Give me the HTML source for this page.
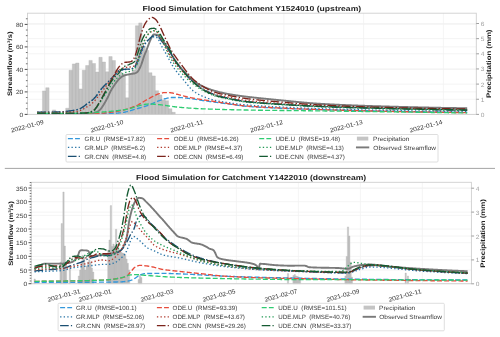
<!DOCTYPE html>
<html><head><meta charset="utf-8"><title>Flood Simulation</title>
<style>html,body{margin:0;padding:0;background:#fff;}svg{display:block;will-change:transform;}</style>
</head><body>
<svg text-rendering="geometricPrecision" width="500" height="337" viewBox="0 0 500 337" font-family='"Liberation Sans", sans-serif'><rect width="500" height="337" fill="#fff"/>
<path d="M27.5,114.4H476.3M27.5,91.9H476.3M27.5,69.4H476.3M27.5,46.9H476.3M27.5,24.4H476.3M27.5,114.4H476.3M27.5,99.25H476.3M27.5,84.1H476.3M27.5,68.95H476.3M27.5,53.8H476.3M27.5,38.65H476.3M27.5,23.5H476.3M44.6,13.2V114.4M124.35,13.2V114.4M204.1,13.2V114.4M283.85,13.2V114.4M363.6,13.2V114.4M443.35,13.2V114.4" stroke="#f0f0f0" stroke-width="0.75" fill="none"/>
<path d="M42.44,114.4H45.76V90.9H42.44ZM45.76,114.4H49.08V87.7H45.76ZM52.4,114.4H55.72V109.9H52.4ZM65.68,114.4H69V108.2H65.68ZM69,114.4H72.32V70.2H69ZM72.32,114.4H75.64V63.9H72.32ZM75.64,114.4H78.96V63H75.64ZM78.96,114.4H82.28V88.9H78.96ZM82.28,114.4H85.6V70.2H82.28ZM85.6,114.4H88.92V65.5H85.6ZM88.92,114.4H92.24V60.4H88.92ZM92.24,114.4H95.56V63.5H92.24ZM95.56,114.4H98.88V72H95.56ZM98.88,114.4H102.2V57.3H98.88ZM102.2,114.4H105.52V62H102.2ZM105.52,114.4H108.84V71.8H105.52ZM108.84,114.4H112.16V56.6H108.84ZM112.16,114.4H115.48V60.5H112.16ZM115.48,114.4H118.8V70H115.48ZM118.8,114.4H122.12V72H118.8ZM122.12,114.4H125.44V74H122.12ZM125.44,114.4H128.76V97.8H125.44ZM128.76,114.4H132.08V74H128.76ZM132.08,114.4H135.4V70H132.08ZM135.4,114.4H138.72V25.7H135.4ZM138.72,114.4H142.04V22.9H138.72ZM142.04,114.4H145.36V46H142.04ZM145.36,114.4H148.68V50.5H145.36ZM148.68,114.4H152V72.7H148.68ZM152,114.4H155.32V75.9H152ZM155.32,114.4H158.64V90.7H155.32ZM158.64,114.4H161.96V94.9H158.64ZM161.96,114.4H165.28V99.9H161.96ZM165.28,114.4H168.6V100.7H165.28ZM168.6,114.4H171.92V108.7H168.6ZM171.92,114.4H175.24V112.3H171.92Z" fill="#c4c4c4" stroke="#b4b4b4" stroke-width="0.35"/>
<clipPath id="c13"><rect x="27.5" y="13.2" width="448.8" height="101.2"/></clipPath>
<g clip-path="url(#c13)">
<path d="M37.2,113.9 L37.7,113.9 L38.2,113.9 L38.7,113.9 L39.2,113.9 L39.7,113.9 L40.2,113.9 L40.7,113.9 L41.2,113.9 L41.7,113.9 L42.2,113.9 L42.7,113.9 L43.2,113.9 L43.7,113.9 L44.2,113.9 L44.7,113.9 L45.2,113.9 L45.7,113.9 L46.2,113.9 L46.7,113.9 L47.2,113.9 L47.7,113.9 L48.2,113.9 L48.7,113.9 L49.2,113.9 L49.7,113.9 L49.9,113.9M51.8,113.9 L52.3,113.9 L52.8,113.9 L53.3,113.9 L53.8,113.9 L54.3,113.9 L54.8,113.9 L55.3,113.9 L55.8,113.9 L56.3,113.9 L56.8,113.9 L57.3,113.9 L57.8,113.9 L58.3,113.9 L58.8,113.9 L59.3,113.9 L59.8,113.9 L60.3,113.9 L60.8,113.9 L61.3,113.9 L61.8,113.9 L62.3,113.9 L62.8,113.9 L63.3,113.9 L63.8,113.9 L63.9,113.9M65.8,113.9 L66.3,113.9 L66.8,113.9 L67.3,113.9 L67.8,113.89 L68.3,113.89 L68.8,113.89 L69.3,113.89 L69.8,113.89 L70.3,113.89 L70.8,113.89 L71.3,113.89 L71.8,113.89 L72.3,113.89 L72.8,113.88 L73.3,113.88 L73.8,113.88 L74.3,113.88 L74.8,113.88 L75.3,113.88 L75.8,113.87 L76.3,113.87 L76.8,113.87 L77.3,113.87 L77.8,113.87 L78.3,113.86 L78.8,113.86 L79.3,113.86 L79.8,113.86 L80.3,113.85 L80.8,113.85 L81.3,113.85 L81.8,113.85 L82.3,113.84 L82.8,113.84 L83.3,113.84 L83.8,113.83 L84.3,113.83 L84.8,113.83 L85.3,113.82 L85.8,113.82 L86.3,113.81 L86.8,113.81 L87.3,113.81 L87.8,113.8 L88.3,113.8 L88.8,113.78 L89.3,113.75 L89.8,113.71 L90.3,113.67 L90.8,113.61 L91.3,113.55 L91.8,113.48 L92.3,113.41 L92.8,113.33 L93.3,113.24 L93.8,113.12 L94.3,112.95 L94.8,112.76 L95.3,112.55 L95.8,112.33 L96.3,112.09 L96.8,111.86 L97.3,111.6 L97.8,111.33 L98.3,111.03 L98.8,110.69 L99.3,110.32 L99.8,109.91 L100.3,109.41 L100.8,108.82 L101.3,108.16 L101.8,107.45 L102.3,106.7 L102.8,105.95 L103.3,105.2 L103.8,104.42 L104.3,103.6 L104.8,102.76 L105.3,101.89 L105.8,101 L106.3,100.09 L106.8,99.16 L107.3,98.19 L107.8,97.2 L108.3,96.18 L108.8,95.08 L109.3,93.95 L109.8,92.83 L110.3,91.78 L110.8,90.82 L111.3,89.92 L111.8,89.06 L112.3,88.24 L112.8,87.44 L113.3,86.66 L113.8,85.91 L114.3,85.18 L114.8,84.47 L115.3,83.77 L115.8,83.09 L116.3,82.4 L116.8,81.73 L117.3,81.07 L117.8,80.44 L118.3,79.84 L118.8,79.28 L119.3,78.78 L119.8,78.33 L120.3,77.9 L120.8,77.49 L121.3,77.1 L121.8,76.74 L122.3,76.41 L122.8,76.12 L123.3,75.88 L123.8,75.69 L124.3,75.51 L124.8,75.34 L125.3,75.19 L125.8,75.04 L126.3,74.91 L126.8,74.78 L127.3,74.67 L127.8,74.56 L128.3,74.45 L128.8,74.35 L129.3,74.25 L129.8,74.15 L130.3,74.06 L130.8,73.96 L131.3,73.88 L131.8,73.81 L132.3,73.75 L132.8,73.69 L133.3,73.63 L133.8,73.55 L134.3,73.46 L134.8,73.35 L135.3,73.21 L135.8,72.99 L136.3,72.71 L136.8,72.37 L137.3,71.97 L137.8,71.49 L138.3,70.78 L138.8,69.92 L139.3,68.98 L139.8,68.01 L140.3,66.93 L140.8,65.75 L141.3,64.48 L141.8,63.07 L142.3,61.59 L142.8,60.09 L143.3,58.51 L143.8,56.94 L144.3,55.5 L144.8,54.25 L145.3,53.11 L145.8,51.97 L146.3,50.74 L146.8,49.39 L147.3,48.01 L147.8,46.67 L148.3,45.33 L148.8,43.98 L149.3,42.66 L149.8,41.4 L150.3,40.23 L150.8,39.2 L151.3,38.19 L151.8,37.15 L152.3,36.15 L152.8,35.3 L153.3,34.69 L153.8,34.41 L154.3,34.41 L154.8,34.44 L155.3,34.5 L155.8,34.57 L156.3,34.66 L156.8,34.78 L157.3,35.02 L157.8,35.35 L158.3,35.75 L158.8,36.19 L159.3,36.63 L159.8,37.06 L160.3,37.54 L160.8,38.05 L161.3,38.61 L161.8,39.19 L162.3,39.8 L162.8,40.45 L163.3,41.15 L163.8,41.89 L164.3,42.67 L164.8,43.46 L165.3,44.28 L165.8,45.11 L166.3,45.93 L166.8,46.75 L167.3,47.56 L167.8,48.37 L168.3,49.21 L168.8,50.05 L169.3,50.9 L169.8,51.76 L170.3,52.63 L170.8,53.48 L171.3,54.34 L171.8,55.18 L172.3,56 L172.8,56.81 L173.3,57.59 L173.8,58.35 L174.3,59.09 L174.8,59.82 L175.3,60.54 L175.8,61.25 L176.3,61.96 L176.8,62.66 L177.3,63.34 L177.8,64.02 L178.3,64.69 L178.8,65.35 L179.3,66 L179.8,66.64 L180.3,67.26 L180.8,67.88 L181.3,68.48 L181.8,69.07 L182.3,69.64 L182.8,70.2 L183.3,70.73 L183.8,71.23 L184.3,71.72 L184.8,72.2 L185.3,72.7 L185.8,73.2 L186.3,73.71 L186.8,74.23 L187.3,74.75 L187.8,75.27 L188.3,75.79 L188.8,76.31 L189.3,76.83 L189.8,77.34 L190.3,77.84 L190.8,78.33 L191.3,78.81 L191.8,79.28 L192.3,79.73 L192.8,80.17 L193.3,80.58 L193.8,80.98 L194.3,81.35 L194.8,81.71 L195.3,82.06 L195.8,82.4 L196.3,82.74 L196.8,83.07 L197.3,83.39 L197.8,83.7 L198.3,84.01 L198.8,84.31 L199.3,84.6 L199.8,84.88 L200.3,85.15 L200.8,85.42 L201.3,85.68 L201.8,85.93 L202.3,86.18 L202.8,86.42 L203.3,86.65 L203.8,86.87 L204.3,87.09 L204.8,87.31 L205.3,87.52 L205.8,87.73 L206.3,87.94 L206.8,88.14 L207.3,88.33 L207.8,88.53 L208.3,88.72 L208.8,88.9 L209.3,89.09 L209.8,89.26 L210.3,89.44 L210.8,89.61 L211.3,89.78 L211.8,89.94 L212.3,90.1 L212.8,90.26 L213.3,90.42 L213.8,90.57 L214.3,90.71 L214.8,90.86 L215.3,91 L215.8,91.14 L216.3,91.28 L216.8,91.41 L217.3,91.54 L217.8,91.67 L218.3,91.8 L218.8,91.93 L219.3,92.05 L219.8,92.18 L220.3,92.3 L220.8,92.42 L221.3,92.53 L221.8,92.65 L222.3,92.76 L222.8,92.88 L223.3,92.99 L223.8,93.09 L224.3,93.2 L224.8,93.31 L225.3,93.41 L225.8,93.51 L226.3,93.61 L226.8,93.71 L227.3,93.81 L227.8,93.91 L228.3,94 L228.8,94.09 L229.3,94.19 L229.8,94.28 L230.3,94.36 L230.8,94.45 L231.3,94.54 L231.8,94.62 L232.3,94.71 L232.8,94.79 L233.3,94.87 L233.8,94.95 L234.3,95.03 L234.8,95.11 L235.3,95.18 L235.8,95.26 L236.3,95.33 L236.8,95.41 L237.3,95.48 L237.8,95.55 L238.3,95.62 L238.8,95.69 L239.3,95.76 L239.8,95.83 L240.3,95.89 L240.8,95.96 L241.3,96.03 L241.8,96.09 L242.3,96.16 L242.8,96.22 L243.3,96.29 L243.8,96.35 L244.3,96.41 L244.8,96.47 L245.3,96.54 L245.8,96.6 L246.3,96.66 L246.8,96.72 L247.3,96.78 L247.8,96.84 L248.3,96.9 L248.8,96.96 L249.3,97.02 L249.8,97.08 L250.3,97.14 L250.8,97.2 L251.3,97.26 L251.8,97.31 L252.3,97.37 L252.8,97.43 L253.3,97.48 L253.8,97.54 L254.3,97.59 L254.8,97.65 L255.3,97.71 L255.8,97.76 L256.3,97.81 L256.8,97.87 L257.3,97.92 L257.8,97.98 L258.3,98.03 L258.8,98.08 L259.3,98.14 L259.8,98.19 L260.3,98.24 L260.8,98.29 L261.3,98.35 L261.8,98.4 L262.3,98.45 L262.8,98.5 L263.3,98.55 L263.8,98.6 L264.3,98.65 L264.8,98.71 L265.3,98.76 L265.8,98.81 L266.3,98.86 L266.8,98.91 L267.3,98.96 L267.8,99.01 L268.3,99.06 L268.8,99.11 L269.3,99.16 L269.8,99.2 L270.3,99.25 L270.8,99.3 L271.3,99.35 L271.8,99.4 L272.3,99.45 L272.8,99.5 L273.3,99.55 L273.8,99.6 L274.3,99.65 L274.8,99.69 L275.3,99.74 L275.8,99.79 L276.3,99.84 L276.8,99.89 L277.3,99.94 L277.8,99.99 L278.3,100.03 L278.8,100.08 L279.3,100.13 L279.8,100.18 L280.3,100.23 L280.8,100.28 L281.3,100.33 L281.8,100.38 L282.3,100.43 L282.8,100.48 L283.3,100.53 L283.8,100.58 L284.3,100.63 L284.8,100.68 L285.3,100.73 L285.8,100.78 L286.3,100.83 L286.8,100.88 L287.3,100.93 L287.8,100.98 L288.3,101.03 L288.8,101.08 L289.3,101.13 L289.8,101.18 L290.3,101.23 L290.8,101.28 L291.3,101.33 L291.8,101.38 L292.3,101.43 L292.8,101.48 L293.3,101.53 L293.8,101.58 L294.3,101.63 L294.8,101.68 L295.3,101.73 L295.8,101.78 L296.3,101.83 L296.8,101.88 L297.3,101.93 L297.8,101.98 L298.3,102.03 L298.8,102.08 L299.3,102.13 L299.8,102.18 L300.3,102.22 L300.8,102.27 L301.3,102.32 L301.8,102.37 L302.3,102.41 L302.8,102.46 L303.3,102.51 L303.8,102.55 L304.3,102.6 L304.8,102.64 L305.3,102.69 L305.8,102.73 L306.3,102.78 L306.8,102.82 L307.3,102.86 L307.8,102.91 L308.3,102.95 L308.8,102.99 L309.3,103.03 L309.8,103.08 L310.3,103.12 L310.8,103.16 L311.3,103.2 L311.8,103.24 L312.3,103.27 L312.8,103.31 L313.3,103.35 L313.8,103.39 L314.3,103.42 L314.8,103.46 L315.3,103.5 L315.8,103.53 L316.3,103.57 L316.8,103.6 L317.3,103.63 L317.8,103.66 L318.3,103.7 L318.8,103.73 L319.3,103.76 L319.8,103.79 L320.3,103.82 L320.8,103.85 L321.3,103.88 L321.8,103.9 L322.3,103.93 L322.8,103.96 L323.3,103.99 L323.8,104.02 L324.3,104.04 L324.8,104.07 L325.3,104.1 L325.8,104.13 L326.3,104.15 L326.8,104.18 L327.3,104.21 L327.8,104.23 L328.3,104.26 L328.8,104.29 L329.3,104.31 L329.8,104.34 L330.3,104.37 L330.8,104.39 L331.3,104.42 L331.8,104.44 L332.3,104.47 L332.8,104.49 L333.3,104.52 L333.8,104.54 L334.3,104.57 L334.8,104.59 L335.3,104.62 L335.8,104.64 L336.3,104.66 L336.8,104.69 L337.3,104.71 L337.8,104.74 L338.3,104.76 L338.8,104.78 L339.3,104.81 L339.8,104.83 L340.3,104.85 L340.8,104.87 L341.3,104.9 L341.8,104.92 L342.3,104.94 L342.8,104.96 L343.3,104.99 L343.8,105.01 L344.3,105.03 L344.8,105.05 L345.3,105.07 L345.8,105.09 L346.3,105.12 L346.8,105.14 L347.3,105.16 L347.8,105.18 L348.3,105.2 L348.8,105.22 L349.3,105.24 L349.8,105.26 L350.3,105.28 L350.8,105.3 L351.3,105.32 L351.8,105.34 L352.3,105.36 L352.8,105.38 L353.3,105.4 L353.8,105.42 L354.3,105.44 L354.8,105.46 L355.3,105.48 L355.8,105.5 L356.3,105.52 L356.8,105.53 L357.3,105.55 L357.8,105.57 L358.3,105.59 L358.8,105.61 L359.3,105.63 L359.8,105.64 L360.3,105.66 L360.8,105.68 L361.3,105.7 L361.8,105.72 L362.3,105.73 L362.8,105.75 L363.3,105.77 L363.8,105.79 L364.3,105.8 L364.8,105.82 L365.3,105.84 L365.8,105.85 L366.3,105.87 L366.8,105.89 L367.3,105.9 L367.8,105.92 L368.3,105.94 L368.8,105.95 L369.3,105.97 L369.8,105.99 L370.3,106 L370.8,106.02 L371.3,106.03 L371.8,106.05 L372.3,106.07 L372.8,106.08 L373.3,106.1 L373.8,106.11 L374.3,106.13 L374.8,106.14 L375.3,106.16 L375.8,106.17 L376.3,106.19 L376.8,106.21 L377.3,106.22 L377.8,106.24 L378.3,106.25 L378.8,106.26 L379.3,106.28 L379.8,106.29 L380.3,106.31 L380.8,106.32 L381.3,106.34 L381.8,106.35 L382.3,106.37 L382.8,106.38 L383.3,106.4 L383.8,106.41 L384.3,106.42 L384.8,106.44 L385.3,106.45 L385.8,106.47 L386.3,106.48 L386.8,106.5 L387.3,106.51 L387.8,106.53 L388.3,106.54 L388.8,106.55 L389.3,106.57 L389.8,106.58 L390.3,106.6 L390.8,106.61 L391.3,106.62 L391.8,106.64 L392.3,106.65 L392.8,106.67 L393.3,106.68 L393.8,106.69 L394.3,106.71 L394.8,106.72 L395.3,106.74 L395.8,106.75 L396.3,106.76 L396.8,106.78 L397.3,106.79 L397.8,106.81 L398.3,106.82 L398.8,106.83 L399.3,106.85 L399.8,106.86 L400.3,106.87 L400.8,106.89 L401.3,106.9 L401.8,106.91 L402.3,106.93 L402.8,106.94 L403.3,106.95 L403.8,106.97 L404.3,106.98 L404.8,106.99 L405.3,107.01 L405.8,107.02 L406.3,107.03 L406.8,107.05 L407.3,107.06 L407.8,107.07 L408.3,107.09 L408.8,107.1 L409.3,107.11 L409.8,107.12 L410.3,107.14 L410.8,107.15 L411.3,107.16 L411.8,107.17 L412.3,107.19 L412.8,107.2 L413.3,107.21 L413.8,107.22 L414.3,107.24 L414.8,107.25 L415.3,107.26 L415.8,107.27 L416.3,107.29 L416.8,107.3 L417.3,107.31 L417.8,107.32 L418.3,107.33 L418.8,107.35 L419.3,107.36 L419.8,107.37 L420.3,107.38 L420.8,107.39 L421.3,107.41 L421.8,107.42 L422.3,107.43 L422.8,107.44 L423.3,107.45 L423.8,107.46 L424.3,107.47 L424.8,107.49 L425.3,107.5 L425.8,107.51 L426.3,107.52 L426.8,107.53 L427.3,107.54 L427.8,107.55 L428.3,107.56 L428.8,107.57 L429.3,107.59 L429.8,107.6 L430.3,107.61 L430.8,107.62 L431.3,107.63 L431.8,107.64 L432.3,107.65 L432.8,107.66 L433.3,107.67 L433.8,107.68 L434.3,107.69 L434.8,107.7 L435.3,107.71 L435.8,107.72 L436.3,107.73 L436.8,107.74 L437.3,107.75 L437.8,107.76 L438.3,107.77 L438.8,107.78 L439.3,107.79 L439.8,107.8 L440.3,107.81 L440.8,107.82 L441.3,107.83 L441.8,107.84 L442.3,107.84 L442.8,107.85 L443.3,107.86 L443.8,107.87 L444.3,107.88 L444.8,107.89 L445.3,107.9 L445.8,107.91 L446.3,107.92 L446.8,107.92 L447.3,107.93 L447.8,107.94 L448.3,107.95 L448.8,107.96 L449.3,107.96 L449.8,107.97 L450.3,107.98 L450.8,107.99 L451.3,108 L451.8,108 L452.3,108.01 L452.8,108.02 L453.3,108.03 L453.8,108.03 L454.3,108.04 L454.8,108.05 L455.3,108.06 L455.8,108.06 L456.3,108.07 L456.8,108.08 L457.3,108.08 L457.8,108.09 L458.3,108.1 L458.8,108.1 L459.3,108.11 L459.8,108.12 L460.3,108.12 L460.8,108.13 L461.3,108.13 L461.8,108.14 L462.3,108.15 L462.8,108.15 L463.3,108.16 L463.8,108.16 L464.3,108.17 L464.8,108.17 L465.3,108.18 L465.8,108.19 L466.3,108.19 L466.8,108.2 L467.2,108.2" fill="none" stroke="#7a7a7a" stroke-width="1.9" stroke-linejoin="round"/>
<path d="M37.2,114 L38,114 L38.8,114 L39.6,114 L40.4,114 L41.2,114 L42,114 L42.8,114 L43.6,114 L44.4,114 L45.2,114 L46,114 L46.8,114 L47.6,114 L48.4,114 L49.2,114 L49.9,114M51.8,114 L52.6,114 L53.4,114 L54.2,114 L55,114 L55.8,114 L56.6,114 L57.4,114 L58.2,114 L59,114 L59.8,114 L60.6,114 L61.4,114 L62.2,114 L63,114 L63.8,114 L63.9,114M65.8,114 L66.6,114 L67.4,114 L68.2,114 L69,114 L69.8,114 L70.6,114 L71.4,114 L72.2,114 L73,114 L73.8,114 L74.6,114 L75.4,114 L76.2,114 L77,114 L77.8,114 L78.6,114 L79.4,114 L80.2,114 L81,114 L81.8,114 L82.6,114 L83.4,113.99 L84.2,113.99 L85,113.99 L85.8,113.98 L86.6,113.98 L87.4,113.97 L88.2,113.97 L89,113.96 L89.8,113.96 L90.6,113.95 L91.4,113.94 L92.2,113.93 L93,113.92 L93.8,113.91 L94.6,113.9 L95.4,113.89 L96.2,113.88 L97,113.87 L97.8,113.85 L98.6,113.84 L99.4,113.83 L100.2,113.81 L101,113.8 L101.8,113.78 L102.6,113.77 L103.4,113.75 L104.2,113.74 L105,113.72 L105.8,113.7 L106.6,113.68 L107.4,113.66 L108.2,113.64 L109,113.63 L109.8,113.61 L110.6,113.58 L111.4,113.55 L112.2,113.51 L113,113.47 L113.8,113.42 L114.6,113.36 L115.4,113.3 L116.2,113.23 L117,113.16 L117.8,113.08 L118.6,112.99 L119.4,112.91 L120.2,112.82 L121,112.72 L121.8,112.62 L122.6,112.52 L123.4,112.39 L124.2,112.25 L125,112.09 L125.8,111.91 L126.6,111.72 L127.4,111.51 L128.2,111.3 L129,111.08 L129.8,110.85 L130.6,110.61 L131.4,110.37 L132.2,110.13 L133,109.89 L133.8,109.64 L134.6,109.41 L135.4,109.17 L136.2,108.94 L137,108.72 L137.8,108.49 L138.6,108.26 L139.4,108.02 L140.2,107.79 L141,107.55 L141.8,107.31 L142.6,107.06 L143.4,106.81 L144.2,106.56 L145,106.3 L145.8,106.04 L146.6,105.77 L147.4,105.49 L148.2,105.21 L149,104.93 L149.8,104.63 L150.6,104.31 L151.4,103.97 L152.2,103.63 L153,103.28 L153.8,102.93 L154.6,102.58 L155.4,102.23 L156.2,101.88 L157,101.55 L157.8,101.23 L158.6,100.92 L159.4,100.62 L160.2,100.31 L161,100.01 L161.8,99.72 L162.6,99.44 L163.4,99.18 L164.2,98.95 L165,98.75 L165.8,98.56 L166.6,98.36 L167.4,98.16 L168.2,97.98 L169,97.82 L169.8,97.68 L170.6,97.58 L171.4,97.51 L172.2,97.5 L173,97.5 L173.8,97.5 L174.6,97.5 L175.4,97.5 L176.2,97.5 L177,97.5 L177.8,97.5 L178.6,97.51 L179.4,97.54 L180.2,97.57 L181,97.62 L181.8,97.67 L182.6,97.74 L183.4,97.81 L184.2,97.89 L185,97.98 L185.8,98.07 L186.6,98.16 L187.4,98.25 L188.2,98.35 L189,98.44 L189.8,98.53 L190.6,98.62 L191.4,98.72 L192.2,98.82 L193,98.94 L193.8,99.06 L194.6,99.18 L195.4,99.31 L196.2,99.44 L197,99.58 L197.8,99.72 L198.6,99.86 L199.4,99.99 L200.2,100.13 L201,100.26 L201.8,100.39 L202.6,100.51 L203.4,100.63 L204.2,100.74 L205,100.86 L205.8,100.97 L206.6,101.08 L207.4,101.19 L208.2,101.3 L209,101.41 L209.8,101.51 L210.6,101.62 L211.4,101.73 L212.2,101.83 L213,101.94 L213.8,102.04 L214.6,102.14 L215.4,102.25 L216.2,102.35 L217,102.45 L217.8,102.55 L218.6,102.66 L219.4,102.76 L220.2,102.86 L221,102.96 L221.8,103.06 L222.6,103.17 L223.4,103.27 L224.2,103.37 L225,103.47 L225.8,103.58 L226.6,103.68 L227.4,103.79 L228.2,103.89 L229,104 L229.8,104.11 L230.6,104.21 L231.4,104.32 L232.2,104.44 L233,104.56 L233.8,104.68 L234.6,104.8 L235.4,104.93 L236.2,105.05 L237,105.17 L237.8,105.3 L238.6,105.42 L239.4,105.53 L240.2,105.65 L241,105.76 L241.8,105.86 L242.6,105.96 L243.4,106.05 L244.2,106.13 L245,106.2 L245.8,106.27 L246.6,106.33 L247.4,106.4 L248.2,106.46 L249,106.52 L249.8,106.58 L250.6,106.64 L251.4,106.7 L252.2,106.76 L253,106.81 L253.8,106.87 L254.6,106.92 L255.4,106.97 L256.2,107.02 L257,107.07 L257.8,107.12 L258.6,107.17 L259.4,107.21 L260.2,107.26 L261,107.3 L261.8,107.35 L262.6,107.39 L263.4,107.43 L264.2,107.47 L265,107.51 L265.8,107.55 L266.6,107.59 L267.4,107.63 L268.2,107.67 L269,107.71 L269.8,107.75 L270.6,107.78 L271.4,107.82 L272.2,107.86 L273,107.89 L273.8,107.93 L274.6,107.96 L275.4,108 L276.2,108.03 L277,108.07 L277.8,108.1 L278.6,108.14 L279.4,108.17 L280.2,108.21 L281,108.24 L281.8,108.28 L282.6,108.31 L283.4,108.35 L284.2,108.38 L285,108.41 L285.8,108.44 L286.6,108.48 L287.4,108.51 L288.2,108.54 L289,108.57 L289.8,108.6 L290.6,108.63 L291.4,108.66 L292.2,108.7 L293,108.73 L293.8,108.75 L294.6,108.78 L295.4,108.81 L296.2,108.84 L297,108.87 L297.8,108.9 L298.6,108.93 L299.4,108.96 L300.2,108.98 L301,109.01 L301.8,109.04 L302.6,109.06 L303.4,109.09 L304.2,109.12 L305,109.14 L305.8,109.17 L306.6,109.2 L307.4,109.22 L308.2,109.25 L309,109.27 L309.8,109.3 L310.6,109.32 L311.4,109.35 L312.2,109.37 L313,109.4 L313.8,109.42 L314.6,109.44 L315.4,109.47 L316.2,109.49 L317,109.51 L317.8,109.54 L318.6,109.56 L319.4,109.58 L320.2,109.61 L321,109.63 L321.8,109.65 L322.6,109.67 L323.4,109.7 L324.2,109.72 L325,109.74 L325.8,109.76 L326.6,109.78 L327.4,109.8 L328.2,109.83 L329,109.85 L329.8,109.87 L330.6,109.89 L331.4,109.91 L332.2,109.93 L333,109.95 L333.8,109.97 L334.6,109.99 L335.4,110.01 L336.2,110.03 L337,110.05 L337.8,110.07 L338.6,110.09 L339.4,110.11 L340.2,110.13 L341,110.15 L341.8,110.17 L342.6,110.19 L343.4,110.21 L344.2,110.23 L345,110.25 L345.8,110.27 L346.6,110.29 L347.4,110.31 L348.2,110.33 L349,110.35 L349.8,110.36 L350.6,110.38 L351.4,110.4 L352.2,110.42 L353,110.44 L353.8,110.46 L354.6,110.47 L355.4,110.49 L356.2,110.51 L357,110.53 L357.8,110.54 L358.6,110.56 L359.4,110.58 L360.2,110.6 L361,110.61 L361.8,110.63 L362.6,110.65 L363.4,110.66 L364.2,110.68 L365,110.7 L365.8,110.72 L366.6,110.73 L367.4,110.75 L368.2,110.77 L369,110.78 L369.8,110.8 L370.6,110.81 L371.4,110.83 L372.2,110.85 L373,110.86 L373.8,110.88 L374.6,110.89 L375.4,110.91 L376.2,110.93 L377,110.94 L377.8,110.96 L378.6,110.97 L379.4,110.99 L380.2,111 L381,111.02 L381.8,111.03 L382.6,111.05 L383.4,111.07 L384.2,111.08 L385,111.1 L385.8,111.11 L386.6,111.13 L387.4,111.14 L388.2,111.16 L389,111.17 L389.8,111.19 L390.6,111.2 L391.4,111.22 L392.2,111.23 L393,111.25 L393.8,111.26 L394.6,111.28 L395.4,111.29 L396.2,111.3 L397,111.32 L397.8,111.33 L398.6,111.35 L399.4,111.36 L400.2,111.38 L401,111.39 L401.8,111.41 L402.6,111.42 L403.4,111.44 L404.2,111.45 L405,111.46 L405.8,111.48 L406.6,111.49 L407.4,111.51 L408.2,111.52 L409,111.53 L409.8,111.55 L410.6,111.56 L411.4,111.58 L412.2,111.59 L413,111.6 L413.8,111.62 L414.6,111.63 L415.4,111.64 L416.2,111.66 L417,111.67 L417.8,111.69 L418.6,111.7 L419.4,111.71 L420.2,111.73 L421,111.74 L421.8,111.75 L422.6,111.77 L423.4,111.78 L424.2,111.79 L425,111.8 L425.8,111.82 L426.6,111.83 L427.4,111.84 L428.2,111.86 L429,111.87 L429.8,111.88 L430.6,111.89 L431.4,111.91 L432.2,111.92 L433,111.93 L433.8,111.94 L434.6,111.96 L435.4,111.97 L436.2,111.98 L437,111.99 L437.8,112 L438.6,112.02 L439.4,112.03 L440.2,112.04 L441,112.05 L441.8,112.06 L442.6,112.08 L443.4,112.09 L444.2,112.1 L445,112.11 L445.8,112.12 L446.6,112.13 L447.4,112.14 L448.2,112.16 L449,112.17 L449.8,112.18 L450.6,112.19 L451.4,112.2 L452.2,112.21 L453,112.22 L453.8,112.23 L454.6,112.24 L455.4,112.25 L456.2,112.26 L457,112.27 L457.8,112.28 L458.6,112.29 L459.4,112.3 L460.2,112.31 L461,112.32 L461.8,112.33 L462.6,112.34 L463.4,112.35 L464.2,112.36 L465,112.37 L465.8,112.38 L466.6,112.39 L467.2,112.4" fill="none" stroke="#3498db" stroke-width="1.35" stroke-dasharray="5,2.16"/>
<path d="M37.2,112.2 L38,112.2 L38.8,112.2 L39.6,112.2 L40.4,112.2 L41.2,112.19 L42,112.19 L42.8,112.19 L43.6,112.18 L44.4,112.18 L45.2,112.18 L46,112.17 L46.8,112.16 L47.6,112.16 L48.4,112.15 L49.2,112.14 L49.9,112.14M51.8,112.12 L52.6,112.11 L53.4,112.1 L54.2,112.09 L55,112.08 L55.8,112.07 L56.6,112.06 L57.4,112.04 L58.2,112.03 L59,112.02 L59.8,112 L60.6,111.99 L61.4,111.96 L62.2,111.91 L63,111.86 L63.8,111.8 L63.9,111.79M65.8,111.61 L66.6,111.52 L67.4,111.42 L68.2,111.33 L69,111.23 L69.8,111.13 L70.6,111.02 L71.4,110.91 L72.2,110.78 L73,110.65 L73.8,110.5 L74.6,110.34 L75.4,110.17 L76.2,109.98 L77,109.78 L77.8,109.56 L78.6,109.32 L79.4,109.07 L80.2,108.77 L81,108.37 L81.8,107.9 L82.6,107.39 L83.4,106.86 L84.2,106.26 L85,105.6 L85.8,104.95 L86.6,104.36 L87.4,103.8 L88.2,103.24 L89,102.67 L89.8,102.1 L90.6,101.52 L91.4,100.94 L92.2,100.31 L93,99.62 L93.8,98.86 L94.6,98.03 L95.4,97.15 L96.2,96.2 L97,95.13 L97.8,93.95 L98.6,92.73 L99.4,91.59 L100.2,90.59 L101,89.65 L101.8,88.76 L102.6,87.9 L103.4,87.06 L104.2,86.22 L105,85.37 L105.8,84.54 L106.6,83.72 L107.4,82.91 L108.2,82.11 L109,81.31 L109.8,80.5 L110.6,79.7 L111.4,78.9 L112.2,78.1 L113,77.3 L113.8,76.5 L114.6,75.67 L115.4,74.76 L116.2,73.83 L117,72.96 L117.8,72.21 L118.6,71.65 L119.4,71.25 L120.2,70.89 L121,70.56 L121.8,70.27 L122.6,70.02 L123.4,69.82 L124.2,69.67 L125,69.57 L125.8,69.5 L126.6,69.46 L127.4,69.42 L128.2,69.38 L129,69.34 L129.8,69.28 L130.6,69.2 L131.4,69.04 L132.2,68.75 L133,68.36 L133.8,67.88 L134.6,67.31 L135.4,66.61 L136.2,65.48 L137,64.03 L137.8,62.41 L138.6,60.64 L139.4,58.51 L140.2,56.18 L141,53.86 L141.8,51.74 L142.6,49.82 L143.4,47.91 L144.2,46.1 L145,44.48 L145.8,43.14 L146.6,42.05 L147.4,41.03 L148.2,40.11 L149,39.3 L149.8,38.63 L150.6,38.1 L151.4,37.7 L152.2,37.33 L153,37 L153.8,36.76 L154.6,36.62 L155.4,36.65 L156.2,37 L157,37.58 L157.8,38.31 L158.6,39.63 L159.4,41.4 L160.2,43.29 L161,45 L161.8,46.48 L162.6,47.91 L163.4,49.31 L164.2,50.69 L165,52.06 L165.8,53.45 L166.6,54.85 L167.4,56.3 L168.2,57.78 L169,59.28 L169.8,60.77 L170.6,62.25 L171.4,63.69 L172.2,65.08 L173,66.41 L173.8,67.65 L174.6,68.82 L175.4,69.93 L176.2,71.01 L177,72.04 L177.8,73.05 L178.6,74.03 L179.4,74.99 L180.2,75.94 L181,76.88 L181.8,77.82 L182.6,78.76 L183.4,79.72 L184.2,80.7 L185,81.69 L185.8,82.69 L186.6,83.69 L187.4,84.68 L188.2,85.66 L189,86.61 L189.8,87.53 L190.6,88.41 L191.4,89.25 L192.2,90.02 L193,90.74 L193.8,91.38 L194.6,91.95 L195.4,92.49 L196.2,93 L197,93.48 L197.8,93.94 L198.6,94.38 L199.4,94.79 L200.2,95.18 L201,95.55 L201.8,95.91 L202.6,96.25 L203.4,96.58 L204.2,96.9 L205,97.21 L205.8,97.52 L206.6,97.81 L207.4,98.1 L208.2,98.38 L209,98.64 L209.8,98.9 L210.6,99.15 L211.4,99.39 L212.2,99.62 L213,99.83 L213.8,100.04 L214.6,100.24 L215.4,100.42 L216.2,100.6 L217,100.77 L217.8,100.93 L218.6,101.09 L219.4,101.24 L220.2,101.39 L221,101.53 L221.8,101.67 L222.6,101.81 L223.4,101.94 L224.2,102.07 L225,102.19 L225.8,102.31 L226.6,102.43 L227.4,102.55 L228.2,102.67 L229,102.78 L229.8,102.9 L230.6,103.01 L231.4,103.13 L232.2,103.24 L233,103.36 L233.8,103.47 L234.6,103.58 L235.4,103.69 L236.2,103.8 L237,103.9 L237.8,104.01 L238.6,104.11 L239.4,104.21 L240.2,104.3 L241,104.4 L241.8,104.48 L242.6,104.57 L243.4,104.65 L244.2,104.73 L245,104.8 L245.8,104.87 L246.6,104.94 L247.4,105 L248.2,105.07 L249,105.13 L249.8,105.2 L250.6,105.26 L251.4,105.32 L252.2,105.38 L253,105.44 L253.8,105.49 L254.6,105.55 L255.4,105.61 L256.2,105.66 L257,105.71 L257.8,105.77 L258.6,105.82 L259.4,105.87 L260.2,105.92 L261,105.97 L261.8,106.02 L262.6,106.07 L263.4,106.11 L264.2,106.16 L265,106.21 L265.8,106.25 L266.6,106.3 L267.4,106.34 L268.2,106.38 L269,106.43 L269.8,106.47 L270.6,106.51 L271.4,106.56 L272.2,106.6 L273,106.64 L273.8,106.68 L274.6,106.72 L275.4,106.77 L276.2,106.81 L277,106.85 L277.8,106.89 L278.6,106.93 L279.4,106.97 L280.2,107.01 L281,107.05 L281.8,107.09 L282.6,107.13 L283.4,107.17 L284.2,107.21 L285,107.25 L285.8,107.29 L286.6,107.33 L287.4,107.37 L288.2,107.41 L289,107.44 L289.8,107.48 L290.6,107.52 L291.4,107.56 L292.2,107.6 L293,107.63 L293.8,107.67 L294.6,107.71 L295.4,107.74 L296.2,107.78 L297,107.81 L297.8,107.85 L298.6,107.88 L299.4,107.92 L300.2,107.95 L301,107.99 L301.8,108.02 L302.6,108.05 L303.4,108.09 L304.2,108.12 L305,108.15 L305.8,108.19 L306.6,108.22 L307.4,108.25 L308.2,108.28 L309,108.31 L309.8,108.34 L310.6,108.37 L311.4,108.4 L312.2,108.43 L313,108.46 L313.8,108.49 L314.6,108.52 L315.4,108.55 L316.2,108.57 L317,108.6 L317.8,108.63 L318.6,108.65 L319.4,108.68 L320.2,108.71 L321,108.73 L321.8,108.76 L322.6,108.78 L323.4,108.81 L324.2,108.83 L325,108.86 L325.8,108.88 L326.6,108.91 L327.4,108.93 L328.2,108.95 L329,108.98 L329.8,109 L330.6,109.02 L331.4,109.05 L332.2,109.07 L333,109.09 L333.8,109.12 L334.6,109.14 L335.4,109.16 L336.2,109.18 L337,109.2 L337.8,109.23 L338.6,109.25 L339.4,109.27 L340.2,109.29 L341,109.31 L341.8,109.33 L342.6,109.35 L343.4,109.38 L344.2,109.4 L345,109.42 L345.8,109.44 L346.6,109.46 L347.4,109.48 L348.2,109.5 L349,109.52 L349.8,109.54 L350.6,109.56 L351.4,109.58 L352.2,109.6 L353,109.61 L353.8,109.63 L354.6,109.65 L355.4,109.67 L356.2,109.69 L357,109.71 L357.8,109.73 L358.6,109.75 L359.4,109.76 L360.2,109.78 L361,109.8 L361.8,109.82 L362.6,109.84 L363.4,109.85 L364.2,109.87 L365,109.89 L365.8,109.91 L366.6,109.92 L367.4,109.94 L368.2,109.96 L369,109.97 L369.8,109.99 L370.6,110.01 L371.4,110.03 L372.2,110.04 L373,110.06 L373.8,110.07 L374.6,110.09 L375.4,110.11 L376.2,110.12 L377,110.14 L377.8,110.16 L378.6,110.17 L379.4,110.19 L380.2,110.2 L381,110.22 L381.8,110.24 L382.6,110.25 L383.4,110.27 L384.2,110.28 L385,110.3 L385.8,110.31 L386.6,110.33 L387.4,110.35 L388.2,110.36 L389,110.38 L389.8,110.39 L390.6,110.41 L391.4,110.42 L392.2,110.44 L393,110.45 L393.8,110.47 L394.6,110.48 L395.4,110.5 L396.2,110.51 L397,110.53 L397.8,110.54 L398.6,110.56 L399.4,110.57 L400.2,110.59 L401,110.6 L401.8,110.62 L402.6,110.63 L403.4,110.65 L404.2,110.66 L405,110.68 L405.8,110.69 L406.6,110.71 L407.4,110.72 L408.2,110.73 L409,110.75 L409.8,110.76 L410.6,110.78 L411.4,110.79 L412.2,110.8 L413,110.82 L413.8,110.83 L414.6,110.85 L415.4,110.86 L416.2,110.87 L417,110.89 L417.8,110.9 L418.6,110.92 L419.4,110.93 L420.2,110.94 L421,110.96 L421.8,110.97 L422.6,110.98 L423.4,111 L424.2,111.01 L425,111.02 L425.8,111.03 L426.6,111.05 L427.4,111.06 L428.2,111.07 L429,111.09 L429.8,111.1 L430.6,111.11 L431.4,111.12 L432.2,111.14 L433,111.15 L433.8,111.16 L434.6,111.17 L435.4,111.19 L436.2,111.2 L437,111.21 L437.8,111.22 L438.6,111.23 L439.4,111.24 L440.2,111.26 L441,111.27 L441.8,111.28 L442.6,111.29 L443.4,111.3 L444.2,111.31 L445,111.32 L445.8,111.34 L446.6,111.35 L447.4,111.36 L448.2,111.37 L449,111.38 L449.8,111.39 L450.6,111.4 L451.4,111.41 L452.2,111.42 L453,111.43 L453.8,111.44 L454.6,111.45 L455.4,111.46 L456.2,111.47 L457,111.48 L457.8,111.49 L458.6,111.5 L459.4,111.51 L460.2,111.52 L461,111.53 L461.8,111.54 L462.6,111.55 L463.4,111.56 L464.2,111.57 L465,111.58 L465.8,111.58 L466.6,111.59 L467.2,111.6" fill="none" stroke="#2874a6" stroke-width="1.35" stroke-dasharray="1.35,2.23"/>
<path d="M37.2,112.2 L38,112.2 L38.8,112.2 L39.6,112.2 L40.4,112.19 L41.2,112.19 L42,112.19 L42.8,112.18 L43.6,112.17 L44.4,112.17 L45.2,112.16 L46,112.15 L46.8,112.14 L47.6,112.14 L48.4,112.13 L49.2,112.11 L49.9,112.1M51.8,112.07 L52.6,112.06 L53.4,112.05 L54.2,112.03 L55,112.01 L55.8,112 L56.6,111.98 L57.4,111.96 L58.2,111.94 L59,111.93 L59.8,111.91 L60.6,111.88 L61.4,111.84 L62.2,111.79 L63,111.73 L63.8,111.66 L63.9,111.65M65.8,111.45 L66.6,111.35 L67.4,111.25 L68.2,111.15 L69,111.04 L69.8,110.93 L70.6,110.82 L71.4,110.7 L72.2,110.57 L73,110.43 L73.8,110.29 L74.6,110.13 L75.4,109.96 L76.2,109.77 L77,109.57 L77.8,109.36 L78.6,109.12 L79.4,108.87 L80.2,108.57 L81,108.17 L81.8,107.7 L82.6,107.19 L83.4,106.66 L84.2,106.06 L85,105.4 L85.8,104.75 L86.6,104.16 L87.4,103.6 L88.2,103.04 L89,102.47 L89.8,101.9 L90.6,101.32 L91.4,100.74 L92.2,100.11 L93,99.42 L93.8,98.66 L94.6,97.84 L95.4,96.95 L96.2,96 L97,94.9 L97.8,93.66 L98.6,92.39 L99.4,91.2 L100.2,90.18 L101,89.23 L101.8,88.34 L102.6,87.49 L103.4,86.65 L104.2,85.82 L105,84.97 L105.8,84.15 L106.6,83.33 L107.4,82.52 L108.2,81.72 L109,80.92 L109.8,80.11 L110.6,79.3 L111.4,78.48 L112.2,77.66 L113,76.84 L113.8,76.01 L114.6,75.13 L115.4,74.13 L116.2,73.12 L117,72.17 L117.8,71.38 L118.6,70.84 L119.4,70.52 L120.2,70.25 L121,70 L121.8,69.79 L122.6,69.62 L123.4,69.47 L124.2,69.36 L125,69.27 L125.8,69.21 L126.6,69.16 L127.4,69.13 L128.2,69.09 L129,69.05 L129.8,68.99 L130.6,68.9 L131.4,68.72 L132.2,68.4 L133,67.94 L133.8,67.37 L134.6,66.68 L135.4,65.78 L136.2,64.14 L137,62.07 L137.8,60 L138.6,57.96 L139.4,55.76 L140.2,53.53 L141,51.41 L141.8,49.51 L142.6,47.83 L143.4,46.22 L144.2,44.71 L145,43.37 L145.8,42.24 L146.6,41.35 L147.4,40.63 L148.2,39.98 L149,39.3 L149.8,38.52 L150.6,37.69 L151.4,36.93 L152.2,36.35 L153,35.93 L153.8,35.56 L154.6,35.33 L155.4,35.34 L156.2,35.63 L157,36.13 L157.8,36.74 L158.6,37.38 L159.4,38.17 L160.2,39.17 L161,40.27 L161.8,41.39 L162.6,42.42 L163.4,43.39 L164.2,44.33 L165,45.28 L165.8,46.25 L166.6,47.25 L167.4,48.26 L168.2,49.28 L169,50.35 L169.8,51.5 L170.6,52.79 L171.4,54.26 L172.2,55.82 L173,57.35 L173.8,58.74 L174.6,59.98 L175.4,61.18 L176.2,62.33 L177,63.45 L177.8,64.53 L178.6,65.58 L179.4,66.61 L180.2,67.62 L181,68.61 L181.8,69.59 L182.6,70.56 L183.4,71.52 L184.2,72.48 L185,73.43 L185.8,74.37 L186.6,75.3 L187.4,76.2 L188.2,77.08 L189,77.94 L189.8,78.77 L190.6,79.56 L191.4,80.32 L192.2,81.05 L193,81.76 L193.8,82.45 L194.6,83.13 L195.4,83.78 L196.2,84.42 L197,85.03 L197.8,85.62 L198.6,86.19 L199.4,86.73 L200.2,87.25 L201,87.75 L201.8,88.23 L202.6,88.71 L203.4,89.18 L204.2,89.64 L205,90.09 L205.8,90.54 L206.6,90.97 L207.4,91.39 L208.2,91.8 L209,92.19 L209.8,92.58 L210.6,92.94 L211.4,93.3 L212.2,93.64 L213,93.96 L213.8,94.27 L214.6,94.56 L215.4,94.83 L216.2,95.09 L217,95.34 L217.8,95.58 L218.6,95.81 L219.4,96.04 L220.2,96.25 L221,96.46 L221.8,96.66 L222.6,96.86 L223.4,97.05 L224.2,97.23 L225,97.41 L225.8,97.59 L226.6,97.77 L227.4,97.94 L228.2,98.11 L229,98.28 L229.8,98.45 L230.6,98.62 L231.4,98.79 L232.2,98.96 L233,99.13 L233.8,99.31 L234.6,99.47 L235.4,99.64 L236.2,99.81 L237,99.97 L237.8,100.13 L238.6,100.28 L239.4,100.43 L240.2,100.57 L241,100.71 L241.8,100.85 L242.6,100.97 L243.4,101.09 L244.2,101.2 L245,101.3 L245.8,101.4 L246.6,101.49 L247.4,101.58 L248.2,101.67 L249,101.76 L249.8,101.84 L250.6,101.93 L251.4,102.01 L252.2,102.09 L253,102.17 L253.8,102.24 L254.6,102.32 L255.4,102.39 L256.2,102.46 L257,102.53 L257.8,102.6 L258.6,102.67 L259.4,102.74 L260.2,102.8 L261,102.86 L261.8,102.93 L262.6,102.99 L263.4,103.05 L264.2,103.11 L265,103.17 L265.8,103.23 L266.6,103.29 L267.4,103.34 L268.2,103.4 L269,103.46 L269.8,103.51 L270.6,103.57 L271.4,103.62 L272.2,103.67 L273,103.73 L273.8,103.78 L274.6,103.84 L275.4,103.89 L276.2,103.94 L277,104 L277.8,104.05 L278.6,104.11 L279.4,104.16 L280.2,104.21 L281,104.27 L281.8,104.32 L282.6,104.38 L283.4,104.43 L284.2,104.48 L285,104.54 L285.8,104.59 L286.6,104.64 L287.4,104.7 L288.2,104.75 L289,104.8 L289.8,104.85 L290.6,104.9 L291.4,104.95 L292.2,105.01 L293,105.06 L293.8,105.11 L294.6,105.16 L295.4,105.21 L296.2,105.25 L297,105.3 L297.8,105.35 L298.6,105.4 L299.4,105.45 L300.2,105.49 L301,105.54 L301.8,105.59 L302.6,105.63 L303.4,105.68 L304.2,105.72 L305,105.77 L305.8,105.81 L306.6,105.86 L307.4,105.9 L308.2,105.94 L309,105.98 L309.8,106.02 L310.6,106.06 L311.4,106.1 L312.2,106.14 L313,106.18 L313.8,106.22 L314.6,106.26 L315.4,106.3 L316.2,106.33 L317,106.37 L317.8,106.41 L318.6,106.44 L319.4,106.47 L320.2,106.51 L321,106.54 L321.8,106.57 L322.6,106.61 L323.4,106.64 L324.2,106.67 L325,106.7 L325.8,106.73 L326.6,106.76 L327.4,106.8 L328.2,106.83 L329,106.86 L329.8,106.89 L330.6,106.92 L331.4,106.95 L332.2,106.97 L333,107 L333.8,107.03 L334.6,107.06 L335.4,107.09 L336.2,107.12 L337,107.14 L337.8,107.17 L338.6,107.2 L339.4,107.23 L340.2,107.25 L341,107.28 L341.8,107.31 L342.6,107.33 L343.4,107.36 L344.2,107.38 L345,107.41 L345.8,107.44 L346.6,107.46 L347.4,107.49 L348.2,107.51 L349,107.54 L349.8,107.56 L350.6,107.58 L351.4,107.61 L352.2,107.63 L353,107.66 L353.8,107.68 L354.6,107.7 L355.4,107.73 L356.2,107.75 L357,107.77 L357.8,107.8 L358.6,107.82 L359.4,107.84 L360.2,107.87 L361,107.89 L361.8,107.91 L362.6,107.93 L363.4,107.96 L364.2,107.98 L365,108 L365.8,108.02 L366.6,108.04 L367.4,108.07 L368.2,108.09 L369,108.11 L369.8,108.13 L370.6,108.15 L371.4,108.17 L372.2,108.19 L373,108.22 L373.8,108.24 L374.6,108.26 L375.4,108.28 L376.2,108.3 L377,108.32 L377.8,108.34 L378.6,108.36 L379.4,108.38 L380.2,108.41 L381,108.43 L381.8,108.45 L382.6,108.47 L383.4,108.49 L384.2,108.51 L385,108.53 L385.8,108.55 L386.6,108.57 L387.4,108.59 L388.2,108.61 L389,108.63 L389.8,108.65 L390.6,108.67 L391.4,108.69 L392.2,108.71 L393,108.73 L393.8,108.75 L394.6,108.77 L395.4,108.79 L396.2,108.81 L397,108.83 L397.8,108.85 L398.6,108.87 L399.4,108.89 L400.2,108.91 L401,108.93 L401.8,108.95 L402.6,108.97 L403.4,108.99 L404.2,109.01 L405,109.03 L405.8,109.05 L406.6,109.07 L407.4,109.09 L408.2,109.11 L409,109.13 L409.8,109.14 L410.6,109.16 L411.4,109.18 L412.2,109.2 L413,109.22 L413.8,109.24 L414.6,109.26 L415.4,109.28 L416.2,109.29 L417,109.31 L417.8,109.33 L418.6,109.35 L419.4,109.37 L420.2,109.38 L421,109.4 L421.8,109.42 L422.6,109.44 L423.4,109.46 L424.2,109.47 L425,109.49 L425.8,109.51 L426.6,109.53 L427.4,109.54 L428.2,109.56 L429,109.58 L429.8,109.6 L430.6,109.61 L431.4,109.63 L432.2,109.65 L433,109.66 L433.8,109.68 L434.6,109.7 L435.4,109.71 L436.2,109.73 L437,109.75 L437.8,109.76 L438.6,109.78 L439.4,109.8 L440.2,109.81 L441,109.83 L441.8,109.84 L442.6,109.86 L443.4,109.88 L444.2,109.89 L445,109.91 L445.8,109.92 L446.6,109.94 L447.4,109.95 L448.2,109.97 L449,109.98 L449.8,110 L450.6,110.01 L451.4,110.03 L452.2,110.04 L453,110.06 L453.8,110.07 L454.6,110.09 L455.4,110.1 L456.2,110.11 L457,110.13 L457.8,110.14 L458.6,110.16 L459.4,110.17 L460.2,110.18 L461,110.2 L461.8,110.21 L462.6,110.22 L463.4,110.24 L464.2,110.25 L465,110.26 L465.8,110.28 L466.6,110.29 L467.2,110.3" fill="none" stroke="#1b4f72" stroke-width="1.35" stroke-dasharray="8.64,2.16,1.35,2.16"/>
<path d="M37.2,114 L38,114 L38.8,114 L39.6,114 L40.4,114 L41.2,114 L42,114 L42.8,114 L43.6,114 L44.4,114 L45.2,114 L46,114 L46.8,114 L47.6,113.99 L48.4,113.99 L49.2,113.99 L49.9,113.99M51.8,113.99 L52.6,113.99 L53.4,113.99 L54.2,113.98 L55,113.98 L55.8,113.98 L56.6,113.98 L57.4,113.98 L58.2,113.98 L59,113.97 L59.8,113.97 L60.6,113.97 L61.4,113.97 L62.2,113.97 L63,113.96 L63.8,113.96 L63.9,113.96M65.8,113.96 L66.6,113.95 L67.4,113.95 L68.2,113.95 L69,113.95 L69.8,113.94 L70.6,113.94 L71.4,113.94 L72.2,113.93 L73,113.93 L73.8,113.93 L74.6,113.92 L75.4,113.92 L76.2,113.92 L77,113.91 L77.8,113.91 L78.6,113.91 L79.4,113.9 L80.2,113.9 L81,113.89 L81.8,113.89 L82.6,113.88 L83.4,113.87 L84.2,113.85 L85,113.84 L85.8,113.82 L86.6,113.8 L87.4,113.78 L88.2,113.76 L89,113.74 L89.8,113.72 L90.6,113.69 L91.4,113.66 L92.2,113.63 L93,113.6 L93.8,113.57 L94.6,113.54 L95.4,113.51 L96.2,113.47 L97,113.44 L97.8,113.4 L98.6,113.37 L99.4,113.33 L100.2,113.29 L101,113.25 L101.8,113.2 L102.6,113.14 L103.4,113.08 L104.2,113.02 L105,112.94 L105.8,112.87 L106.6,112.78 L107.4,112.7 L108.2,112.61 L109,112.51 L109.8,112.41 L110.6,112.3 L111.4,112.19 L112.2,112.08 L113,111.96 L113.8,111.84 L114.6,111.72 L115.4,111.59 L116.2,111.46 L117,111.33 L117.8,111.19 L118.6,111.05 L119.4,110.91 L120.2,110.76 L121,110.61 L121.8,110.44 L122.6,110.26 L123.4,110.07 L124.2,109.86 L125,109.65 L125.8,109.42 L126.6,109.19 L127.4,108.94 L128.2,108.68 L129,108.42 L129.8,108.15 L130.6,107.87 L131.4,107.58 L132.2,107.28 L133,106.98 L133.8,106.67 L134.6,106.36 L135.4,106.04 L136.2,105.72 L137,105.37 L137.8,104.99 L138.6,104.58 L139.4,104.14 L140.2,103.69 L141,103.22 L141.8,102.74 L142.6,102.25 L143.4,101.76 L144.2,101.26 L145,100.77 L145.8,100.29 L146.6,99.82 L147.4,99.36 L148.2,98.92 L149,98.5 L149.8,98.07 L150.6,97.64 L151.4,97.21 L152.2,96.77 L153,96.35 L153.8,95.93 L154.6,95.53 L155.4,95.15 L156.2,94.8 L157,94.47 L157.8,94.19 L158.6,93.94 L159.4,93.7 L160.2,93.46 L161,93.23 L161.8,93.02 L162.6,92.84 L163.4,92.7 L164.2,92.62 L165,92.6 L165.8,92.6 L166.6,92.61 L167.4,92.63 L168.2,92.65 L169,92.67 L169.8,92.69 L170.6,92.74 L171.4,92.83 L172.2,92.98 L173,93.15 L173.8,93.36 L174.6,93.58 L175.4,93.81 L176.2,94.04 L177,94.25 L177.8,94.45 L178.6,94.64 L179.4,94.84 L180.2,95.04 L181,95.25 L181.8,95.46 L182.6,95.68 L183.4,95.89 L184.2,96.1 L185,96.31 L185.8,96.52 L186.6,96.73 L187.4,96.92 L188.2,97.12 L189,97.3 L189.8,97.47 L190.6,97.64 L191.4,97.8 L192.2,97.95 L193,98.1 L193.8,98.25 L194.6,98.39 L195.4,98.53 L196.2,98.67 L197,98.8 L197.8,98.94 L198.6,99.07 L199.4,99.2 L200.2,99.32 L201,99.45 L201.8,99.58 L202.6,99.7 L203.4,99.83 L204.2,99.96 L205,100.08 L205.8,100.2 L206.6,100.32 L207.4,100.44 L208.2,100.56 L209,100.67 L209.8,100.79 L210.6,100.91 L211.4,101.02 L212.2,101.14 L213,101.26 L213.8,101.37 L214.6,101.49 L215.4,101.62 L216.2,101.74 L217,101.86 L217.8,101.99 L218.6,102.12 L219.4,102.25 L220.2,102.38 L221,102.51 L221.8,102.64 L222.6,102.77 L223.4,102.9 L224.2,103.03 L225,103.16 L225.8,103.29 L226.6,103.41 L227.4,103.54 L228.2,103.66 L229,103.78 L229.8,103.9 L230.6,104.01 L231.4,104.13 L232.2,104.25 L233,104.36 L233.8,104.48 L234.6,104.6 L235.4,104.72 L236.2,104.83 L237,104.95 L237.8,105.06 L238.6,105.17 L239.4,105.28 L240.2,105.38 L241,105.48 L241.8,105.57 L242.6,105.66 L243.4,105.75 L244.2,105.83 L245,105.9 L245.8,105.97 L246.6,106.04 L247.4,106.1 L248.2,106.17 L249,106.23 L249.8,106.29 L250.6,106.35 L251.4,106.41 L252.2,106.47 L253,106.52 L253.8,106.58 L254.6,106.63 L255.4,106.69 L256.2,106.74 L257,106.79 L257.8,106.84 L258.6,106.89 L259.4,106.94 L260.2,106.99 L261,107.03 L261.8,107.08 L262.6,107.12 L263.4,107.17 L264.2,107.21 L265,107.26 L265.8,107.3 L266.6,107.34 L267.4,107.38 L268.2,107.42 L269,107.46 L269.8,107.5 L270.6,107.54 L271.4,107.58 L272.2,107.62 L273,107.66 L273.8,107.7 L274.6,107.74 L275.4,107.78 L276.2,107.82 L277,107.86 L277.8,107.89 L278.6,107.93 L279.4,107.97 L280.2,108.01 L281,108.05 L281.8,108.09 L282.6,108.12 L283.4,108.16 L284.2,108.2 L285,108.24 L285.8,108.27 L286.6,108.31 L287.4,108.34 L288.2,108.38 L289,108.42 L289.8,108.45 L290.6,108.49 L291.4,108.52 L292.2,108.56 L293,108.59 L293.8,108.62 L294.6,108.66 L295.4,108.69 L296.2,108.72 L297,108.76 L297.8,108.79 L298.6,108.82 L299.4,108.85 L300.2,108.89 L301,108.92 L301.8,108.95 L302.6,108.98 L303.4,109.01 L304.2,109.04 L305,109.07 L305.8,109.1 L306.6,109.13 L307.4,109.16 L308.2,109.19 L309,109.22 L309.8,109.25 L310.6,109.28 L311.4,109.31 L312.2,109.34 L313,109.36 L313.8,109.39 L314.6,109.42 L315.4,109.45 L316.2,109.47 L317,109.5 L317.8,109.53 L318.6,109.55 L319.4,109.58 L320.2,109.61 L321,109.63 L321.8,109.66 L322.6,109.68 L323.4,109.71 L324.2,109.73 L325,109.76 L325.8,109.79 L326.6,109.81 L327.4,109.84 L328.2,109.86 L329,109.88 L329.8,109.91 L330.6,109.93 L331.4,109.96 L332.2,109.98 L333,110.01 L333.8,110.03 L334.6,110.05 L335.4,110.08 L336.2,110.1 L337,110.13 L337.8,110.15 L338.6,110.17 L339.4,110.2 L340.2,110.22 L341,110.24 L341.8,110.26 L342.6,110.29 L343.4,110.31 L344.2,110.33 L345,110.35 L345.8,110.38 L346.6,110.4 L347.4,110.42 L348.2,110.44 L349,110.46 L349.8,110.49 L350.6,110.51 L351.4,110.53 L352.2,110.55 L353,110.57 L353.8,110.59 L354.6,110.61 L355.4,110.63 L356.2,110.65 L357,110.67 L357.8,110.69 L358.6,110.71 L359.4,110.73 L360.2,110.75 L361,110.77 L361.8,110.79 L362.6,110.81 L363.4,110.83 L364.2,110.85 L365,110.87 L365.8,110.89 L366.6,110.91 L367.4,110.93 L368.2,110.94 L369,110.96 L369.8,110.98 L370.6,111 L371.4,111.02 L372.2,111.03 L373,111.05 L373.8,111.07 L374.6,111.09 L375.4,111.1 L376.2,111.12 L377,111.14 L377.8,111.15 L378.6,111.17 L379.4,111.19 L380.2,111.2 L381,111.22 L381.8,111.24 L382.6,111.25 L383.4,111.27 L384.2,111.29 L385,111.3 L385.8,111.32 L386.6,111.33 L387.4,111.35 L388.2,111.36 L389,111.38 L389.8,111.4 L390.6,111.41 L391.4,111.43 L392.2,111.44 L393,111.46 L393.8,111.48 L394.6,111.49 L395.4,111.51 L396.2,111.52 L397,111.54 L397.8,111.55 L398.6,111.57 L399.4,111.58 L400.2,111.6 L401,111.61 L401.8,111.63 L402.6,111.64 L403.4,111.66 L404.2,111.67 L405,111.69 L405.8,111.7 L406.6,111.72 L407.4,111.73 L408.2,111.75 L409,111.76 L409.8,111.78 L410.6,111.79 L411.4,111.8 L412.2,111.82 L413,111.83 L413.8,111.85 L414.6,111.86 L415.4,111.88 L416.2,111.89 L417,111.9 L417.8,111.92 L418.6,111.93 L419.4,111.94 L420.2,111.96 L421,111.97 L421.8,111.99 L422.6,112 L423.4,112.01 L424.2,112.03 L425,112.04 L425.8,112.05 L426.6,112.06 L427.4,112.08 L428.2,112.09 L429,112.1 L429.8,112.12 L430.6,112.13 L431.4,112.14 L432.2,112.15 L433,112.17 L433.8,112.18 L434.6,112.19 L435.4,112.2 L436.2,112.21 L437,112.23 L437.8,112.24 L438.6,112.25 L439.4,112.26 L440.2,112.27 L441,112.28 L441.8,112.29 L442.6,112.31 L443.4,112.32 L444.2,112.33 L445,112.34 L445.8,112.35 L446.6,112.36 L447.4,112.37 L448.2,112.38 L449,112.39 L449.8,112.4 L450.6,112.41 L451.4,112.42 L452.2,112.43 L453,112.44 L453.8,112.45 L454.6,112.46 L455.4,112.47 L456.2,112.48 L457,112.49 L457.8,112.5 L458.6,112.51 L459.4,112.52 L460.2,112.53 L461,112.54 L461.8,112.54 L462.6,112.55 L463.4,112.56 L464.2,112.57 L465,112.58 L465.8,112.59 L466.6,112.59 L467.2,112.6" fill="none" stroke="#e74c3c" stroke-width="1.35" stroke-dasharray="5,2.16"/>
<path d="M37.2,112.3 L38,112.3 L38.8,112.3 L39.6,112.3 L40.4,112.3 L41.2,112.3 L42,112.3 L42.8,112.3 L43.6,112.3 L44.4,112.3 L45.2,112.3 L46,112.3 L46.8,112.3 L47.6,112.3 L48.4,112.3 L49.2,112.3 L49.9,112.3M51.8,112.3 L52.6,112.3 L53.4,112.3 L54.2,112.3 L55,112.3 L55.8,112.3 L56.6,112.3 L57.4,112.3 L58.2,112.3 L59,112.3 L59.8,112.3 L60.6,112.3 L61.4,112.29 L62.2,112.28 L63,112.26 L63.8,112.25 L63.9,112.24M65.8,112.18 L66.6,112.15 L67.4,112.12 L68.2,112.08 L69,112.05 L69.8,112.01 L70.6,111.97 L71.4,111.92 L72.2,111.87 L73,111.81 L73.8,111.74 L74.6,111.66 L75.4,111.57 L76.2,111.47 L77,111.36 L77.8,111.23 L78.6,111.08 L79.4,110.85 L80.2,110.56 L81,110.24 L81.8,109.89 L82.6,109.51 L83.4,109.05 L84.2,108.54 L85,108.02 L85.8,107.52 L86.6,107.07 L87.4,106.66 L88.2,106.25 L89,105.81 L89.8,105.3 L90.6,104.68 L91.4,103.95 L92.2,103.19 L93,102.43 L93.8,101.65 L94.6,100.83 L95.4,99.91 L96.2,98.9 L97,97.87 L97.8,96.91 L98.6,96 L99.4,95.07 L100.2,94.07 L101,93.02 L101.8,91.94 L102.6,90.84 L103.4,89.72 L104.2,88.59 L105,87.48 L105.8,86.38 L106.6,85.3 L107.4,84.24 L108.2,83.19 L109,82.14 L109.8,81.09 L110.6,80.03 L111.4,78.94 L112.2,77.83 L113,76.75 L113.8,75.74 L114.6,74.79 L115.4,73.84 L116.2,72.93 L117,72.07 L117.8,71.31 L118.6,70.67 L119.4,70.13 L120.2,69.61 L121,69.12 L121.8,68.68 L122.6,68.29 L123.4,67.96 L124.2,67.71 L125,67.55 L125.8,67.43 L126.6,67.34 L127.4,67.26 L128.2,67.19 L129,67.12 L129.8,67.02 L130.6,66.9 L131.4,66.75 L132.2,66.58 L133,66.36 L133.8,66.08 L134.6,65.72 L135.4,65.15 L136.2,63.85 L137,62.02 L137.8,60 L138.6,57.85 L139.4,55.25 L140.2,52.52 L141,50 L141.8,47.67 L142.6,45.35 L143.4,43.15 L144.2,41.17 L145,39.5 L145.8,38.05 L146.6,36.66 L147.4,35.39 L148.2,34.27 L149,33.34 L149.8,32.64 L150.6,32.12 L151.4,31.64 L152.2,31.24 L153,30.95 L153.8,30.81 L154.6,30.87 L155.4,31.15 L156.2,31.6 L157,32.18 L157.8,32.83 L158.6,33.67 L159.4,34.96 L160.2,36.55 L161,38.27 L161.8,39.93 L162.6,41.43 L163.4,42.95 L164.2,44.5 L165,46.07 L165.8,47.64 L166.6,49.21 L167.4,50.75 L168.2,52.26 L169,53.72 L169.8,55.13 L170.6,56.46 L171.4,57.7 L172.2,58.88 L173,60.03 L173.8,61.14 L174.6,62.23 L175.4,63.29 L176.2,64.32 L177,65.33 L177.8,66.31 L178.6,67.27 L179.4,68.22 L180.2,69.14 L181,70.05 L181.8,70.95 L182.6,71.83 L183.4,72.7 L184.2,73.55 L185,74.41 L185.8,75.25 L186.6,76.07 L187.4,76.89 L188.2,77.68 L189,78.46 L189.8,79.23 L190.6,79.97 L191.4,80.7 L192.2,81.41 L193,82.09 L193.8,82.76 L194.6,83.4 L195.4,84.04 L196.2,84.67 L197,85.29 L197.8,85.89 L198.6,86.48 L199.4,87.05 L200.2,87.6 L201,88.12 L201.8,88.61 L202.6,89.07 L203.4,89.51 L204.2,89.92 L205,90.32 L205.8,90.71 L206.6,91.09 L207.4,91.46 L208.2,91.82 L209,92.16 L209.8,92.5 L210.6,92.81 L211.4,93.12 L212.2,93.41 L213,93.69 L213.8,93.95 L214.6,94.2 L215.4,94.43 L216.2,94.65 L217,94.86 L217.8,95.06 L218.6,95.25 L219.4,95.43 L220.2,95.61 L221,95.78 L221.8,95.94 L222.6,96.1 L223.4,96.26 L224.2,96.41 L225,96.56 L225.8,96.71 L226.6,96.86 L227.4,97.01 L228.2,97.16 L229,97.31 L229.8,97.46 L230.6,97.62 L231.4,97.78 L232.2,97.94 L233,98.11 L233.8,98.27 L234.6,98.44 L235.4,98.6 L236.2,98.76 L237,98.93 L237.8,99.08 L238.6,99.24 L239.4,99.39 L240.2,99.54 L241,99.68 L241.8,99.82 L242.6,99.95 L243.4,100.08 L244.2,100.19 L245,100.3 L245.8,100.4 L246.6,100.5 L247.4,100.6 L248.2,100.7 L249,100.79 L249.8,100.88 L250.6,100.97 L251.4,101.06 L252.2,101.15 L253,101.24 L253.8,101.32 L254.6,101.4 L255.4,101.48 L256.2,101.56 L257,101.64 L257.8,101.72 L258.6,101.79 L259.4,101.87 L260.2,101.94 L261,102.01 L261.8,102.08 L262.6,102.15 L263.4,102.22 L264.2,102.29 L265,102.36 L265.8,102.42 L266.6,102.49 L267.4,102.55 L268.2,102.62 L269,102.68 L269.8,102.74 L270.6,102.8 L271.4,102.86 L272.2,102.93 L273,102.99 L273.8,103.05 L274.6,103.1 L275.4,103.16 L276.2,103.22 L277,103.28 L277.8,103.34 L278.6,103.4 L279.4,103.46 L280.2,103.51 L281,103.57 L281.8,103.63 L282.6,103.69 L283.4,103.74 L284.2,103.8 L285,103.86 L285.8,103.91 L286.6,103.97 L287.4,104.03 L288.2,104.08 L289,104.13 L289.8,104.19 L290.6,104.24 L291.4,104.3 L292.2,104.35 L293,104.4 L293.8,104.45 L294.6,104.51 L295.4,104.56 L296.2,104.61 L297,104.66 L297.8,104.71 L298.6,104.76 L299.4,104.81 L300.2,104.86 L301,104.91 L301.8,104.95 L302.6,105 L303.4,105.05 L304.2,105.09 L305,105.14 L305.8,105.19 L306.6,105.23 L307.4,105.28 L308.2,105.32 L309,105.36 L309.8,105.41 L310.6,105.45 L311.4,105.49 L312.2,105.53 L313,105.57 L313.8,105.61 L314.6,105.65 L315.4,105.69 L316.2,105.73 L317,105.76 L317.8,105.8 L318.6,105.84 L319.4,105.87 L320.2,105.91 L321,105.94 L321.8,105.98 L322.6,106.01 L323.4,106.05 L324.2,106.08 L325,106.11 L325.8,106.15 L326.6,106.18 L327.4,106.21 L328.2,106.24 L329,106.27 L329.8,106.31 L330.6,106.34 L331.4,106.37 L332.2,106.4 L333,106.43 L333.8,106.46 L334.6,106.49 L335.4,106.52 L336.2,106.55 L337,106.58 L337.8,106.61 L338.6,106.64 L339.4,106.67 L340.2,106.7 L341,106.72 L341.8,106.75 L342.6,106.78 L343.4,106.81 L344.2,106.83 L345,106.86 L345.8,106.89 L346.6,106.92 L347.4,106.94 L348.2,106.97 L349,106.99 L349.8,107.02 L350.6,107.05 L351.4,107.07 L352.2,107.1 L353,107.12 L353.8,107.15 L354.6,107.17 L355.4,107.2 L356.2,107.22 L357,107.25 L357.8,107.27 L358.6,107.3 L359.4,107.32 L360.2,107.34 L361,107.37 L361.8,107.39 L362.6,107.42 L363.4,107.44 L364.2,107.46 L365,107.49 L365.8,107.51 L366.6,107.53 L367.4,107.55 L368.2,107.58 L369,107.6 L369.8,107.62 L370.6,107.64 L371.4,107.67 L372.2,107.69 L373,107.71 L373.8,107.73 L374.6,107.75 L375.4,107.78 L376.2,107.8 L377,107.82 L377.8,107.84 L378.6,107.86 L379.4,107.88 L380.2,107.91 L381,107.93 L381.8,107.95 L382.6,107.97 L383.4,107.99 L384.2,108.01 L385,108.03 L385.8,108.05 L386.6,108.07 L387.4,108.1 L388.2,108.12 L389,108.14 L389.8,108.16 L390.6,108.18 L391.4,108.2 L392.2,108.22 L393,108.24 L393.8,108.26 L394.6,108.28 L395.4,108.3 L396.2,108.32 L397,108.34 L397.8,108.36 L398.6,108.38 L399.4,108.4 L400.2,108.42 L401,108.44 L401.8,108.46 L402.6,108.48 L403.4,108.5 L404.2,108.52 L405,108.54 L405.8,108.56 L406.6,108.58 L407.4,108.6 L408.2,108.62 L409,108.64 L409.8,108.66 L410.6,108.68 L411.4,108.7 L412.2,108.72 L413,108.73 L413.8,108.75 L414.6,108.77 L415.4,108.79 L416.2,108.81 L417,108.83 L417.8,108.85 L418.6,108.87 L419.4,108.88 L420.2,108.9 L421,108.92 L421.8,108.94 L422.6,108.96 L423.4,108.97 L424.2,108.99 L425,109.01 L425.8,109.03 L426.6,109.04 L427.4,109.06 L428.2,109.08 L429,109.1 L429.8,109.11 L430.6,109.13 L431.4,109.15 L432.2,109.16 L433,109.18 L433.8,109.2 L434.6,109.21 L435.4,109.23 L436.2,109.25 L437,109.26 L437.8,109.28 L438.6,109.3 L439.4,109.31 L440.2,109.33 L441,109.34 L441.8,109.36 L442.6,109.38 L443.4,109.39 L444.2,109.41 L445,109.42 L445.8,109.44 L446.6,109.45 L447.4,109.47 L448.2,109.48 L449,109.5 L449.8,109.51 L450.6,109.53 L451.4,109.54 L452.2,109.55 L453,109.57 L453.8,109.58 L454.6,109.6 L455.4,109.61 L456.2,109.62 L457,109.64 L457.8,109.65 L458.6,109.66 L459.4,109.68 L460.2,109.69 L461,109.7 L461.8,109.72 L462.6,109.73 L463.4,109.74 L464.2,109.75 L465,109.77 L465.8,109.78 L466.6,109.79 L467.2,109.8" fill="none" stroke="#b03a2e" stroke-width="1.35" stroke-dasharray="1.35,2.23"/>
<path d="M37.2,113.3 L38,113.3 L38.8,113.3 L39.6,113.3 L40.4,113.3 L41.2,113.3 L42,113.3 L42.8,113.3 L43.6,113.3 L44.4,113.3 L45.2,113.3 L46,113.3 L46.8,113.3 L47.6,113.3 L48.4,113.3 L49.2,113.3 L49.9,113.3M51.8,113.3 L52.6,113.3 L53.4,113.3 L54.2,113.3 L55,113.3 L55.8,113.3 L56.6,113.3 L57.4,113.3 L58.2,113.3 L59,113.3 L59.8,113.3 L60.6,113.3 L61.4,113.3 L62.2,113.3 L63,113.3 L63.8,113.3 L63.9,113.3M65.8,113.29 L66.6,113.29 L67.4,113.29 L68.2,113.28 L69,113.28 L69.8,113.27 L70.6,113.27 L71.4,113.26 L72.2,113.25 L73,113.25 L73.8,113.24 L74.6,113.23 L75.4,113.22 L76.2,113.21 L77,113.2 L77.8,113.18 L78.6,113.17 L79.4,113.16 L80.2,113.14 L81,113.12 L81.8,113.11 L82.6,113.09 L83.4,113.07 L84.2,113.05 L85,113.03 L85.8,113.01 L86.6,112.94 L87.4,112.75 L88.2,112.55 L89,112.34 L89.8,112.11 L90.6,111.84 L91.4,111.55 L92.2,111.21 L93,110.81 L93.8,110.3 L94.6,109.63 L95.4,108.68 L96.2,107.54 L97,106.35 L97.8,105.04 L98.6,103.65 L99.4,102.41 L100.2,101.29 L101,99.95 L101.8,98.26 L102.6,96.61 L103.4,95.13 L104.2,93.67 L105,92.16 L105.8,90.61 L106.6,89.07 L107.4,87.57 L108.2,86.09 L109,84.63 L109.8,83.18 L110.6,81.74 L111.4,80.31 L112.2,78.89 L113,77.43 L113.8,75.88 L114.6,74.28 L115.4,72.69 L116.2,71.19 L117,69.84 L117.8,68.57 L118.6,67.38 L119.4,66.34 L120.2,65.5 L121,64.71 L121.8,63.96 L122.6,63.3 L123.4,62.79 L124.2,62.46 L125,62.34 L125.8,62.27 L126.6,62.22 L127.4,62.16 L128.2,62.08 L129,61.97 L129.8,61.85 L130.6,61.67 L131.4,61.44 L132.2,60.93 L133,60 L133.8,58.81 L134.6,57.09 L135.4,54.95 L136.2,52.55 L137,49.63 L137.8,46.42 L138.6,43.25 L139.4,40.25 L140.2,37.19 L141,34.27 L141.8,31.69 L142.6,29.46 L143.4,27.37 L144.2,25.49 L145,23.86 L145.8,22.53 L146.6,21.36 L147.4,20.35 L148.2,19.53 L149,18.9 L149.8,18.31 L150.6,17.81 L151.4,17.48 L152.2,17.41 L153,17.61 L153.8,18.03 L154.6,18.6 L155.4,19.25 L156.2,20 L157,21.1 L157.8,22.44 L158.6,23.9 L159.4,25.37 L160.2,26.94 L161,28.64 L161.8,30.4 L162.6,32.17 L163.4,33.91 L164.2,35.69 L165,37.48 L165.8,39.25 L166.6,40.98 L167.4,42.66 L168.2,44.35 L169,46 L169.8,47.6 L170.6,49.11 L171.4,50.51 L172.2,51.82 L173,53.07 L173.8,54.26 L174.6,55.42 L175.4,56.55 L176.2,57.67 L177,58.8 L177.8,59.92 L178.6,61.01 L179.4,62.09 L180.2,63.16 L181,64.21 L181.8,65.27 L182.6,66.33 L183.4,67.41 L184.2,68.5 L185,69.6 L185.8,70.69 L186.6,71.75 L187.4,72.77 L188.2,73.74 L189,74.68 L189.8,75.6 L190.6,76.49 L191.4,77.36 L192.2,78.2 L193,78.99 L193.8,79.73 L194.6,80.43 L195.4,81.11 L196.2,81.76 L197,82.39 L197.8,83 L198.6,83.6 L199.4,84.17 L200.2,84.71 L201,85.24 L201.8,85.75 L202.6,86.24 L203.4,86.72 L204.2,87.18 L205,87.64 L205.8,88.09 L206.6,88.53 L207.4,88.96 L208.2,89.38 L209,89.79 L209.8,90.18 L210.6,90.56 L211.4,90.92 L212.2,91.27 L213,91.59 L213.8,91.89 L214.6,92.17 L215.4,92.43 L216.2,92.67 L217,92.9 L217.8,93.12 L218.6,93.33 L219.4,93.52 L220.2,93.72 L221,93.9 L221.8,94.08 L222.6,94.25 L223.4,94.41 L224.2,94.58 L225,94.73 L225.8,94.89 L226.6,95.04 L227.4,95.2 L228.2,95.35 L229,95.51 L229.8,95.66 L230.6,95.82 L231.4,95.98 L232.2,96.14 L233,96.3 L233.8,96.46 L234.6,96.61 L235.4,96.77 L236.2,96.92 L237,97.07 L237.8,97.22 L238.6,97.37 L239.4,97.51 L240.2,97.65 L241,97.79 L241.8,97.92 L242.6,98.05 L243.4,98.17 L244.2,98.29 L245,98.4 L245.8,98.51 L246.6,98.61 L247.4,98.72 L248.2,98.82 L249,98.92 L249.8,99.02 L250.6,99.12 L251.4,99.21 L252.2,99.31 L253,99.4 L253.8,99.49 L254.6,99.58 L255.4,99.67 L256.2,99.76 L257,99.85 L257.8,99.93 L258.6,100.02 L259.4,100.1 L260.2,100.18 L261,100.26 L261.8,100.34 L262.6,100.42 L263.4,100.5 L264.2,100.58 L265,100.66 L265.8,100.73 L266.6,100.81 L267.4,100.88 L268.2,100.96 L269,101.03 L269.8,101.1 L270.6,101.17 L271.4,101.25 L272.2,101.32 L273,101.39 L273.8,101.46 L274.6,101.53 L275.4,101.6 L276.2,101.67 L277,101.74 L277.8,101.81 L278.6,101.88 L279.4,101.95 L280.2,102.02 L281,102.09 L281.8,102.16 L282.6,102.23 L283.4,102.3 L284.2,102.36 L285,102.43 L285.8,102.5 L286.6,102.57 L287.4,102.64 L288.2,102.71 L289,102.78 L289.8,102.84 L290.6,102.91 L291.4,102.98 L292.2,103.05 L293,103.11 L293.8,103.18 L294.6,103.24 L295.4,103.31 L296.2,103.37 L297,103.44 L297.8,103.5 L298.6,103.57 L299.4,103.63 L300.2,103.69 L301,103.75 L301.8,103.81 L302.6,103.88 L303.4,103.94 L304.2,103.99 L305,104.05 L305.8,104.11 L306.6,104.17 L307.4,104.22 L308.2,104.28 L309,104.34 L309.8,104.39 L310.6,104.44 L311.4,104.5 L312.2,104.55 L313,104.6 L313.8,104.65 L314.6,104.7 L315.4,104.74 L316.2,104.79 L317,104.84 L317.8,104.88 L318.6,104.93 L319.4,104.97 L320.2,105.01 L321,105.05 L321.8,105.09 L322.6,105.13 L323.4,105.17 L324.2,105.21 L325,105.25 L325.8,105.29 L326.6,105.33 L327.4,105.37 L328.2,105.41 L329,105.45 L329.8,105.48 L330.6,105.52 L331.4,105.56 L332.2,105.6 L333,105.63 L333.8,105.67 L334.6,105.7 L335.4,105.74 L336.2,105.78 L337,105.81 L337.8,105.85 L338.6,105.88 L339.4,105.91 L340.2,105.95 L341,105.98 L341.8,106.02 L342.6,106.05 L343.4,106.08 L344.2,106.11 L345,106.15 L345.8,106.18 L346.6,106.21 L347.4,106.24 L348.2,106.27 L349,106.3 L349.8,106.33 L350.6,106.36 L351.4,106.39 L352.2,106.42 L353,106.45 L353.8,106.48 L354.6,106.51 L355.4,106.54 L356.2,106.57 L357,106.6 L357.8,106.62 L358.6,106.65 L359.4,106.68 L360.2,106.71 L361,106.73 L361.8,106.76 L362.6,106.79 L363.4,106.81 L364.2,106.84 L365,106.86 L365.8,106.89 L366.6,106.91 L367.4,106.94 L368.2,106.96 L369,106.99 L369.8,107.01 L370.6,107.04 L371.4,107.06 L372.2,107.08 L373,107.11 L373.8,107.13 L374.6,107.15 L375.4,107.17 L376.2,107.2 L377,107.22 L377.8,107.24 L378.6,107.26 L379.4,107.28 L380.2,107.31 L381,107.33 L381.8,107.35 L382.6,107.37 L383.4,107.39 L384.2,107.41 L385,107.43 L385.8,107.45 L386.6,107.47 L387.4,107.49 L388.2,107.51 L389,107.53 L389.8,107.56 L390.6,107.58 L391.4,107.6 L392.2,107.62 L393,107.64 L393.8,107.66 L394.6,107.68 L395.4,107.7 L396.2,107.72 L397,107.74 L397.8,107.76 L398.6,107.78 L399.4,107.8 L400.2,107.82 L401,107.84 L401.8,107.85 L402.6,107.87 L403.4,107.89 L404.2,107.91 L405,107.93 L405.8,107.95 L406.6,107.97 L407.4,107.99 L408.2,108.01 L409,108.03 L409.8,108.04 L410.6,108.06 L411.4,108.08 L412.2,108.1 L413,108.12 L413.8,108.14 L414.6,108.15 L415.4,108.17 L416.2,108.19 L417,108.21 L417.8,108.22 L418.6,108.24 L419.4,108.26 L420.2,108.28 L421,108.29 L421.8,108.31 L422.6,108.33 L423.4,108.34 L424.2,108.36 L425,108.38 L425.8,108.39 L426.6,108.41 L427.4,108.42 L428.2,108.44 L429,108.45 L429.8,108.47 L430.6,108.49 L431.4,108.5 L432.2,108.52 L433,108.53 L433.8,108.55 L434.6,108.56 L435.4,108.57 L436.2,108.59 L437,108.6 L437.8,108.62 L438.6,108.63 L439.4,108.64 L440.2,108.66 L441,108.67 L441.8,108.68 L442.6,108.7 L443.4,108.71 L444.2,108.72 L445,108.73 L445.8,108.75 L446.6,108.76 L447.4,108.77 L448.2,108.78 L449,108.79 L449.8,108.8 L450.6,108.82 L451.4,108.83 L452.2,108.84 L453,108.85 L453.8,108.86 L454.6,108.87 L455.4,108.88 L456.2,108.89 L457,108.9 L457.8,108.91 L458.6,108.92 L459.4,108.92 L460.2,108.93 L461,108.94 L461.8,108.95 L462.6,108.96 L463.4,108.97 L464.2,108.97 L465,108.98 L465.8,108.99 L466.6,108.99 L467.2,109" fill="none" stroke="#7b241c" stroke-width="1.35" stroke-dasharray="8.64,2.16,1.35,2.16"/>
<path d="M37.2,113.4 L38,113.4 L38.8,113.4 L39.6,113.4 L40.4,113.4 L41.2,113.4 L42,113.4 L42.8,113.4 L43.6,113.4 L44.4,113.4 L45.2,113.4 L46,113.4 L46.8,113.4 L47.6,113.39 L48.4,113.39 L49.2,113.39 L49.9,113.39M51.8,113.39 L52.6,113.39 L53.4,113.39 L54.2,113.39 L55,113.38 L55.8,113.38 L56.6,113.38 L57.4,113.38 L58.2,113.38 L59,113.38 L59.8,113.37 L60.6,113.37 L61.4,113.37 L62.2,113.37 L63,113.37 L63.8,113.36 L63.9,113.36M65.8,113.36 L66.6,113.35 L67.4,113.35 L68.2,113.35 L69,113.35 L69.8,113.34 L70.6,113.34 L71.4,113.34 L72.2,113.33 L73,113.33 L73.8,113.33 L74.6,113.33 L75.4,113.32 L76.2,113.32 L77,113.31 L77.8,113.31 L78.6,113.31 L79.4,113.3 L80.2,113.3 L81,113.29 L81.8,113.28 L82.6,113.26 L83.4,113.24 L84.2,113.21 L85,113.18 L85.8,113.14 L86.6,113.11 L87.4,113.07 L88.2,113.02 L89,112.97 L89.8,112.92 L90.6,112.87 L91.4,112.82 L92.2,112.76 L93,112.71 L93.8,112.65 L94.6,112.59 L95.4,112.53 L96.2,112.47 L97,112.42 L97.8,112.36 L98.6,112.3 L99.4,112.24 L100.2,112.19 L101,112.13 L101.8,112.07 L102.6,112.01 L103.4,111.95 L104.2,111.89 L105,111.83 L105.8,111.76 L106.6,111.69 L107.4,111.62 L108.2,111.55 L109,111.48 L109.8,111.41 L110.6,111.33 L111.4,111.26 L112.2,111.18 L113,111.1 L113.8,111.01 L114.6,110.93 L115.4,110.84 L116.2,110.75 L117,110.66 L117.8,110.57 L118.6,110.47 L119.4,110.37 L120.2,110.27 L121,110.17 L121.8,110.06 L122.6,109.95 L123.4,109.83 L124.2,109.71 L125,109.58 L125.8,109.45 L126.6,109.3 L127.4,109.15 L128.2,108.99 L129,108.82 L129.8,108.65 L130.6,108.45 L131.4,108.2 L132.2,107.92 L133,107.62 L133.8,107.32 L134.6,107.03 L135.4,106.77 L136.2,106.55 L137,106.33 L137.8,106.11 L138.6,105.89 L139.4,105.67 L140.2,105.45 L141,105.24 L141.8,105.03 L142.6,104.84 L143.4,104.66 L144.2,104.49 L145,104.35 L145.8,104.22 L146.6,104.12 L147.4,104.05 L148.2,104.01 L149,104 L149.8,104.01 L150.6,104.03 L151.4,104.07 L152.2,104.11 L153,104.16 L153.8,104.22 L154.6,104.28 L155.4,104.35 L156.2,104.41 L157,104.48 L157.8,104.55 L158.6,104.62 L159.4,104.69 L160.2,104.77 L161,104.85 L161.8,104.95 L162.6,105.05 L163.4,105.15 L164.2,105.26 L165,105.38 L165.8,105.49 L166.6,105.61 L167.4,105.73 L168.2,105.85 L169,105.97 L169.8,106.09 L170.6,106.21 L171.4,106.33 L172.2,106.45 L173,106.56 L173.8,106.67 L174.6,106.77 L175.4,106.87 L176.2,106.96 L177,107.04 L177.8,107.12 L178.6,107.19 L179.4,107.27 L180.2,107.34 L181,107.41 L181.8,107.48 L182.6,107.55 L183.4,107.61 L184.2,107.68 L185,107.75 L185.8,107.81 L186.6,107.87 L187.4,107.93 L188.2,108 L189,108.05 L189.8,108.11 L190.6,108.17 L191.4,108.22 L192.2,108.27 L193,108.33 L193.8,108.38 L194.6,108.42 L195.4,108.47 L196.2,108.51 L197,108.56 L197.8,108.6 L198.6,108.64 L199.4,108.67 L200.2,108.71 L201,108.74 L201.8,108.78 L202.6,108.81 L203.4,108.84 L204.2,108.87 L205,108.91 L205.8,108.94 L206.6,108.97 L207.4,109 L208.2,109.03 L209,109.06 L209.8,109.09 L210.6,109.12 L211.4,109.14 L212.2,109.17 L213,109.2 L213.8,109.23 L214.6,109.25 L215.4,109.28 L216.2,109.31 L217,109.33 L217.8,109.36 L218.6,109.38 L219.4,109.4 L220.2,109.43 L221,109.45 L221.8,109.47 L222.6,109.5 L223.4,109.52 L224.2,109.54 L225,109.56 L225.8,109.58 L226.6,109.6 L227.4,109.63 L228.2,109.65 L229,109.67 L229.8,109.69 L230.6,109.7 L231.4,109.72 L232.2,109.74 L233,109.76 L233.8,109.78 L234.6,109.8 L235.4,109.81 L236.2,109.83 L237,109.85 L237.8,109.86 L238.6,109.88 L239.4,109.9 L240.2,109.91 L241,109.93 L241.8,109.94 L242.6,109.96 L243.4,109.97 L244.2,109.99 L245,110 L245.8,110.01 L246.6,110.03 L247.4,110.04 L248.2,110.05 L249,110.07 L249.8,110.08 L250.6,110.09 L251.4,110.11 L252.2,110.12 L253,110.13 L253.8,110.14 L254.6,110.15 L255.4,110.17 L256.2,110.18 L257,110.19 L257.8,110.2 L258.6,110.21 L259.4,110.22 L260.2,110.23 L261,110.24 L261.8,110.26 L262.6,110.27 L263.4,110.28 L264.2,110.29 L265,110.3 L265.8,110.31 L266.6,110.32 L267.4,110.33 L268.2,110.34 L269,110.35 L269.8,110.35 L270.6,110.36 L271.4,110.37 L272.2,110.38 L273,110.39 L273.8,110.4 L274.6,110.41 L275.4,110.42 L276.2,110.43 L277,110.44 L277.8,110.44 L278.6,110.45 L279.4,110.46 L280.2,110.47 L281,110.48 L281.8,110.49 L282.6,110.5 L283.4,110.5 L284.2,110.51 L285,110.52 L285.8,110.53 L286.6,110.54 L287.4,110.54 L288.2,110.55 L289,110.56 L289.8,110.57 L290.6,110.58 L291.4,110.59 L292.2,110.59 L293,110.6 L293.8,110.61 L294.6,110.62 L295.4,110.63 L296.2,110.63 L297,110.64 L297.8,110.65 L298.6,110.66 L299.4,110.67 L300.2,110.68 L301,110.68 L301.8,110.69 L302.6,110.7 L303.4,110.71 L304.2,110.72 L305,110.73 L305.8,110.73 L306.6,110.74 L307.4,110.75 L308.2,110.76 L309,110.77 L309.8,110.78 L310.6,110.79 L311.4,110.8 L312.2,110.81 L313,110.81 L313.8,110.82 L314.6,110.83 L315.4,110.84 L316.2,110.85 L317,110.86 L317.8,110.87 L318.6,110.88 L319.4,110.89 L320.2,110.9 L321,110.91 L321.8,110.92 L322.6,110.93 L323.4,110.94 L324.2,110.95 L325,110.96 L325.8,110.97 L326.6,110.99 L327.4,111 L328.2,111.01 L329,111.02 L329.8,111.03 L330.6,111.04 L331.4,111.05 L332.2,111.06 L333,111.07 L333.8,111.08 L334.6,111.09 L335.4,111.1 L336.2,111.11 L337,111.12 L337.8,111.13 L338.6,111.14 L339.4,111.15 L340.2,111.16 L341,111.18 L341.8,111.19 L342.6,111.2 L343.4,111.21 L344.2,111.22 L345,111.23 L345.8,111.24 L346.6,111.25 L347.4,111.26 L348.2,111.27 L349,111.28 L349.8,111.29 L350.6,111.31 L351.4,111.32 L352.2,111.33 L353,111.34 L353.8,111.35 L354.6,111.36 L355.4,111.37 L356.2,111.38 L357,111.39 L357.8,111.4 L358.6,111.42 L359.4,111.43 L360.2,111.44 L361,111.45 L361.8,111.46 L362.6,111.47 L363.4,111.48 L364.2,111.49 L365,111.5 L365.8,111.52 L366.6,111.53 L367.4,111.54 L368.2,111.55 L369,111.56 L369.8,111.57 L370.6,111.58 L371.4,111.59 L372.2,111.61 L373,111.62 L373.8,111.63 L374.6,111.64 L375.4,111.65 L376.2,111.66 L377,111.67 L377.8,111.68 L378.6,111.7 L379.4,111.71 L380.2,111.72 L381,111.73 L381.8,111.74 L382.6,111.75 L383.4,111.76 L384.2,111.77 L385,111.79 L385.8,111.8 L386.6,111.81 L387.4,111.82 L388.2,111.83 L389,111.84 L389.8,111.85 L390.6,111.87 L391.4,111.88 L392.2,111.89 L393,111.9 L393.8,111.91 L394.6,111.92 L395.4,111.93 L396.2,111.95 L397,111.96 L397.8,111.97 L398.6,111.98 L399.4,111.99 L400.2,112 L401,112.01 L401.8,112.03 L402.6,112.04 L403.4,112.05 L404.2,112.06 L405,112.07 L405.8,112.08 L406.6,112.09 L407.4,112.11 L408.2,112.12 L409,112.13 L409.8,112.14 L410.6,112.15 L411.4,112.16 L412.2,112.18 L413,112.19 L413.8,112.2 L414.6,112.21 L415.4,112.22 L416.2,112.23 L417,112.25 L417.8,112.26 L418.6,112.27 L419.4,112.28 L420.2,112.29 L421,112.3 L421.8,112.32 L422.6,112.33 L423.4,112.34 L424.2,112.35 L425,112.36 L425.8,112.38 L426.6,112.39 L427.4,112.4 L428.2,112.41 L429,112.42 L429.8,112.43 L430.6,112.45 L431.4,112.46 L432.2,112.47 L433,112.48 L433.8,112.49 L434.6,112.51 L435.4,112.52 L436.2,112.53 L437,112.54 L437.8,112.55 L438.6,112.57 L439.4,112.58 L440.2,112.59 L441,112.6 L441.8,112.61 L442.6,112.63 L443.4,112.64 L444.2,112.65 L445,112.66 L445.8,112.67 L446.6,112.69 L447.4,112.7 L448.2,112.71 L449,112.72 L449.8,112.73 L450.6,112.75 L451.4,112.76 L452.2,112.77 L453,112.78 L453.8,112.79 L454.6,112.81 L455.4,112.82 L456.2,112.83 L457,112.84 L457.8,112.86 L458.6,112.87 L459.4,112.88 L460.2,112.89 L461,112.9 L461.8,112.92 L462.6,112.93 L463.4,112.94 L464.2,112.95 L465,112.97 L465.8,112.98 L466.6,112.99 L467.2,113" fill="none" stroke="#2ecc71" stroke-width="1.35" stroke-dasharray="5,2.16"/>
<path d="M37.2,113.4 L38,113.4 L38.8,113.4 L39.6,113.4 L40.4,113.4 L41.2,113.4 L42,113.4 L42.8,113.4 L43.6,113.4 L44.4,113.4 L45.2,113.4 L46,113.4 L46.8,113.4 L47.6,113.4 L48.4,113.4 L49.2,113.4 L49.9,113.4M51.8,113.4 L52.6,113.4 L53.4,113.4 L54.2,113.4 L55,113.4 L55.8,113.4 L56.6,113.4 L57.4,113.4 L58.2,113.4 L59,113.4 L59.8,113.4 L60.6,113.4 L61.4,113.4 L62.2,113.4 L63,113.4 L63.8,113.4 L63.9,113.4M65.8,113.39 L66.6,113.39 L67.4,113.39 L68.2,113.39 L69,113.38 L69.8,113.38 L70.6,113.38 L71.4,113.37 L72.2,113.37 L73,113.36 L73.8,113.36 L74.6,113.35 L75.4,113.34 L76.2,113.34 L77,113.33 L77.8,113.32 L78.6,113.31 L79.4,113.3 L80.2,113.29 L81,113.28 L81.8,113.27 L82.6,113.26 L83.4,113.25 L84.2,113.23 L85,113.22 L85.8,113.2 L86.6,113.17 L87.4,113.09 L88.2,112.97 L89,112.81 L89.8,112.64 L90.6,112.46 L91.4,112.22 L92.2,111.92 L93,111.56 L93.8,111.12 L94.6,110.52 L95.4,109.58 L96.2,108.41 L97,107.1 L97.8,105.76 L98.6,104.5 L99.4,103.29 L100.2,102.04 L101,100.76 L101.8,99.48 L102.6,98.2 L103.4,96.93 L104.2,95.69 L105,94.47 L105.8,93.25 L106.6,92.05 L107.4,90.85 L108.2,89.67 L109,88.49 L109.8,87.32 L110.6,86.12 L111.4,84.93 L112.2,83.77 L113,82.67 L113.8,81.64 L114.6,80.7 L115.4,79.79 L116.2,78.92 L117,78.11 L117.8,77.36 L118.6,76.68 L119.4,76.06 L120.2,75.46 L121,74.89 L121.8,74.35 L122.6,73.86 L123.4,73.41 L124.2,73.02 L125,72.68 L125.8,72.41 L126.6,72.18 L127.4,71.98 L128.2,71.78 L129,71.56 L129.8,71.31 L130.6,71 L131.4,70.63 L132.2,70.21 L133,69.71 L133.8,69.11 L134.6,68.4 L135.4,67.52 L136.2,66.23 L137,64.55 L137.8,62.55 L138.6,59.82 L139.4,55.86 L140.2,51.72 L141,48.5 L141.8,46.26 L142.6,44.28 L143.4,42.53 L144.2,40.95 L145,39.51 L145.8,38.16 L146.6,36.83 L147.4,35.48 L148.2,34.19 L149,33.06 L149.8,32.16 L150.6,31.59 L151.4,31.29 L152.2,31.04 L153,30.84 L153.8,30.69 L154.6,30.61 L155.4,30.66 L156.2,31.11 L157,31.86 L157.8,32.75 L158.6,33.68 L159.4,34.88 L160.2,36.3 L161,37.87 L161.8,39.5 L162.6,41.11 L163.4,42.84 L164.2,44.68 L165,46.58 L165.8,48.45 L166.6,50.25 L167.4,51.9 L168.2,53.49 L169,55.05 L169.8,56.57 L170.6,58.05 L171.4,59.47 L172.2,60.84 L173,62.13 L173.8,63.35 L174.6,64.5 L175.4,65.61 L176.2,66.67 L177,67.69 L177.8,68.67 L178.6,69.63 L179.4,70.56 L180.2,71.47 L181,72.35 L181.8,73.23 L182.6,74.09 L183.4,74.94 L184.2,75.78 L185,76.61 L185.8,77.42 L186.6,78.22 L187.4,78.99 L188.2,79.75 L189,80.49 L189.8,81.21 L190.6,81.89 L191.4,82.56 L192.2,83.2 L193,83.82 L193.8,84.44 L194.6,85.04 L195.4,85.63 L196.2,86.2 L197,86.76 L197.8,87.31 L198.6,87.84 L199.4,88.36 L200.2,88.86 L201,89.35 L201.8,89.82 L202.6,90.27 L203.4,90.71 L204.2,91.14 L205,91.56 L205.8,91.97 L206.6,92.38 L207.4,92.77 L208.2,93.16 L209,93.54 L209.8,93.9 L210.6,94.25 L211.4,94.59 L212.2,94.91 L213,95.22 L213.8,95.51 L214.6,95.78 L215.4,96.03 L216.2,96.27 L217,96.5 L217.8,96.72 L218.6,96.93 L219.4,97.14 L220.2,97.34 L221,97.53 L221.8,97.71 L222.6,97.89 L223.4,98.07 L224.2,98.24 L225,98.41 L225.8,98.57 L226.6,98.73 L227.4,98.89 L228.2,99.05 L229,99.21 L229.8,99.36 L230.6,99.52 L231.4,99.68 L232.2,99.84 L233,100 L233.8,100.15 L234.6,100.31 L235.4,100.47 L236.2,100.62 L237,100.77 L237.8,100.92 L238.6,101.06 L239.4,101.2 L240.2,101.33 L241,101.46 L241.8,101.58 L242.6,101.7 L243.4,101.81 L244.2,101.91 L245,102 L245.8,102.09 L246.6,102.17 L247.4,102.25 L248.2,102.33 L249,102.41 L249.8,102.49 L250.6,102.56 L251.4,102.64 L252.2,102.71 L253,102.78 L253.8,102.85 L254.6,102.91 L255.4,102.98 L256.2,103.04 L257,103.11 L257.8,103.17 L258.6,103.23 L259.4,103.29 L260.2,103.34 L261,103.4 L261.8,103.46 L262.6,103.51 L263.4,103.56 L264.2,103.62 L265,103.67 L265.8,103.72 L266.6,103.77 L267.4,103.82 L268.2,103.87 L269,103.92 L269.8,103.97 L270.6,104.02 L271.4,104.07 L272.2,104.12 L273,104.17 L273.8,104.22 L274.6,104.27 L275.4,104.31 L276.2,104.36 L277,104.41 L277.8,104.46 L278.6,104.51 L279.4,104.56 L280.2,104.61 L281,104.66 L281.8,104.71 L282.6,104.76 L283.4,104.82 L284.2,104.87 L285,104.92 L285.8,104.97 L286.6,105.02 L287.4,105.07 L288.2,105.12 L289,105.16 L289.8,105.21 L290.6,105.26 L291.4,105.31 L292.2,105.36 L293,105.41 L293.8,105.46 L294.6,105.5 L295.4,105.55 L296.2,105.6 L297,105.65 L297.8,105.69 L298.6,105.74 L299.4,105.78 L300.2,105.83 L301,105.88 L301.8,105.92 L302.6,105.96 L303.4,106.01 L304.2,106.05 L305,106.09 L305.8,106.14 L306.6,106.18 L307.4,106.22 L308.2,106.26 L309,106.3 L309.8,106.34 L310.6,106.38 L311.4,106.42 L312.2,106.46 L313,106.5 L313.8,106.53 L314.6,106.57 L315.4,106.61 L316.2,106.64 L317,106.68 L317.8,106.71 L318.6,106.74 L319.4,106.78 L320.2,106.81 L321,106.84 L321.8,106.87 L322.6,106.9 L323.4,106.93 L324.2,106.96 L325,106.99 L325.8,107.02 L326.6,107.05 L327.4,107.08 L328.2,107.11 L329,107.14 L329.8,107.17 L330.6,107.2 L331.4,107.22 L332.2,107.25 L333,107.28 L333.8,107.31 L334.6,107.33 L335.4,107.36 L336.2,107.39 L337,107.41 L337.8,107.44 L338.6,107.46 L339.4,107.49 L340.2,107.52 L341,107.54 L341.8,107.57 L342.6,107.59 L343.4,107.61 L344.2,107.64 L345,107.66 L345.8,107.69 L346.6,107.71 L347.4,107.74 L348.2,107.76 L349,107.78 L349.8,107.81 L350.6,107.83 L351.4,107.85 L352.2,107.87 L353,107.9 L353.8,107.92 L354.6,107.94 L355.4,107.96 L356.2,107.99 L357,108.01 L357.8,108.03 L358.6,108.05 L359.4,108.07 L360.2,108.09 L361,108.12 L361.8,108.14 L362.6,108.16 L363.4,108.18 L364.2,108.2 L365,108.22 L365.8,108.24 L366.6,108.26 L367.4,108.28 L368.2,108.3 L369,108.32 L369.8,108.34 L370.6,108.37 L371.4,108.39 L372.2,108.41 L373,108.43 L373.8,108.45 L374.6,108.47 L375.4,108.49 L376.2,108.51 L377,108.53 L377.8,108.55 L378.6,108.57 L379.4,108.59 L380.2,108.6 L381,108.62 L381.8,108.64 L382.6,108.66 L383.4,108.68 L384.2,108.7 L385,108.72 L385.8,108.74 L386.6,108.76 L387.4,108.78 L388.2,108.8 L389,108.82 L389.8,108.84 L390.6,108.86 L391.4,108.88 L392.2,108.9 L393,108.92 L393.8,108.94 L394.6,108.95 L395.4,108.97 L396.2,108.99 L397,109.01 L397.8,109.03 L398.6,109.05 L399.4,109.07 L400.2,109.09 L401,109.1 L401.8,109.12 L402.6,109.14 L403.4,109.16 L404.2,109.18 L405,109.2 L405.8,109.21 L406.6,109.23 L407.4,109.25 L408.2,109.27 L409,109.29 L409.8,109.31 L410.6,109.32 L411.4,109.34 L412.2,109.36 L413,109.38 L413.8,109.39 L414.6,109.41 L415.4,109.43 L416.2,109.45 L417,109.46 L417.8,109.48 L418.6,109.5 L419.4,109.52 L420.2,109.53 L421,109.55 L421.8,109.57 L422.6,109.58 L423.4,109.6 L424.2,109.62 L425,109.63 L425.8,109.65 L426.6,109.67 L427.4,109.68 L428.2,109.7 L429,109.72 L429.8,109.73 L430.6,109.75 L431.4,109.77 L432.2,109.78 L433,109.8 L433.8,109.81 L434.6,109.83 L435.4,109.84 L436.2,109.86 L437,109.88 L437.8,109.89 L438.6,109.91 L439.4,109.92 L440.2,109.94 L441,109.95 L441.8,109.97 L442.6,109.98 L443.4,110 L444.2,110.01 L445,110.03 L445.8,110.04 L446.6,110.06 L447.4,110.07 L448.2,110.09 L449,110.1 L449.8,110.11 L450.6,110.13 L451.4,110.14 L452.2,110.16 L453,110.17 L453.8,110.18 L454.6,110.2 L455.4,110.21 L456.2,110.22 L457,110.24 L457.8,110.25 L458.6,110.26 L459.4,110.28 L460.2,110.29 L461,110.3 L461.8,110.32 L462.6,110.33 L463.4,110.34 L464.2,110.35 L465,110.37 L465.8,110.38 L466.6,110.39 L467.2,110.4" fill="none" stroke="#229954" stroke-width="1.35" stroke-dasharray="1.35,2.23"/>
<path d="M37.2,113.4 L38,113.4 L38.8,113.4 L39.6,113.4 L40.4,113.4 L41.2,113.4 L42,113.4 L42.8,113.4 L43.6,113.4 L44.4,113.4 L45.2,113.4 L46,113.4 L46.8,113.4 L47.6,113.4 L48.4,113.4 L49.2,113.4 L49.9,113.4M51.8,113.4 L52.6,113.4 L53.4,113.4 L54.2,113.4 L55,113.4 L55.8,113.4 L56.6,113.4 L57.4,113.4 L58.2,113.4 L59,113.4 L59.8,113.4 L60.6,113.4 L61.4,113.4 L62.2,113.4 L63,113.4 L63.8,113.4 L63.9,113.4M65.8,113.39 L66.6,113.39 L67.4,113.39 L68.2,113.38 L69,113.38 L69.8,113.37 L70.6,113.37 L71.4,113.36 L72.2,113.35 L73,113.35 L73.8,113.34 L74.6,113.33 L75.4,113.32 L76.2,113.31 L77,113.3 L77.8,113.28 L78.6,113.27 L79.4,113.26 L80.2,113.24 L81,113.22 L81.8,113.21 L82.6,113.19 L83.4,113.17 L84.2,113.15 L85,113.13 L85.8,113.11 L86.6,113.03 L87.4,112.85 L88.2,112.65 L89,112.46 L89.8,112.25 L90.6,112.01 L91.4,111.74 L92.2,111.41 L93,110.98 L93.8,110.42 L94.6,109.73 L95.4,108.79 L96.2,107.7 L97,106.56 L97.8,105.27 L98.6,103.93 L99.4,102.73 L100.2,101.66 L101,100.36 L101.8,98.71 L102.6,97.13 L103.4,95.74 L104.2,94.36 L105,92.88 L105.8,91.31 L106.6,89.7 L107.4,88.11 L108.2,86.57 L109,85.14 L109.8,83.82 L110.6,82.54 L111.4,81.31 L112.2,80.14 L113,79.05 L113.8,78.04 L114.6,77.13 L115.4,76.34 L116.2,75.6 L117,74.88 L117.8,74.13 L118.6,73.31 L119.4,72.33 L120.2,71.19 L121,69.98 L121.8,68.82 L122.6,67.82 L123.4,67.07 L124.2,66.57 L125,66.16 L125.8,65.81 L126.6,65.5 L127.4,65.21 L128.2,64.91 L129,64.58 L129.8,64.22 L130.6,63.89 L131.4,63.57 L132.2,63.22 L133,62.79 L133.8,62.25 L134.6,61.41 L135.4,59.88 L136.2,57.86 L137,55.58 L137.8,53.3 L138.6,50.78 L139.4,47.91 L140.2,45.08 L141,42.7 L141.8,40.71 L142.6,38.84 L143.4,37.1 L144.2,35.53 L145,34.16 L145.8,33.02 L146.6,32.05 L147.4,31.11 L148.2,30.25 L149,29.52 L149.8,28.97 L150.6,28.64 L151.4,28.51 L152.2,28.41 L153,28.34 L153.8,28.3 L154.6,28.39 L155.4,28.77 L156.2,29.37 L157,30.1 L157.8,30.9 L158.6,31.74 L159.4,32.83 L160.2,34.14 L161,35.55 L161.8,36.96 L162.6,38.29 L163.4,39.61 L164.2,40.96 L165,42.3 L165.8,43.63 L166.6,44.92 L167.4,46.13 L168.2,47.31 L169,48.52 L169.8,49.84 L170.6,51.39 L171.4,53.19 L172.2,55.09 L173,56.93 L173.8,58.53 L174.6,59.86 L175.4,61.12 L176.2,62.3 L177,63.42 L177.8,64.49 L178.6,65.52 L179.4,66.51 L180.2,67.48 L181,68.44 L181.8,69.4 L182.6,70.36 L183.4,71.33 L184.2,72.29 L185,73.24 L185.8,74.19 L186.6,75.11 L187.4,76.02 L188.2,76.91 L189,77.78 L189.8,78.62 L190.6,79.43 L191.4,80.21 L192.2,80.97 L193,81.72 L193.8,82.45 L194.6,83.18 L195.4,83.89 L196.2,84.59 L197,85.27 L197.8,85.94 L198.6,86.58 L199.4,87.2 L200.2,87.8 L201,88.37 L201.8,88.92 L202.6,89.43 L203.4,89.92 L204.2,90.39 L205,90.85 L205.8,91.3 L206.6,91.73 L207.4,92.15 L208.2,92.56 L209,92.96 L209.8,93.34 L210.6,93.7 L211.4,94.05 L212.2,94.38 L213,94.7 L213.8,95 L214.6,95.27 L215.4,95.53 L216.2,95.77 L217,96.01 L217.8,96.23 L218.6,96.44 L219.4,96.65 L220.2,96.85 L221,97.04 L221.8,97.22 L222.6,97.4 L223.4,97.57 L224.2,97.74 L225,97.9 L225.8,98.07 L226.6,98.23 L227.4,98.38 L228.2,98.54 L229,98.7 L229.8,98.86 L230.6,99.02 L231.4,99.18 L232.2,99.35 L233,99.51 L233.8,99.67 L234.6,99.84 L235.4,100 L236.2,100.16 L237,100.31 L237.8,100.47 L238.6,100.62 L239.4,100.76 L240.2,100.9 L241,101.04 L241.8,101.17 L242.6,101.29 L243.4,101.4 L244.2,101.5 L245,101.6 L245.8,101.69 L246.6,101.78 L247.4,101.86 L248.2,101.95 L249,102.03 L249.8,102.11 L250.6,102.19 L251.4,102.27 L252.2,102.34 L253,102.41 L253.8,102.49 L254.6,102.56 L255.4,102.62 L256.2,102.69 L257,102.76 L257.8,102.82 L258.6,102.88 L259.4,102.95 L260.2,103.01 L261,103.07 L261.8,103.12 L262.6,103.18 L263.4,103.24 L264.2,103.29 L265,103.35 L265.8,103.4 L266.6,103.46 L267.4,103.51 L268.2,103.56 L269,103.61 L269.8,103.66 L270.6,103.72 L271.4,103.77 L272.2,103.82 L273,103.87 L273.8,103.92 L274.6,103.97 L275.4,104.01 L276.2,104.06 L277,104.11 L277.8,104.16 L278.6,104.21 L279.4,104.26 L280.2,104.31 L281,104.36 L281.8,104.41 L282.6,104.46 L283.4,104.51 L284.2,104.56 L285,104.61 L285.8,104.66 L286.6,104.7 L287.4,104.75 L288.2,104.8 L289,104.85 L289.8,104.89 L290.6,104.94 L291.4,104.99 L292.2,105.03 L293,105.08 L293.8,105.12 L294.6,105.17 L295.4,105.21 L296.2,105.26 L297,105.3 L297.8,105.34 L298.6,105.39 L299.4,105.43 L300.2,105.47 L301,105.52 L301.8,105.56 L302.6,105.6 L303.4,105.64 L304.2,105.68 L305,105.72 L305.8,105.76 L306.6,105.8 L307.4,105.84 L308.2,105.88 L309,105.92 L309.8,105.95 L310.6,105.99 L311.4,106.03 L312.2,106.07 L313,106.1 L313.8,106.14 L314.6,106.17 L315.4,106.21 L316.2,106.24 L317,106.28 L317.8,106.31 L318.6,106.34 L319.4,106.38 L320.2,106.41 L321,106.44 L321.8,106.47 L322.6,106.5 L323.4,106.53 L324.2,106.57 L325,106.6 L325.8,106.63 L326.6,106.66 L327.4,106.69 L328.2,106.72 L329,106.75 L329.8,106.78 L330.6,106.81 L331.4,106.84 L332.2,106.87 L333,106.9 L333.8,106.92 L334.6,106.95 L335.4,106.98 L336.2,107.01 L337,107.04 L337.8,107.07 L338.6,107.09 L339.4,107.12 L340.2,107.15 L341,107.17 L341.8,107.2 L342.6,107.23 L343.4,107.25 L344.2,107.28 L345,107.31 L345.8,107.33 L346.6,107.36 L347.4,107.39 L348.2,107.41 L349,107.44 L349.8,107.46 L350.6,107.49 L351.4,107.51 L352.2,107.54 L353,107.56 L353.8,107.58 L354.6,107.61 L355.4,107.63 L356.2,107.66 L357,107.68 L357.8,107.7 L358.6,107.73 L359.4,107.75 L360.2,107.77 L361,107.8 L361.8,107.82 L362.6,107.84 L363.4,107.86 L364.2,107.89 L365,107.91 L365.8,107.93 L366.6,107.95 L367.4,107.98 L368.2,108 L369,108.02 L369.8,108.04 L370.6,108.06 L371.4,108.08 L372.2,108.1 L373,108.12 L373.8,108.14 L374.6,108.16 L375.4,108.19 L376.2,108.21 L377,108.23 L377.8,108.25 L378.6,108.27 L379.4,108.29 L380.2,108.3 L381,108.32 L381.8,108.34 L382.6,108.36 L383.4,108.38 L384.2,108.4 L385,108.42 L385.8,108.44 L386.6,108.46 L387.4,108.48 L388.2,108.5 L389,108.52 L389.8,108.54 L390.6,108.56 L391.4,108.57 L392.2,108.59 L393,108.61 L393.8,108.63 L394.6,108.65 L395.4,108.67 L396.2,108.69 L397,108.71 L397.8,108.72 L398.6,108.74 L399.4,108.76 L400.2,108.78 L401,108.8 L401.8,108.82 L402.6,108.83 L403.4,108.85 L404.2,108.87 L405,108.89 L405.8,108.91 L406.6,108.92 L407.4,108.94 L408.2,108.96 L409,108.98 L409.8,108.99 L410.6,109.01 L411.4,109.03 L412.2,109.05 L413,109.06 L413.8,109.08 L414.6,109.1 L415.4,109.11 L416.2,109.13 L417,109.15 L417.8,109.16 L418.6,109.18 L419.4,109.2 L420.2,109.21 L421,109.23 L421.8,109.25 L422.6,109.26 L423.4,109.28 L424.2,109.3 L425,109.31 L425.8,109.33 L426.6,109.34 L427.4,109.36 L428.2,109.37 L429,109.39 L429.8,109.4 L430.6,109.42 L431.4,109.44 L432.2,109.45 L433,109.47 L433.8,109.48 L434.6,109.49 L435.4,109.51 L436.2,109.52 L437,109.54 L437.8,109.55 L438.6,109.57 L439.4,109.58 L440.2,109.6 L441,109.61 L441.8,109.62 L442.6,109.64 L443.4,109.65 L444.2,109.66 L445,109.68 L445.8,109.69 L446.6,109.7 L447.4,109.72 L448.2,109.73 L449,109.74 L449.8,109.76 L450.6,109.77 L451.4,109.78 L452.2,109.79 L453,109.8 L453.8,109.82 L454.6,109.83 L455.4,109.84 L456.2,109.85 L457,109.86 L457.8,109.88 L458.6,109.89 L459.4,109.9 L460.2,109.91 L461,109.92 L461.8,109.93 L462.6,109.94 L463.4,109.95 L464.2,109.96 L465,109.97 L465.8,109.98 L466.6,109.99 L467.2,110" fill="none" stroke="#145a32" stroke-width="1.35" stroke-dasharray="8.64,2.16,1.35,2.16"/>
</g>
<rect x="27.5" y="13.2" width="448.8" height="101.2" fill="none" stroke="#cfcfcf" stroke-width="0.9"/>
<path d="M24.7,114.4H27.5M24.7,91.9H27.5M24.7,69.4H27.5M24.7,46.9H27.5M24.7,24.4H27.5" stroke="#3a3a3a" stroke-width="0.9"/>
<path d="M25.9,108.78H27.5M25.9,103.15H27.5M25.9,97.53H27.5M25.9,86.28H27.5M25.9,80.65H27.5M25.9,75.03H27.5M25.9,63.78H27.5M25.9,58.15H27.5M25.9,52.53H27.5M25.9,41.28H27.5M25.9,35.65H27.5M25.9,30.03H27.5M25.9,18.78H27.5" stroke="#3a3a3a" stroke-width="0.7"/>
<path d="M476.3,114.4H479M476.3,99.25H479M476.3,84.1H479M476.3,68.95H479M476.3,53.8H479M476.3,38.65H479M476.3,23.5H479" stroke="#888" stroke-width="0.8"/>
<text x="23.3" y="116.9" font-size="6.15" fill="#333" text-anchor="end" textLength="3.69" lengthAdjust="spacingAndGlyphs" xml:space="preserve">0</text>
<text x="23.3" y="94.4" font-size="6.15" fill="#333" text-anchor="end" textLength="7.38" lengthAdjust="spacingAndGlyphs" xml:space="preserve">20</text>
<text x="23.3" y="71.9" font-size="6.15" fill="#333" text-anchor="end" textLength="7.38" lengthAdjust="spacingAndGlyphs" xml:space="preserve">40</text>
<text x="23.3" y="49.4" font-size="6.15" fill="#333" text-anchor="end" textLength="7.38" lengthAdjust="spacingAndGlyphs" xml:space="preserve">60</text>
<text x="23.3" y="26.9" font-size="6.15" fill="#333" text-anchor="end" textLength="7.38" lengthAdjust="spacingAndGlyphs" xml:space="preserve">80</text>
<text x="480.7" y="116.9" font-size="6.15" fill="#a0a0a0" text-anchor="start" textLength="3.69" lengthAdjust="spacingAndGlyphs" xml:space="preserve">0</text>
<text x="480.7" y="101.75" font-size="6.15" fill="#a0a0a0" text-anchor="start" textLength="3.69" lengthAdjust="spacingAndGlyphs" xml:space="preserve">1</text>
<text x="480.7" y="86.6" font-size="6.15" fill="#a0a0a0" text-anchor="start" textLength="3.69" lengthAdjust="spacingAndGlyphs" xml:space="preserve">2</text>
<text x="480.7" y="71.45" font-size="6.15" fill="#a0a0a0" text-anchor="start" textLength="3.69" lengthAdjust="spacingAndGlyphs" xml:space="preserve">3</text>
<text x="480.7" y="56.3" font-size="6.15" fill="#a0a0a0" text-anchor="start" textLength="3.69" lengthAdjust="spacingAndGlyphs" xml:space="preserve">4</text>
<text x="480.7" y="41.15" font-size="6.15" fill="#a0a0a0" text-anchor="start" textLength="3.69" lengthAdjust="spacingAndGlyphs" xml:space="preserve">5</text>
<text x="480.7" y="26" font-size="6.15" fill="#a0a0a0" text-anchor="start" textLength="3.69" lengthAdjust="spacingAndGlyphs" xml:space="preserve">6</text>
<text x="0" y="0" font-size="6.15" fill="#333" text-anchor="start" textLength="33.71" lengthAdjust="spacingAndGlyphs" transform="translate(11.44,132.5) rotate(-15)" xml:space="preserve">2022-01-09</text>
<text x="0" y="0" font-size="6.15" fill="#333" text-anchor="start" textLength="33.71" lengthAdjust="spacingAndGlyphs" transform="translate(91.19,132.5) rotate(-15)" xml:space="preserve">2022-01-10</text>
<text x="0" y="0" font-size="6.15" fill="#333" text-anchor="start" textLength="33.71" lengthAdjust="spacingAndGlyphs" transform="translate(170.94,132.5) rotate(-15)" xml:space="preserve">2022-01-11</text>
<text x="0" y="0" font-size="6.15" fill="#333" text-anchor="start" textLength="33.71" lengthAdjust="spacingAndGlyphs" transform="translate(250.69,132.5) rotate(-15)" xml:space="preserve">2022-01-12</text>
<text x="0" y="0" font-size="6.15" fill="#333" text-anchor="start" textLength="33.71" lengthAdjust="spacingAndGlyphs" transform="translate(330.44,132.5) rotate(-15)" xml:space="preserve">2022-01-13</text>
<text x="0" y="0" font-size="6.15" fill="#333" text-anchor="start" textLength="33.71" lengthAdjust="spacingAndGlyphs" transform="translate(410.19,132.5) rotate(-15)" xml:space="preserve">2022-01-14</text>
<text x="0" y="0" font-size="6.5" fill="#222" font-weight="bold" text-anchor="middle" textLength="64.63" lengthAdjust="spacingAndGlyphs" transform="translate(11.9,63.8) rotate(-90)" xml:space="preserve">Streamflow (m³/s)</text>
<text x="0" y="0" font-size="6.6" fill="#222" font-weight="bold" text-anchor="middle" textLength="68.48" lengthAdjust="spacingAndGlyphs" transform="translate(491,63.8) rotate(-90)" xml:space="preserve">Precipitation (mm)</text>
<text x="251.88" y="10.7" font-size="7.3" fill="#222" font-weight="bold" text-anchor="middle" textLength="218.56" lengthAdjust="spacingAndGlyphs" xml:space="preserve">Flood Simulation for Catchment Y1524010 (upstream)</text>
<rect x="66" y="134.5" width="372" height="27.5" fill="#fff" fill-opacity="0.85" stroke="#d6d6d6" stroke-width="0.8" rx="1"/>
<path d="M67.9,138.6H79.9" stroke="#3498db" stroke-width="1.35" stroke-dasharray="5,2.16" fill="none"/>
<text x="84.57" y="140.7" font-size="6.15" fill="#3a3a3a" text-anchor="start" textLength="60.46" lengthAdjust="spacingAndGlyphs" xml:space="preserve">GR.U  (RMSE=17.82)</text>
<path d="M67.9,147.4H79.9" stroke="#2874a6" stroke-width="1.35" stroke-dasharray="1.35,2.23" fill="none"/>
<text x="84.57" y="149.5" font-size="6.15" fill="#3a3a3a" text-anchor="start" textLength="60.57" lengthAdjust="spacingAndGlyphs" xml:space="preserve">GR.MLP  (RMSE=6.2)</text>
<path d="M67.9,156.4H79.9" stroke="#1b4f72" stroke-width="1.35" stroke-dasharray="8.64,2.16,1.35,2.16" fill="none"/>
<text x="84.57" y="158.5" font-size="6.15" fill="#3a3a3a" text-anchor="start" textLength="61.56" lengthAdjust="spacingAndGlyphs" xml:space="preserve">GR.CNN  (RMSE=4.8)</text>
<path d="M157.1,138.6H169.1" stroke="#e74c3c" stroke-width="1.35" stroke-dasharray="5,2.16" fill="none"/>
<text x="173.77" y="140.7" font-size="6.15" fill="#3a3a3a" text-anchor="start" textLength="64.84" lengthAdjust="spacingAndGlyphs" xml:space="preserve">ODE.U  (RMSE=16.26)</text>
<path d="M157.1,147.4H169.1" stroke="#b03a2e" stroke-width="1.35" stroke-dasharray="1.35,2.23" fill="none"/>
<text x="173.77" y="149.5" font-size="6.15" fill="#3a3a3a" text-anchor="start" textLength="68.64" lengthAdjust="spacingAndGlyphs" xml:space="preserve">ODE.MLP  (RMSE=4.37)</text>
<path d="M157.1,156.4H169.1" stroke="#7b241c" stroke-width="1.35" stroke-dasharray="8.64,2.16,1.35,2.16" fill="none"/>
<text x="173.77" y="158.5" font-size="6.15" fill="#3a3a3a" text-anchor="start" textLength="69.64" lengthAdjust="spacingAndGlyphs" xml:space="preserve">ODE.CNN  (RMSE=6.49)</text>
<path d="M259.2,138.6H271.2" stroke="#2ecc71" stroke-width="1.35" stroke-dasharray="5,2.16" fill="none"/>
<text x="275.5" y="140.7" font-size="6.15" fill="#3a3a3a" text-anchor="start" textLength="64.52" lengthAdjust="spacingAndGlyphs" xml:space="preserve">UDE.U  (RMSE=19.48)</text>
<path d="M259.2,147.4H271.2" stroke="#229954" stroke-width="1.35" stroke-dasharray="1.35,2.23" fill="none"/>
<text x="275.5" y="149.5" font-size="6.15" fill="#3a3a3a" text-anchor="start" textLength="68.32" lengthAdjust="spacingAndGlyphs" xml:space="preserve">UDE.MLP  (RMSE=4.13)</text>
<path d="M259.2,156.4H271.2" stroke="#145a32" stroke-width="1.35" stroke-dasharray="8.64,2.16,1.35,2.16" fill="none"/>
<text x="275.5" y="158.5" font-size="6.15" fill="#3a3a3a" text-anchor="start" textLength="69.32" lengthAdjust="spacingAndGlyphs" xml:space="preserve">UDE.CNN  (RMSE=4.37)</text>
<rect x="356.9" y="136.65" width="11.4" height="3.9" fill="#c4c4c4"/>
<text x="373.13" y="140.7" font-size="6.15" fill="#3a3a3a" text-anchor="start" textLength="36.25" lengthAdjust="spacingAndGlyphs" xml:space="preserve">Precipitation</text>
<path d="M356.9,147.4H368.3" stroke="#7a7a7a" stroke-width="1.9" stroke-linecap="square"/>
<text x="373.37" y="149.5" font-size="6.15" fill="#3a3a3a" text-anchor="start" textLength="62.68" lengthAdjust="spacingAndGlyphs" xml:space="preserve">Observed Streamflow</text>
<path d="M4.8,168.4H495" stroke="#9a9a9a" stroke-width="0.9"/>
<path d="M31.3,283.7H471.4M31.3,270.03H471.4M31.3,256.36H471.4M31.3,242.69H471.4M31.3,229.02H471.4M31.3,215.35H471.4M31.3,201.68H471.4M31.3,188.01H471.4M31.3,283.8H471.4M31.3,259.9H471.4M31.3,236H471.4M31.3,212.1H471.4M31.3,188.2H471.4M81.45,182.3V283.7M112.44,182.3V283.7M174.42,182.3V283.7M236.4,182.3V283.7M298.38,182.3V283.7M360.36,182.3V283.7M422.34,182.3V283.7" stroke="#f0f0f0" stroke-width="0.75" fill="none"/>
<path d="M34.05,283.7H35.35V279H34.05ZM59.95,283.7H61.25V262H59.95ZM61.15,283.7H62.45V223.6H61.15ZM62.85,283.7H64.14V192H62.85ZM64.16,283.7H65.44V246H64.16ZM65.45,283.7H66.74V262H65.45ZM69.26,283.7H70.55V265.5H69.26ZM78.26,283.7H79.55V276H78.26ZM79.56,283.7H80.84V270H79.56ZM80.86,283.7H82.14V262H80.86ZM82.16,283.7H83.44V255.3H82.16ZM83.45,283.7H84.74V258H83.45ZM84.76,283.7H86.05V270H84.76ZM86.06,283.7H87.34V266H86.06ZM87.36,283.7H88.64V262H87.36ZM88.66,283.7H89.94V259.7H88.66ZM89.95,283.7H91.24V262H89.95ZM91.26,283.7H92.55V268H91.26ZM92.56,283.7H93.84V272H92.56ZM107.66,283.7H108.94V250H107.66ZM108.95,283.7H110.24V240H108.95ZM110.26,283.7H111.55V205.6H110.26ZM111.56,283.7H112.84V246.6H111.56ZM112.86,283.7H114.14V244H112.86ZM114.16,283.7H115.44V246H114.16ZM115.45,283.7H116.74V229.3H115.45ZM116.76,283.7H118.05V247H116.76ZM118.06,283.7H119.34V249H118.06ZM119.36,283.7H120.64V252.3H119.36ZM120.66,283.7H121.94V252.3H120.66ZM121.95,283.7H123.24V253H121.95ZM123.26,283.7H124.55V253.5H123.26ZM124.56,283.7H125.84V254.5H124.56ZM125.86,283.7H127.14V259H125.86ZM127.16,283.7H128.44V263.3H127.16ZM128.45,283.7H129.75V270H128.45ZM138.05,283.7H139.34V279.5H138.05ZM139.35,283.7H140.65V275.5H139.35ZM140.66,283.7H141.95V277.5H140.66ZM287.36,283.7H288.64V273.6H287.36ZM292.86,283.7H294.14V275.5H292.86ZM294.16,283.7H295.44V274.5H294.16ZM295.46,283.7H296.75V276H295.46ZM296.75,283.7H298.04V276.5H296.75ZM298.06,283.7H299.34V277H298.06ZM299.36,283.7H300.64V278H299.36ZM344.86,283.7H346.14V276H344.86ZM346.16,283.7H347.44V256.5H346.16ZM347.36,283.7H348.64V226.9H347.36ZM348.66,283.7H349.94V236H348.66ZM349.96,283.7H351.25V262H349.96ZM351.25,283.7H352.54V277H351.25ZM405.06,283.7H406.34V273H405.06ZM407.25,283.7H408.54V276H407.25Z" fill="#c4c4c4" stroke="#b4b4b4" stroke-width="0.35"/>
<clipPath id="c182"><rect x="31.3" y="182.3" width="440.1" height="101.4"/></clipPath>
<g clip-path="url(#c182)">
<path d="M34.5,268.9 L35,268.53 L35.5,268.17 L36,267.82 L36.5,267.48 L37,267.16 L37.5,266.85 L38,266.55 L38.5,266.26 L39,265.99 L39.5,265.74 L40,265.5 L40.5,265.26 L41,265.02 L41.5,264.77 L42,264.53 L42.5,264.3 L43,264.09 L43.5,263.91 L44,263.76 L44.5,263.66 L45,263.6 L45.5,263.6 L46,263.6 L46.5,263.6 L47,263.6 L47.5,263.6 L48,263.6 L48.5,263.6 L49,263.6 L49.5,263.6 L50,263.6 L50.5,263.6 L51,263.6 L51.5,263.6 L52,263.6 L52.5,263.6 L53,263.6 L53.5,263.6 L54,263.6 L54.5,263.6 L55,263.6 L55.5,263.6 L56,263.6 L56.5,263.6 L57,263.6 L57.5,263.6 L58,263.6 L58.5,263.6 L59,263.6 L59.5,263.6 L60,263.6 L60.5,263.6 L61,263.6 L61.5,263.6 L62,263.6 L62.5,263.59 L63,263.58 L63.5,263.55 L64,263.52 L64.5,263.48 L65,263.43 L65.5,263.37 L66,263.31 L66.5,263.24 L67,263.17 L67.5,263.1 L68,263.03 L68.5,262.95 L69,262.86 L69.5,262.76 L70,262.64 L70.5,262.51 L71,262.36 L71.5,262.19 L72,262 L72.5,261.8 L73,261.55 L73.5,261.23 L74,260.85 L74.5,260.41 L75,259.92 L75.5,259.38 L76,258.8 L76.5,258.11 L77,257.26 L77.5,256.28 L78,255.23 L78.5,254.02 L79,252.48 L79.5,251.4 L80,250.86 L80.5,250.46 L81,250.3 L81.5,250.3 L82,250.3 L82.5,250.31 L83,250.32 L83.5,250.33 L84,250.34 L84.5,250.35 L85,250.37 L85.5,250.38 L86,250.4 L86.5,250.45 L87,250.54 L87.5,250.68 L88,250.86 L88.5,251.18 L89,252.14 L89.5,253.2 L90,254.38 L90.5,255.31 L91,255.67 L91.5,255.95 L92,256.17 L92.5,256.32 L93,256.39 L93.5,256.39 L94,256.35 L94.5,256.27 L95,256.17 L95.5,256.05 L96,255.93 L96.5,255.8 L97,255.68 L97.5,255.58 L98,255.5 L98.5,255.44 L99,255.39 L99.5,255.34 L100,255.3 L100.5,255.25 L101,255.21 L101.5,255.16 L102,255.1 L102.5,255.04 L103,254.97 L103.5,254.9 L104,254.83 L104.5,254.75 L105,254.67 L105.5,254.59 L106,254.51 L106.5,254.42 L107,254.34 L107.5,254.25 L108,254.16 L108.5,254.07 L109,253.98 L109.5,253.89 L110,253.8 L110.5,253.71 L111,253.63 L111.5,253.54 L112,253.46 L112.5,253.37 L113,253.28 L113.5,253.18 L114,253.08 L114.5,252.98 L115,252.86 L115.5,252.74 L116,252.6 L116.5,252.45 L117,252.29 L117.5,252.11 L118,251.92 L118.5,251.7 L119,251.46 L119.5,251.19 L120,250.88 L120.5,250.55 L121,250.15 L121.5,249.62 L122,248.95 L122.5,248.17 L123,247.29 L123.5,246.31 L124,245.27 L124.5,244.16 L125,242.97 L125.5,241.6 L126,239.99 L126.5,238.14 L127,236 L127.5,233.02 L128,229.18 L128.5,225.24 L129,222 L129.5,219.46 L130,217.1 L130.5,214.92 L131,212.92 L131.5,211.08 L132,209.42 L132.5,207.91 L133,206.47 L133.5,205.11 L134,203.85 L134.5,202.72 L135,201.74 L135.5,200.94 L136,200.26 L136.5,199.6 L137,198.99 L137.5,198.46 L138,198.07 L138.5,197.84 L139,197.8 L139.5,197.83 L140,197.88 L140.5,197.95 L141,198.05 L141.5,198.16 L142,198.28 L142.5,198.44 L143,198.73 L143.5,199.1 L144,199.56 L144.5,200.05 L145,200.58 L145.5,201.11 L146,201.61 L146.5,202.08 L147,202.57 L147.5,203.07 L148,203.58 L148.5,204.1 L149,204.62 L149.5,205.15 L150,205.68 L150.5,206.21 L151,206.75 L151.5,207.29 L152,207.83 L152.5,208.38 L153,208.93 L153.5,209.47 L154,210.01 L154.5,210.56 L155,211.11 L155.5,211.66 L156,212.21 L156.5,212.77 L157,213.34 L157.5,213.93 L158,214.52 L158.5,215.11 L159,215.69 L159.5,216.25 L160,216.79 L160.5,217.33 L161,217.87 L161.5,218.39 L162,218.93 L162.5,219.46 L163,220 L163.5,220.55 L164,221.11 L164.5,221.7 L165,222.29 L165.5,222.89 L166,223.5 L166.5,224.1 L167,224.68 L167.5,225.26 L168,225.84 L168.5,226.41 L169,226.98 L169.5,227.55 L170,228.11 L170.5,228.67 L171,229.23 L171.5,229.78 L172,230.33 L172.5,230.88 L173,231.42 L173.5,231.96 L174,232.49 L174.5,233.01 L175,233.58 L175.5,234.16 L176,234.73 L176.5,235.27 L177,235.74 L177.5,236.13 L178,236.4 L178.5,236.63 L179,236.83 L179.5,237.01 L180,237.17 L180.5,237.31 L181,237.44 L181.5,237.56 L182,237.68 L182.5,237.79 L183,237.9 L183.5,238.01 L184,238.13 L184.5,238.26 L185,238.4 L185.5,238.55 L186,238.72 L186.5,238.92 L187,239.14 L187.5,239.43 L188,239.77 L188.5,240.15 L189,240.55 L189.5,240.95 L190,241.35 L190.5,241.73 L191,242.06 L191.5,242.35 L192,242.57 L192.5,242.72 L193,242.86 L193.5,242.99 L194,243.1 L194.5,243.2 L195,243.3 L195.5,243.38 L196,243.46 L196.5,243.54 L197,243.61 L197.5,243.69 L198,243.77 L198.5,243.85 L199,243.94 L199.5,244.04 L200,244.15 L200.5,244.27 L201,244.4 L201.5,244.55 L202,244.72 L202.5,244.91 L203,245.11 L203.5,245.33 L204,245.55 L204.5,245.79 L205,246.04 L205.5,246.29 L206,246.54 L206.5,246.81 L207,247.11 L207.5,247.44 L208,247.78 L208.5,248.11 L209,248.4 L209.5,248.64 L210,248.83 L210.5,248.99 L211,249.14 L211.5,249.29 L212,249.45 L212.5,249.65 L213,249.89 L213.5,250.2 L214,250.76 L214.5,251.6 L215,252.5 L215.5,253.53 L216,254.74 L216.5,255.92 L217,256.87 L217.5,257.36 L218,257.65 L218.5,257.91 L219,258.14 L219.5,258.35 L220,258.54 L220.5,258.7 L221,258.85 L221.5,258.99 L222,259.11 L222.5,259.22 L223,259.32 L223.5,259.42 L224,259.51 L224.5,259.6 L225,259.7 L225.5,259.79 L226,259.88 L226.5,259.97 L227,260.05 L227.5,260.13 L228,260.2 L228.5,260.27 L229,260.34 L229.5,260.4 L230,260.46 L230.5,260.52 L231,260.58 L231.5,260.64 L232,260.7 L232.5,260.76 L233,260.82 L233.5,260.88 L234,260.94 L234.5,261 L235,261.06 L235.5,261.13 L236,261.2 L236.5,261.27 L237,261.34 L237.5,261.4 L238,261.47 L238.5,261.53 L239,261.59 L239.5,261.65 L240,261.71 L240.5,261.77 L241,261.83 L241.5,261.88 L242,261.94 L242.5,262 L243,262.06 L243.5,262.12 L244,262.19 L244.5,262.25 L245,262.32 L245.5,262.39 L246,262.46 L246.5,262.53 L247,262.61 L247.5,262.69 L248,262.77 L248.5,262.86 L249,262.95 L249.5,263.05 L250,263.15 L250.5,263.25 L251,263.36 L251.5,263.48 L252,263.6 L252.5,263.73 L253,263.86 L253.5,264.01 L254,264.18 L254.5,264.37 L255,264.6 L255.5,264.87 L256,265.19 L256.5,265.55 L257,266.09 L257.5,267.5 L258,268.99 L258.5,269.44 L259,267.7 L259.5,265.12 L260,263.8 L260.5,263.8 L261,263.81 L261.5,263.83 L262,263.85 L262.5,263.88 L263,263.91 L263.5,263.94 L264,263.98 L264.5,264.02 L265,264.07 L265.5,264.12 L266,264.17 L266.5,264.23 L267,264.28 L267.5,264.34 L268,264.4 L268.5,264.46 L269,264.52 L269.5,264.58 L270,264.64 L270.5,264.7 L271,264.76 L271.5,264.81 L272,264.87 L272.5,264.92 L273,264.97 L273.5,265.02 L274,265.06 L274.5,265.1 L275,265.14 L275.5,265.17 L276,265.2 L276.5,265.23 L277,265.25 L277.5,265.28 L278,265.3 L278.5,265.33 L279,265.35 L279.5,265.38 L280,265.4 L280.5,265.43 L281,265.45 L281.5,265.47 L282,265.5 L282.5,265.52 L283,265.54 L283.5,265.56 L284,265.58 L284.5,265.6 L285,265.61 L285.5,265.63 L286,265.64 L286.5,265.65 L287,265.67 L287.5,265.68 L288,265.68 L288.5,265.69 L289,265.7 L289.5,265.7 L290,265.7 L290.5,265.7 L291,265.7 L291.5,265.7 L292,265.69 L292.5,265.69 L293,265.69 L293.5,265.69 L294,265.68 L294.5,265.68 L295,265.67 L295.5,265.67 L296,265.66 L296.5,265.66 L297,265.65 L297.5,265.65 L298,265.64 L298.5,265.64 L299,265.63 L299.5,265.63 L300,265.62 L300.5,265.62 L301,265.61 L301.5,265.61 L302,265.61 L302.5,265.6 L303,265.6 L303.5,265.6 L304,265.6 L304.5,265.6 L305,265.66 L305.5,265.8 L306,265.99 L306.5,266.21 L307,266.45 L307.5,266.68 L308,266.9 L308.5,267.07 L309,267.18 L309.5,267.22 L310,267.26 L310.5,267.29 L311,267.33 L311.5,267.36 L312,267.38 L312.5,267.41 L313,267.43 L313.5,267.46 L314,267.48 L314.5,267.5 L315,267.52 L315.5,267.53 L316,267.55 L316.5,267.56 L317,267.58 L317.5,267.59 L318,267.6 L318.5,267.62 L319,267.63 L319.5,267.64 L320,267.65 L320.5,267.66 L321,267.68 L321.5,267.69 L322,267.7 L322.5,267.71 L323,267.72 L323.5,267.73 L324,267.75 L324.5,267.75 L325,267.76 L325.5,267.77 L326,267.78 L326.5,267.79 L327,267.8 L327.5,267.8 L328,267.81 L328.5,267.82 L329,267.82 L329.5,267.83 L330,267.84 L330.5,267.84 L331,267.85 L331.5,267.86 L332,267.87 L332.5,267.87 L333,267.88 L333.5,267.89 L334,267.9 L334.5,267.91 L335,267.92 L335.5,267.93 L336,267.94 L336.5,267.96 L337,267.97 L337.5,267.98 L338,268 L338.5,268.02 L339,268.05 L339.5,268.09 L340,268.13 L340.5,268.18 L341,268.23 L341.5,268.29 L342,268.34 L342.5,268.4 L343,268.46 L343.5,268.52 L344,268.57 L344.5,268.63 L345,268.67 L345.5,268.71 L346,268.75 L346.5,268.77 L347,268.79 L347.5,268.8 L348,268.78 L348.5,268.7 L349,268.56 L349.5,268.38 L350,268.17 L350.5,267.94 L351,267.69 L351.5,267.43 L352,267.18 L352.5,266.94 L353,266.73 L353.5,266.54 L354,266.4 L354.5,266.28 L355,266.17 L355.5,266.06 L356,265.95 L356.5,265.84 L357,265.74 L357.5,265.64 L358,265.54 L358.5,265.45 L359,265.37 L359.5,265.28 L360,265.21 L360.5,265.13 L361,265.06 L361.5,265 L362,264.94 L362.5,264.89 L363,264.85 L363.5,264.81 L364,264.77 L364.5,264.74 L365,264.7 L365.5,264.67 L366,264.64 L366.5,264.61 L367,264.58 L367.5,264.56 L368,264.54 L368.5,264.52 L369,264.51 L369.5,264.5 L370,264.5 L370.5,264.5 L371,264.51 L371.5,264.53 L372,264.55 L372.5,264.58 L373,264.61 L373.5,264.65 L374,264.69 L374.5,264.73 L375,264.78 L375.5,264.84 L376,264.89 L376.5,264.95 L377,265.01 L377.5,265.08 L378,265.14 L378.5,265.21 L379,265.28 L379.5,265.35 L380,265.42 L380.5,265.49 L381,265.56 L381.5,265.63 L382,265.7 L382.5,265.77 L383,265.84 L383.5,265.9 L384,265.97 L384.5,266.03 L385,266.09 L385.5,266.15 L386,266.2 L386.5,266.25 L387,266.3 L387.5,266.34 L388,266.39 L388.5,266.43 L389,266.48 L389.5,266.52 L390,266.57 L390.5,266.61 L391,266.65 L391.5,266.7 L392,266.74 L392.5,266.78 L393,266.82 L393.5,266.87 L394,266.91 L394.5,266.95 L395,266.99 L395.5,267.03 L396,267.08 L396.5,267.12 L397,267.16 L397.5,267.2 L398,267.24 L398.5,267.28 L399,267.32 L399.5,267.36 L400,267.4 L400.5,267.44 L401,267.48 L401.5,267.51 L402,267.55 L402.5,267.59 L403,267.63 L403.5,267.67 L404,267.71 L404.5,267.74 L405,267.78 L405.5,267.82 L406,267.85 L406.5,267.89 L407,267.93 L407.5,267.96 L408,268 L408.5,268.04 L409,268.07 L409.5,268.11 L410,268.14 L410.5,268.18 L411,268.21 L411.5,268.25 L412,268.28 L412.5,268.32 L413,268.35 L413.5,268.38 L414,268.42 L414.5,268.45 L415,268.48 L415.5,268.52 L416,268.55 L416.5,268.58 L417,268.61 L417.5,268.64 L418,268.68 L418.5,268.71 L419,268.74 L419.5,268.77 L420,268.8 L420.5,268.83 L421,268.86 L421.5,268.89 L422,268.92 L422.5,268.95 L423,268.98 L423.5,269.01 L424,269.04 L424.5,269.07 L425,269.1 L425.5,269.13 L426,269.16 L426.5,269.19 L427,269.22 L427.5,269.25 L428,269.28 L428.5,269.31 L429,269.34 L429.5,269.37 L430,269.4 L430.5,269.43 L431,269.45 L431.5,269.48 L432,269.51 L432.5,269.54 L433,269.57 L433.5,269.6 L434,269.63 L434.5,269.65 L435,269.68 L435.5,269.71 L436,269.74 L436.5,269.76 L437,269.79 L437.5,269.82 L438,269.85 L438.5,269.87 L439,269.9 L439.5,269.93 L440,269.95 L440.5,269.98 L441,270.01 L441.5,270.03 L442,270.06 L442.5,270.09 L443,270.11 L443.5,270.14 L444,270.16 L444.5,270.19 L445,270.22 L445.5,270.24 L446,270.27 L446.5,270.29 L447,270.32 L447.5,270.34 L448,270.36 L448.5,270.39 L449,270.41 L449.5,270.44 L450,270.46 L450.5,270.49 L451,270.51 L451.5,270.53 L452,270.56 L452.5,270.58 L453,270.6 L453.5,270.63 L454,270.65 L454.5,270.67 L455,270.69 L455.5,270.72 L456,270.74 L456.5,270.76 L457,270.78 L457.5,270.8 L458,270.82 L458.5,270.85 L459,270.87 L459.5,270.89 L460,270.91 L460.5,270.93 L461,270.95 L461.5,270.97 L462,270.99 L462.5,271.01 L463,271.03 L463.5,271.05 L464,271.07 L464.5,271.09 L465,271.11 L465.5,271.12 L466,271.14 L466.5,271.16 L467,271.18 L467.5,271.2 L467.6,271.2" fill="none" stroke="#7a7a7a" stroke-width="1.9" stroke-linejoin="round"/>
<path d="M34.5,282.5 L35.3,282.5 L36.1,282.5 L36.9,282.5 L37.7,282.5 L38.5,282.5 L39.3,282.5 L40.1,282.5 L40.9,282.5 L41.7,282.49 L42.5,282.49 L43.3,282.49 L44.1,282.49 L44.9,282.49 L45.7,282.49 L46.5,282.48 L47.3,282.48 L48.1,282.48 L48.9,282.48 L49.7,282.47 L50.5,282.47 L51.3,282.47 L52.1,282.47 L52.9,282.46 L53.7,282.46 L54.5,282.46 L55.3,282.45 L56.1,282.45 L56.9,282.45 L57.7,282.44 L58.5,282.44 L59.3,282.43 L60.1,282.43 L60.9,282.43 L61.7,282.42 L62.5,282.42 L63.3,282.41 L64.1,282.41 L64.9,282.41 L65.7,282.4 L66.5,282.4 L67.3,282.39 L68.1,282.39 L68.9,282.38 L69.7,282.38 L70.5,282.37 L71.3,282.37 L72.1,282.36 L72.9,282.36 L73.7,282.35 L74.5,282.35 L75.3,282.34 L76.1,282.34 L76.9,282.33 L77.7,282.33 L78.5,282.32 L79.3,282.31 L80.1,282.31 L80.9,282.3 L81.7,282.3 L82.5,282.29 L83.3,282.29 L84.1,282.28 L84.9,282.27 L85.7,282.27 L86.5,282.26 L87.3,282.26 L88.1,282.25 L88.9,282.25 L89.7,282.24 L90.5,282.23 L91.3,282.23 L92.1,282.22 L92.9,282.22 L93.7,282.21 L94.5,282.2 L95.3,282.2 L96.1,282.19 L96.9,282.19 L97.7,282.18 L98.5,282.18 L99.3,282.17 L100.1,282.16 L100.9,282.16 L101.7,282.15 L102.5,282.15 L103.3,282.14 L104.1,282.13 L104.9,282.13 L105.7,282.12 L106.5,282.11 L107.3,282.11 L108.1,282.1 L108.9,282.09 L109.7,282.08 L110.5,282.07 L111.3,282.06 L112.1,282.05 L112.9,282.04 L113.7,282.03 L114.5,282.01 L115.3,282 L116.1,281.99 L116.9,281.97 L117.7,281.95 L118.5,281.94 L119.3,281.92 L120.1,281.9 L120.9,281.87 L121.7,281.82 L122.5,281.76 L123.3,281.69 L124.1,281.6 L124.9,281.5 L125.7,281.39 L126.5,281.27 L127.3,281.13 L128.1,280.99 L128.9,280.83 L129.7,280.66 L130.5,280.47 L131.3,280.19 L132.1,279.83 L132.9,279.42 L133.7,278.97 L134.5,278.52 L135.3,278.07 L136.1,277.53 L136.9,276.93 L137.7,276.33 L138.5,275.76 L139.3,275.28 L140.1,274.92 L140.9,274.61 L141.7,274.31 L142.5,274.04 L143.3,273.82 L144.1,273.67 L144.9,273.6 L145.7,273.58 L146.5,273.56 L147.3,273.54 L148.1,273.53 L148.9,273.51 L149.7,273.5 L150.5,273.49 L151.3,273.47 L152.1,273.46 L152.9,273.45 L153.7,273.44 L154.5,273.44 L155.3,273.43 L156.1,273.42 L156.9,273.42 L157.7,273.41 L158.5,273.41 L159.3,273.41 L160.1,273.4 L160.9,273.4 L161.7,273.4 L162.5,273.4 L163.3,273.4 L164.1,273.4 L164.9,273.41 L165.7,273.42 L166.5,273.43 L167.3,273.45 L168.1,273.46 L168.9,273.48 L169.7,273.51 L170.5,273.53 L171.3,273.55 L172.1,273.58 L172.9,273.61 L173.7,273.63 L174.5,273.66 L175.3,273.69 L176.1,273.72 L176.9,273.75 L177.7,273.77 L178.5,273.8 L179.3,273.83 L180.1,273.85 L180.9,273.88 L181.7,273.92 L182.5,273.95 L183.3,273.98 L184.1,274.01 L184.9,274.05 L185.7,274.09 L186.5,274.12 L187.3,274.16 L188.1,274.2 L188.9,274.24 L189.7,274.28 L190.5,274.32 L191.3,274.37 L192.1,274.41 L192.9,274.45 L193.7,274.5 L194.5,274.54 L195.3,274.59 L196.1,274.63 L196.9,274.68 L197.7,274.73 L198.5,274.77 L199.3,274.82 L200.1,274.87 L200.9,274.91 L201.7,274.96 L202.5,275.01 L203.3,275.06 L204.1,275.11 L204.9,275.15 L205.7,275.2 L206.5,275.25 L207.3,275.3 L208.1,275.34 L208.9,275.39 L209.7,275.44 L210.5,275.48 L211.3,275.53 L212.1,275.57 L212.9,275.62 L213.7,275.66 L214.5,275.7 L215.3,275.75 L216.1,275.79 L216.9,275.83 L217.7,275.87 L218.5,275.91 L219.3,275.95 L220.1,275.99 L220.9,276.03 L221.7,276.06 L222.5,276.1 L223.3,276.13 L224.1,276.16 L224.9,276.2 L225.7,276.23 L226.5,276.26 L227.3,276.29 L228.1,276.32 L228.9,276.35 L229.7,276.38 L230.5,276.4 L231.3,276.43 L232.1,276.46 L232.9,276.49 L233.7,276.52 L234.5,276.54 L235.3,276.57 L236.1,276.6 L236.9,276.62 L237.7,276.65 L238.5,276.68 L239.3,276.7 L240.1,276.73 L240.9,276.75 L241.7,276.78 L242.5,276.8 L243.3,276.83 L244.1,276.85 L244.9,276.88 L245.7,276.9 L246.5,276.92 L247.3,276.95 L248.1,276.97 L248.9,276.99 L249.7,277.02 L250.5,277.04 L251.3,277.06 L252.1,277.09 L252.9,277.11 L253.7,277.13 L254.5,277.15 L255.3,277.17 L256.1,277.2 L256.9,277.22 L257.7,277.24 L258.5,277.26 L259.3,277.28 L260.1,277.3 L260.9,277.32 L261.7,277.34 L262.5,277.37 L263.3,277.39 L264.1,277.41 L264.9,277.43 L265.7,277.45 L266.5,277.47 L267.3,277.49 L268.1,277.51 L268.9,277.53 L269.7,277.55 L270.5,277.56 L271.3,277.58 L272.1,277.6 L272.9,277.62 L273.7,277.64 L274.5,277.66 L275.3,277.68 L276.1,277.7 L276.9,277.71 L277.7,277.73 L278.5,277.75 L279.3,277.77 L280.1,277.79 L280.9,277.8 L281.7,277.82 L282.5,277.84 L283.3,277.86 L284.1,277.88 L284.9,277.89 L285.7,277.91 L286.5,277.93 L287.3,277.94 L288.1,277.96 L288.9,277.98 L289.7,277.99 L290.5,278.01 L291.3,278.03 L292.1,278.04 L292.9,278.06 L293.7,278.08 L294.5,278.09 L295.3,278.11 L296.1,278.12 L296.9,278.14 L297.7,278.16 L298.5,278.17 L299.3,278.19 L300.1,278.2 L300.9,278.22 L301.7,278.23 L302.5,278.25 L303.3,278.26 L304.1,278.28 L304.9,278.29 L305.7,278.31 L306.5,278.32 L307.3,278.34 L308.1,278.36 L308.9,278.37 L309.7,278.39 L310.5,278.4 L311.3,278.42 L312.1,278.43 L312.9,278.45 L313.7,278.46 L314.5,278.48 L315.3,278.49 L316.1,278.5 L316.9,278.52 L317.7,278.53 L318.5,278.55 L319.3,278.56 L320.1,278.58 L320.9,278.59 L321.7,278.61 L322.5,278.62 L323.3,278.63 L324.1,278.65 L324.9,278.66 L325.7,278.68 L326.5,278.69 L327.3,278.7 L328.1,278.72 L328.9,278.73 L329.7,278.75 L330.5,278.76 L331.3,278.77 L332.1,278.79 L332.9,278.8 L333.7,278.81 L334.5,278.83 L335.3,278.84 L336.1,278.85 L336.9,278.87 L337.7,278.88 L338.5,278.89 L339.3,278.9 L340.1,278.92 L340.9,278.93 L341.7,278.94 L342.5,278.95 L343.3,278.97 L344.1,278.98 L344.9,278.99 L345.7,279 L346.5,279.02 L347.3,279.03 L348.1,279.04 L348.9,279.05 L349.7,279.06 L350.5,279.07 L351.3,279.08 L352.1,279.1 L352.9,279.11 L353.7,279.12 L354.5,279.13 L355.3,279.14 L356.1,279.15 L356.9,279.16 L357.7,279.17 L358.5,279.18 L359.3,279.19 L360.1,279.2 L360.9,279.21 L361.7,279.22 L362.5,279.23 L363.3,279.24 L364.1,279.25 L364.9,279.26 L365.7,279.27 L366.5,279.28 L367.3,279.29 L368.1,279.3 L368.9,279.31 L369.7,279.32 L370.5,279.33 L371.3,279.34 L372.1,279.35 L372.9,279.36 L373.7,279.37 L374.5,279.38 L375.3,279.39 L376.1,279.4 L376.9,279.41 L377.7,279.41 L378.5,279.42 L379.3,279.43 L380.1,279.44 L380.9,279.45 L381.7,279.46 L382.5,279.47 L383.3,279.48 L384.1,279.49 L384.9,279.5 L385.7,279.5 L386.5,279.51 L387.3,279.52 L388.1,279.53 L388.9,279.54 L389.7,279.55 L390.5,279.56 L391.3,279.56 L392.1,279.57 L392.9,279.58 L393.7,279.59 L394.5,279.6 L395.3,279.6 L396.1,279.61 L396.9,279.62 L397.7,279.63 L398.5,279.63 L399.3,279.64 L400.1,279.65 L400.9,279.66 L401.7,279.66 L402.5,279.67 L403.3,279.68 L404.1,279.68 L404.9,279.69 L405.7,279.7 L406.5,279.7 L407.3,279.71 L408.1,279.72 L408.9,279.72 L409.7,279.73 L410.5,279.74 L411.3,279.74 L412.1,279.75 L412.9,279.75 L413.7,279.76 L414.5,279.77 L415.3,279.77 L416.1,279.78 L416.9,279.78 L417.7,279.79 L418.5,279.79 L419.3,279.8 L420.1,279.8 L420.9,279.81 L421.7,279.81 L422.5,279.81 L423.3,279.82 L424.1,279.82 L424.9,279.83 L425.7,279.83 L426.5,279.84 L427.3,279.84 L428.1,279.85 L428.9,279.85 L429.7,279.85 L430.5,279.86 L431.3,279.86 L432.1,279.87 L432.9,279.87 L433.7,279.88 L434.5,279.88 L435.3,279.88 L436.1,279.89 L436.9,279.89 L437.7,279.9 L438.5,279.9 L439.3,279.9 L440.1,279.91 L440.9,279.91 L441.7,279.92 L442.5,279.92 L443.3,279.92 L444.1,279.93 L444.9,279.93 L445.7,279.93 L446.5,279.94 L447.3,279.94 L448.1,279.94 L448.9,279.95 L449.7,279.95 L450.5,279.95 L451.3,279.96 L452.1,279.96 L452.9,279.96 L453.7,279.96 L454.5,279.97 L455.3,279.97 L456.1,279.97 L456.9,279.97 L457.7,279.98 L458.5,279.98 L459.3,279.98 L460.1,279.98 L460.9,279.99 L461.7,279.99 L462.5,279.99 L463.3,279.99 L464.1,279.99 L464.9,280 L465.7,280 L466.5,280 L467.3,280 L467.6,280" fill="none" stroke="#3498db" stroke-width="1.35" stroke-dasharray="5,2.16"/>
<path d="M34.5,271.8 L35.3,271.77 L36.1,271.74 L36.9,271.71 L37.7,271.68 L38.5,271.65 L39.3,271.62 L40.1,271.59 L40.9,271.56 L41.7,271.53 L42.5,271.49 L43.3,271.46 L44.1,271.43 L44.9,271.39 L45.7,271.36 L46.5,271.33 L47.3,271.29 L48.1,271.26 L48.9,271.22 L49.7,271.19 L50.5,271.15 L51.3,271.11 L52.1,271.08 L52.9,271.04 L53.7,271.01 L54.5,270.97 L55.3,270.93 L56.1,270.9 L56.9,270.86 L57.7,270.83 L58.5,270.8 L59.3,270.76 L60.1,270.72 L60.9,270.68 L61.7,270.62 L62.5,270.55 L63.3,270.42 L64.1,270.26 L64.9,270.05 L65.7,269.81 L66.5,269.55 L67.3,269.28 L68.1,269.01 L68.9,268.74 L69.7,268.48 L70.5,268.24 L71.3,268.03 L72.1,267.85 L72.9,267.72 L73.7,267.59 L74.5,267.47 L75.3,267.36 L76.1,267.26 L76.9,267.16 L77.7,267.07 L78.5,266.97 L79.3,266.89 L80.1,266.8 L80.9,266.71 L81.7,266.62 L82.5,266.53 L83.3,266.44 L84.1,266.35 L84.9,266.27 L85.7,266.18 L86.5,266.1 L87.3,266.02 L88.1,265.93 L88.9,265.85 L89.7,265.77 L90.5,265.69 L91.3,265.6 L92.1,265.52 L92.9,265.43 L93.7,265.34 L94.5,265.24 L95.3,265.13 L96.1,265.02 L96.9,264.91 L97.7,264.79 L98.5,264.69 L99.3,264.59 L100.1,264.51 L100.9,264.45 L101.7,264.41 L102.5,264.39 L103.3,264.37 L104.1,264.36 L104.9,264.36 L105.7,264.35 L106.5,264.34 L107.3,264.33 L108.1,264.32 L108.9,264.29 L109.7,264.22 L110.5,264.08 L111.3,263.9 L112.1,263.66 L112.9,263.39 L113.7,263.09 L114.5,262.77 L115.3,262.44 L116.1,262.06 L116.9,261.56 L117.7,260.97 L118.5,260.32 L119.3,259.63 L120.1,258.93 L120.9,258.23 L121.7,257.54 L122.5,256.83 L123.3,256.05 L124.1,255.16 L124.9,254.12 L125.7,252.76 L126.5,251.12 L127.3,249.32 L128.1,247.46 L128.9,245.28 L129.7,242.93 L130.5,240.9 L131.3,239.34 L132.1,237.85 L132.9,236.78 L133.7,236.51 L134.5,236.72 L135.3,237.15 L136.1,237.72 L136.9,238.38 L137.7,239.04 L138.5,239.65 L139.3,240.28 L140.1,240.98 L140.9,241.74 L141.7,242.52 L142.5,243.33 L143.3,244.14 L144.1,244.94 L144.9,245.72 L145.7,246.45 L146.5,247.13 L147.3,247.73 L148.1,248.24 L148.9,248.67 L149.7,249.06 L150.5,249.41 L151.3,249.74 L152.1,250.04 L152.9,250.35 L153.7,250.66 L154.5,250.98 L155.3,251.34 L156.1,251.72 L156.9,252.12 L157.7,252.54 L158.5,252.96 L159.3,253.38 L160.1,253.78 L160.9,254.15 L161.7,254.49 L162.5,254.79 L163.3,255.03 L164.1,255.24 L164.9,255.43 L165.7,255.61 L166.5,255.78 L167.3,255.94 L168.1,256.09 L168.9,256.23 L169.7,256.36 L170.5,256.49 L171.3,256.61 L172.1,256.74 L172.9,256.86 L173.7,256.98 L174.5,257.1 L175.3,257.23 L176.1,257.36 L176.9,257.5 L177.7,257.65 L178.5,257.8 L179.3,257.96 L180.1,258.13 L180.9,258.3 L181.7,258.47 L182.5,258.65 L183.3,258.82 L184.1,259.01 L184.9,259.19 L185.7,259.37 L186.5,259.56 L187.3,259.75 L188.1,259.94 L188.9,260.13 L189.7,260.32 L190.5,260.51 L191.3,260.69 L192.1,260.88 L192.9,261.07 L193.7,261.25 L194.5,261.44 L195.3,261.62 L196.1,261.8 L196.9,261.97 L197.7,262.14 L198.5,262.31 L199.3,262.48 L200.1,262.64 L200.9,262.79 L201.7,262.94 L202.5,263.09 L203.3,263.24 L204.1,263.38 L204.9,263.53 L205.7,263.67 L206.5,263.81 L207.3,263.95 L208.1,264.09 L208.9,264.23 L209.7,264.36 L210.5,264.5 L211.3,264.63 L212.1,264.76 L212.9,264.89 L213.7,265.02 L214.5,265.15 L215.3,265.27 L216.1,265.39 L216.9,265.51 L217.7,265.63 L218.5,265.75 L219.3,265.86 L220.1,265.97 L220.9,266.08 L221.7,266.19 L222.5,266.29 L223.3,266.39 L224.1,266.49 L224.9,266.59 L225.7,266.68 L226.5,266.77 L227.3,266.87 L228.1,266.96 L228.9,267.05 L229.7,267.14 L230.5,267.23 L231.3,267.32 L232.1,267.4 L232.9,267.49 L233.7,267.57 L234.5,267.66 L235.3,267.74 L236.1,267.82 L236.9,267.91 L237.7,267.99 L238.5,268.07 L239.3,268.14 L240.1,268.22 L240.9,268.3 L241.7,268.37 L242.5,268.45 L243.3,268.52 L244.1,268.59 L244.9,268.67 L245.7,268.74 L246.5,268.81 L247.3,268.87 L248.1,268.94 L248.9,269.01 L249.7,269.07 L250.5,269.14 L251.3,269.2 L252.1,269.26 L252.9,269.32 L253.7,269.38 L254.5,269.44 L255.3,269.49 L256.1,269.55 L256.9,269.6 L257.7,269.65 L258.5,269.71 L259.3,269.76 L260.1,269.81 L260.9,269.85 L261.7,269.9 L262.5,269.95 L263.3,269.99 L264.1,270.04 L264.9,270.08 L265.7,270.13 L266.5,270.17 L267.3,270.22 L268.1,270.26 L268.9,270.3 L269.7,270.34 L270.5,270.38 L271.3,270.42 L272.1,270.46 L272.9,270.5 L273.7,270.54 L274.5,270.58 L275.3,270.61 L276.1,270.65 L276.9,270.69 L277.7,270.72 L278.5,270.76 L279.3,270.79 L280.1,270.83 L280.9,270.86 L281.7,270.9 L282.5,270.93 L283.3,270.96 L284.1,271 L284.9,271.03 L285.7,271.06 L286.5,271.09 L287.3,271.12 L288.1,271.16 L288.9,271.19 L289.7,271.22 L290.5,271.25 L291.3,271.28 L292.1,271.31 L292.9,271.34 L293.7,271.37 L294.5,271.4 L295.3,271.43 L296.1,271.46 L296.9,271.49 L297.7,271.52 L298.5,271.55 L299.3,271.57 L300.1,271.6 L300.9,271.63 L301.7,271.66 L302.5,271.69 L303.3,271.72 L304.1,271.75 L304.9,271.78 L305.7,271.82 L306.5,271.85 L307.3,271.88 L308.1,271.91 L308.9,271.94 L309.7,271.97 L310.5,272.01 L311.3,272.04 L312.1,272.07 L312.9,272.1 L313.7,272.14 L314.5,272.17 L315.3,272.2 L316.1,272.23 L316.9,272.26 L317.7,272.29 L318.5,272.33 L319.3,272.36 L320.1,272.39 L320.9,272.42 L321.7,272.45 L322.5,272.48 L323.3,272.5 L324.1,272.53 L324.9,272.56 L325.7,272.59 L326.5,272.62 L327.3,272.64 L328.1,272.67 L328.9,272.69 L329.7,272.72 L330.5,272.74 L331.3,272.76 L332.1,272.78 L332.9,272.8 L333.7,272.82 L334.5,272.84 L335.3,272.86 L336.1,272.88 L336.9,272.9 L337.7,272.91 L338.5,272.92 L339.3,272.94 L340.1,272.95 L340.9,272.96 L341.7,272.97 L342.5,272.98 L343.3,272.99 L344.1,272.99 L344.9,273 L345.7,273 L346.5,273 L347.3,273 L348.1,272.95 L348.9,272.86 L349.7,272.72 L350.5,272.55 L351.3,272.35 L352.1,272.12 L352.9,271.87 L353.7,271.6 L354.5,271.32 L355.3,271.04 L356.1,270.75 L356.9,270.47 L357.7,270.19 L358.5,269.93 L359.3,269.69 L360.1,269.47 L360.9,269.25 L361.7,269 L362.5,268.75 L363.3,268.48 L364.1,268.21 L364.9,267.96 L365.7,267.72 L366.5,267.5 L367.3,267.31 L368.1,267.16 L368.9,267.06 L369.7,267 L370.5,267 L371.3,267.01 L372.1,267.02 L372.9,267.03 L373.7,267.05 L374.5,267.07 L375.3,267.09 L376.1,267.12 L376.9,267.15 L377.7,267.19 L378.5,267.23 L379.3,267.27 L380.1,267.32 L380.9,267.37 L381.7,267.42 L382.5,267.47 L383.3,267.53 L384.1,267.59 L384.9,267.65 L385.7,267.72 L386.5,267.78 L387.3,267.85 L388.1,267.92 L388.9,267.99 L389.7,268.07 L390.5,268.14 L391.3,268.22 L392.1,268.3 L392.9,268.38 L393.7,268.46 L394.5,268.54 L395.3,268.63 L396.1,268.71 L396.9,268.79 L397.7,268.88 L398.5,268.96 L399.3,269.05 L400.1,269.14 L400.9,269.22 L401.7,269.31 L402.5,269.39 L403.3,269.48 L404.1,269.56 L404.9,269.65 L405.7,269.73 L406.5,269.82 L407.3,269.9 L408.1,269.98 L408.9,270.06 L409.7,270.14 L410.5,270.22 L411.3,270.29 L412.1,270.37 L412.9,270.44 L413.7,270.51 L414.5,270.58 L415.3,270.65 L416.1,270.72 L416.9,270.78 L417.7,270.84 L418.5,270.9 L419.3,270.95 L420.1,271.01 L420.9,271.06 L421.7,271.11 L422.5,271.16 L423.3,271.21 L424.1,271.26 L424.9,271.31 L425.7,271.36 L426.5,271.41 L427.3,271.46 L428.1,271.51 L428.9,271.56 L429.7,271.61 L430.5,271.66 L431.3,271.71 L432.1,271.76 L432.9,271.81 L433.7,271.85 L434.5,271.9 L435.3,271.95 L436.1,272 L436.9,272.04 L437.7,272.09 L438.5,272.14 L439.3,272.18 L440.1,272.23 L440.9,272.27 L441.7,272.32 L442.5,272.36 L443.3,272.41 L444.1,272.45 L444.9,272.49 L445.7,272.54 L446.5,272.58 L447.3,272.62 L448.1,272.67 L448.9,272.71 L449.7,272.75 L450.5,272.79 L451.3,272.83 L452.1,272.88 L452.9,272.92 L453.7,272.96 L454.5,273 L455.3,273.04 L456.1,273.08 L456.9,273.11 L457.7,273.15 L458.5,273.19 L459.3,273.23 L460.1,273.27 L460.9,273.3 L461.7,273.34 L462.5,273.38 L463.3,273.41 L464.1,273.45 L464.9,273.48 L465.7,273.52 L466.5,273.55 L467.3,273.59 L467.6,273.6" fill="none" stroke="#2874a6" stroke-width="1.35" stroke-dasharray="1.35,2.23"/>
<path d="M34.5,271 L35.3,270.92 L36.1,270.84 L36.9,270.77 L37.7,270.69 L38.5,270.61 L39.3,270.54 L40.1,270.46 L40.9,270.38 L41.7,270.31 L42.5,270.23 L43.3,270.16 L44.1,270.08 L44.9,270.01 L45.7,269.94 L46.5,269.87 L47.3,269.81 L48.1,269.74 L48.9,269.69 L49.7,269.63 L50.5,269.57 L51.3,269.52 L52.1,269.46 L52.9,269.41 L53.7,269.35 L54.5,269.29 L55.3,269.22 L56.1,269.16 L56.9,269.09 L57.7,269.01 L58.5,268.93 L59.3,268.84 L60.1,268.75 L60.9,268.65 L61.7,268.54 L62.5,268.42 L63.3,268.26 L64.1,268.07 L64.9,267.85 L65.7,267.61 L66.5,267.34 L67.3,267.06 L68.1,266.77 L68.9,266.47 L69.7,266.17 L70.5,265.87 L71.3,265.58 L72.1,265.3 L72.9,265.03 L73.7,264.77 L74.5,264.5 L75.3,264.23 L76.1,263.97 L76.9,263.69 L77.7,263.42 L78.5,263.14 L79.3,262.85 L80.1,262.56 L80.9,262.26 L81.7,261.95 L82.5,261.62 L83.3,261.28 L84.1,260.89 L84.9,260.47 L85.7,260.04 L86.5,259.61 L87.3,259.2 L88.1,258.84 L88.9,258.53 L89.7,258.29 L90.5,258.08 L91.3,257.89 L92.1,257.71 L92.9,257.54 L93.7,257.37 L94.5,257.18 L95.3,256.97 L96.1,256.7 L96.9,256.37 L97.7,256.05 L98.5,255.76 L99.3,255.56 L100.1,255.5 L100.9,255.5 L101.7,255.51 L102.5,255.52 L103.3,255.53 L104.1,255.55 L104.9,255.56 L105.7,255.57 L106.5,255.58 L107.3,255.59 L108.1,255.6 L108.9,255.6 L109.7,255.54 L110.5,255.41 L111.3,255.21 L112.1,254.97 L112.9,254.7 L113.7,254.39 L114.5,254.07 L115.3,253.74 L116.1,253.39 L116.9,252.99 L117.7,252.53 L118.5,252.02 L119.3,251.45 L120.1,250.83 L120.9,250.15 L121.7,249.42 L122.5,248.64 L123.3,247.81 L124.1,246.83 L124.9,245.59 L125.7,244.19 L126.5,242.69 L127.3,241.18 L128.1,239.63 L128.9,237.94 L129.7,236.24 L130.5,234.66 L131.3,233.34 L132.1,232.22 L132.9,231.09 L133.7,229.71 L134.5,227.61 L135.3,224.66 L136.1,221.94 L136.9,220.19 L137.7,218.71 L138.5,217.48 L139.3,216.59 L140.1,216.07 L140.9,215.68 L141.7,215.43 L142.5,215.44 L143.3,215.71 L144.1,216.17 L144.9,216.74 L145.7,217.34 L146.5,218.18 L147.3,219.22 L148.1,220.34 L148.9,221.41 L149.7,222.33 L150.5,223.16 L151.3,223.95 L152.1,224.72 L152.9,225.48 L153.7,226.24 L154.5,227.01 L155.3,227.8 L156.1,228.62 L156.9,229.46 L157.7,230.31 L158.5,231.17 L159.3,232.03 L160.1,232.89 L160.9,233.75 L161.7,234.59 L162.5,235.41 L163.3,236.21 L164.1,236.98 L164.9,237.72 L165.7,238.42 L166.5,239.08 L167.3,239.73 L168.1,240.36 L168.9,240.98 L169.7,241.58 L170.5,242.17 L171.3,242.75 L172.1,243.31 L172.9,243.87 L173.7,244.41 L174.5,244.94 L175.3,245.47 L176.1,245.99 L176.9,246.5 L177.7,247 L178.5,247.5 L179.3,247.99 L180.1,248.49 L180.9,248.97 L181.7,249.45 L182.5,249.93 L183.3,250.4 L184.1,250.86 L184.9,251.31 L185.7,251.76 L186.5,252.19 L187.3,252.61 L188.1,253.03 L188.9,253.43 L189.7,253.81 L190.5,254.19 L191.3,254.54 L192.1,254.89 L192.9,255.23 L193.7,255.56 L194.5,255.89 L195.3,256.2 L196.1,256.51 L196.9,256.81 L197.7,257.1 L198.5,257.38 L199.3,257.65 L200.1,257.92 L200.9,258.17 L201.7,258.41 L202.5,258.65 L203.3,258.87 L204.1,259.1 L204.9,259.32 L205.7,259.54 L206.5,259.75 L207.3,259.96 L208.1,260.17 L208.9,260.37 L209.7,260.57 L210.5,260.77 L211.3,260.96 L212.1,261.15 L212.9,261.34 L213.7,261.52 L214.5,261.7 L215.3,261.88 L216.1,262.05 L216.9,262.22 L217.7,262.39 L218.5,262.55 L219.3,262.72 L220.1,262.88 L220.9,263.03 L221.7,263.19 L222.5,263.34 L223.3,263.49 L224.1,263.64 L224.9,263.78 L225.7,263.93 L226.5,264.07 L227.3,264.21 L228.1,264.35 L228.9,264.49 L229.7,264.63 L230.5,264.77 L231.3,264.91 L232.1,265.04 L232.9,265.18 L233.7,265.31 L234.5,265.44 L235.3,265.58 L236.1,265.71 L236.9,265.84 L237.7,265.96 L238.5,266.09 L239.3,266.22 L240.1,266.34 L240.9,266.46 L241.7,266.58 L242.5,266.7 L243.3,266.82 L244.1,266.93 L244.9,267.05 L245.7,267.16 L246.5,267.27 L247.3,267.38 L248.1,267.48 L248.9,267.59 L249.7,267.69 L250.5,267.79 L251.3,267.89 L252.1,267.98 L252.9,268.08 L253.7,268.17 L254.5,268.26 L255.3,268.34 L256.1,268.43 L256.9,268.51 L257.7,268.59 L258.5,268.66 L259.3,268.74 L260.1,268.81 L260.9,268.88 L261.7,268.95 L262.5,269.01 L263.3,269.08 L264.1,269.15 L264.9,269.21 L265.7,269.28 L266.5,269.34 L267.3,269.4 L268.1,269.46 L268.9,269.52 L269.7,269.58 L270.5,269.64 L271.3,269.7 L272.1,269.76 L272.9,269.81 L273.7,269.87 L274.5,269.92 L275.3,269.98 L276.1,270.03 L276.9,270.08 L277.7,270.13 L278.5,270.18 L279.3,270.23 L280.1,270.28 L280.9,270.33 L281.7,270.38 L282.5,270.42 L283.3,270.47 L284.1,270.52 L284.9,270.56 L285.7,270.61 L286.5,270.65 L287.3,270.69 L288.1,270.74 L288.9,270.78 L289.7,270.82 L290.5,270.86 L291.3,270.9 L292.1,270.94 L292.9,270.98 L293.7,271.02 L294.5,271.05 L295.3,271.09 L296.1,271.13 L296.9,271.16 L297.7,271.2 L298.5,271.24 L299.3,271.27 L300.1,271.3 L300.9,271.34 L301.7,271.37 L302.5,271.41 L303.3,271.44 L304.1,271.48 L304.9,271.51 L305.7,271.55 L306.5,271.58 L307.3,271.62 L308.1,271.65 L308.9,271.69 L309.7,271.73 L310.5,271.76 L311.3,271.8 L312.1,271.83 L312.9,271.87 L313.7,271.9 L314.5,271.94 L315.3,271.97 L316.1,272 L316.9,272.04 L317.7,272.07 L318.5,272.1 L319.3,272.14 L320.1,272.17 L320.9,272.2 L321.7,272.23 L322.5,272.26 L323.3,272.29 L324.1,272.32 L324.9,272.35 L325.7,272.38 L326.5,272.41 L327.3,272.43 L328.1,272.46 L328.9,272.49 L329.7,272.51 L330.5,272.54 L331.3,272.56 L332.1,272.58 L332.9,272.6 L333.7,272.62 L334.5,272.64 L335.3,272.66 L336.1,272.68 L336.9,272.69 L337.7,272.71 L338.5,272.72 L339.3,272.74 L340.1,272.75 L340.9,272.76 L341.7,272.77 L342.5,272.78 L343.3,272.79 L344.1,272.79 L344.9,272.8 L345.7,272.8 L346.5,272.8 L347.3,272.79 L348.1,272.73 L348.9,272.59 L349.7,272.4 L350.5,272.15 L351.3,271.85 L352.1,271.52 L352.9,271.16 L353.7,270.78 L354.5,270.39 L355.3,270 L356.1,269.6 L356.9,269.22 L357.7,268.86 L358.5,268.52 L359.3,268.23 L360.1,267.97 L360.9,267.72 L361.7,267.46 L362.5,267.19 L363.3,266.92 L364.1,266.66 L364.9,266.41 L365.7,266.18 L366.5,265.97 L367.3,265.79 L368.1,265.65 L368.9,265.55 L369.7,265.5 L370.5,265.5 L371.3,265.51 L372.1,265.52 L372.9,265.53 L373.7,265.55 L374.5,265.58 L375.3,265.61 L376.1,265.64 L376.9,265.68 L377.7,265.72 L378.5,265.77 L379.3,265.82 L380.1,265.87 L380.9,265.93 L381.7,265.99 L382.5,266.05 L383.3,266.12 L384.1,266.19 L384.9,266.26 L385.7,266.33 L386.5,266.41 L387.3,266.49 L388.1,266.57 L388.9,266.66 L389.7,266.75 L390.5,266.83 L391.3,266.92 L392.1,267.02 L392.9,267.11 L393.7,267.2 L394.5,267.3 L395.3,267.4 L396.1,267.5 L396.9,267.59 L397.7,267.69 L398.5,267.79 L399.3,267.89 L400.1,267.99 L400.9,268.1 L401.7,268.2 L402.5,268.3 L403.3,268.4 L404.1,268.5 L404.9,268.6 L405.7,268.7 L406.5,268.79 L407.3,268.89 L408.1,268.99 L408.9,269.08 L409.7,269.18 L410.5,269.27 L411.3,269.36 L412.1,269.45 L412.9,269.53 L413.7,269.62 L414.5,269.7 L415.3,269.78 L416.1,269.86 L416.9,269.93 L417.7,270.01 L418.5,270.08 L419.3,270.14 L420.1,270.21 L420.9,270.27 L421.7,270.33 L422.5,270.39 L423.3,270.46 L424.1,270.52 L424.9,270.58 L425.7,270.64 L426.5,270.7 L427.3,270.76 L428.1,270.82 L428.9,270.88 L429.7,270.94 L430.5,271 L431.3,271.06 L432.1,271.12 L432.9,271.18 L433.7,271.23 L434.5,271.29 L435.3,271.35 L436.1,271.41 L436.9,271.46 L437.7,271.52 L438.5,271.58 L439.3,271.63 L440.1,271.69 L440.9,271.74 L441.7,271.8 L442.5,271.86 L443.3,271.91 L444.1,271.96 L444.9,272.02 L445.7,272.07 L446.5,272.12 L447.3,272.18 L448.1,272.23 L448.9,272.28 L449.7,272.33 L450.5,272.39 L451.3,272.44 L452.1,272.49 L452.9,272.54 L453.7,272.59 L454.5,272.64 L455.3,272.69 L456.1,272.74 L456.9,272.79 L457.7,272.83 L458.5,272.88 L459.3,272.93 L460.1,272.98 L460.9,273.02 L461.7,273.07 L462.5,273.12 L463.3,273.16 L464.1,273.21 L464.9,273.25 L465.7,273.3 L466.5,273.34 L467.3,273.38 L467.6,273.4" fill="none" stroke="#1b4f72" stroke-width="1.35" stroke-dasharray="8.64,2.16,1.35,2.16"/>
<path d="M34.5,281.3 L35.3,281.3 L36.1,281.3 L36.9,281.3 L37.7,281.3 L38.5,281.3 L39.3,281.29 L40.1,281.29 L40.9,281.29 L41.7,281.28 L42.5,281.28 L43.3,281.28 L44.1,281.27 L44.9,281.27 L45.7,281.26 L46.5,281.26 L47.3,281.25 L48.1,281.25 L48.9,281.24 L49.7,281.23 L50.5,281.23 L51.3,281.22 L52.1,281.21 L52.9,281.2 L53.7,281.19 L54.5,281.19 L55.3,281.18 L56.1,281.17 L56.9,281.16 L57.7,281.15 L58.5,281.14 L59.3,281.13 L60.1,281.12 L60.9,281.11 L61.7,281.09 L62.5,281.08 L63.3,281.07 L64.1,281.06 L64.9,281.05 L65.7,281.03 L66.5,281.02 L67.3,281.01 L68.1,280.99 L68.9,280.98 L69.7,280.97 L70.5,280.95 L71.3,280.94 L72.1,280.92 L72.9,280.91 L73.7,280.89 L74.5,280.88 L75.3,280.86 L76.1,280.84 L76.9,280.83 L77.7,280.81 L78.5,280.79 L79.3,280.78 L80.1,280.76 L80.9,280.74 L81.7,280.72 L82.5,280.71 L83.3,280.69 L84.1,280.67 L84.9,280.65 L85.7,280.63 L86.5,280.61 L87.3,280.59 L88.1,280.57 L88.9,280.55 L89.7,280.54 L90.5,280.52 L91.3,280.5 L92.1,280.47 L92.9,280.45 L93.7,280.43 L94.5,280.41 L95.3,280.39 L96.1,280.37 L96.9,280.34 L97.7,280.32 L98.5,280.29 L99.3,280.25 L100.1,280.22 L100.9,280.18 L101.7,280.14 L102.5,280.1 L103.3,280.06 L104.1,280.01 L104.9,279.97 L105.7,279.91 L106.5,279.86 L107.3,279.81 L108.1,279.75 L108.9,279.69 L109.7,279.62 L110.5,279.56 L111.3,279.48 L112.1,279.38 L112.9,279.28 L113.7,279.16 L114.5,279.04 L115.3,278.91 L116.1,278.78 L116.9,278.64 L117.7,278.5 L118.5,278.37 L119.3,278.23 L120.1,278.09 L120.9,277.94 L121.7,277.78 L122.5,277.6 L123.3,277.4 L124.1,277.17 L124.9,276.89 L125.7,276.55 L126.5,276.13 L127.3,275.64 L128.1,274.96 L128.9,274 L129.7,273 L130.5,272.05 L131.3,271.1 L132.1,270.19 L132.9,269.25 L133.7,268.33 L134.5,267.55 L135.3,267.03 L136.1,266.6 L136.9,266.2 L137.7,265.86 L138.5,265.6 L139.3,265.44 L140.1,265.4 L140.9,265.42 L141.7,265.45 L142.5,265.5 L143.3,265.56 L144.1,265.64 L144.9,265.73 L145.7,265.82 L146.5,265.93 L147.3,266.04 L148.1,266.15 L148.9,266.26 L149.7,266.37 L150.5,266.49 L151.3,266.63 L152.1,266.79 L152.9,266.97 L153.7,267.16 L154.5,267.36 L155.3,267.57 L156.1,267.79 L156.9,268.01 L157.7,268.23 L158.5,268.45 L159.3,268.66 L160.1,268.86 L160.9,269.05 L161.7,269.23 L162.5,269.38 L163.3,269.52 L164.1,269.64 L164.9,269.75 L165.7,269.87 L166.5,269.97 L167.3,270.07 L168.1,270.17 L168.9,270.27 L169.7,270.36 L170.5,270.45 L171.3,270.54 L172.1,270.62 L172.9,270.71 L173.7,270.79 L174.5,270.87 L175.3,270.96 L176.1,271.04 L176.9,271.12 L177.7,271.21 L178.5,271.3 L179.3,271.39 L180.1,271.48 L180.9,271.57 L181.7,271.65 L182.5,271.74 L183.3,271.83 L184.1,271.92 L184.9,272 L185.7,272.09 L186.5,272.17 L187.3,272.26 L188.1,272.34 L188.9,272.43 L189.7,272.51 L190.5,272.6 L191.3,272.68 L192.1,272.76 L192.9,272.85 L193.7,272.93 L194.5,273.02 L195.3,273.1 L196.1,273.18 L196.9,273.27 L197.7,273.35 L198.5,273.43 L199.3,273.52 L200.1,273.6 L200.9,273.68 L201.7,273.77 L202.5,273.85 L203.3,273.94 L204.1,274.03 L204.9,274.12 L205.7,274.21 L206.5,274.3 L207.3,274.39 L208.1,274.49 L208.9,274.58 L209.7,274.67 L210.5,274.77 L211.3,274.86 L212.1,274.95 L212.9,275.05 L213.7,275.14 L214.5,275.23 L215.3,275.32 L216.1,275.4 L216.9,275.49 L217.7,275.57 L218.5,275.65 L219.3,275.73 L220.1,275.81 L220.9,275.88 L221.7,275.95 L222.5,276.02 L223.3,276.08 L224.1,276.14 L224.9,276.19 L225.7,276.25 L226.5,276.3 L227.3,276.35 L228.1,276.4 L228.9,276.44 L229.7,276.49 L230.5,276.54 L231.3,276.59 L232.1,276.63 L232.9,276.68 L233.7,276.72 L234.5,276.76 L235.3,276.8 L236.1,276.85 L236.9,276.89 L237.7,276.93 L238.5,276.97 L239.3,277 L240.1,277.04 L240.9,277.08 L241.7,277.12 L242.5,277.15 L243.3,277.19 L244.1,277.22 L244.9,277.26 L245.7,277.29 L246.5,277.32 L247.3,277.36 L248.1,277.39 L248.9,277.42 L249.7,277.45 L250.5,277.48 L251.3,277.51 L252.1,277.54 L252.9,277.57 L253.7,277.6 L254.5,277.62 L255.3,277.65 L256.1,277.68 L256.9,277.7 L257.7,277.73 L258.5,277.75 L259.3,277.78 L260.1,277.8 L260.9,277.83 L261.7,277.85 L262.5,277.87 L263.3,277.9 L264.1,277.92 L264.9,277.94 L265.7,277.96 L266.5,277.98 L267.3,278 L268.1,278.02 L268.9,278.04 L269.7,278.06 L270.5,278.08 L271.3,278.1 L272.1,278.12 L272.9,278.14 L273.7,278.16 L274.5,278.18 L275.3,278.19 L276.1,278.21 L276.9,278.23 L277.7,278.25 L278.5,278.26 L279.3,278.28 L280.1,278.3 L280.9,278.31 L281.7,278.33 L282.5,278.35 L283.3,278.36 L284.1,278.38 L284.9,278.4 L285.7,278.41 L286.5,278.43 L287.3,278.44 L288.1,278.46 L288.9,278.47 L289.7,278.49 L290.5,278.51 L291.3,278.52 L292.1,278.54 L292.9,278.55 L293.7,278.57 L294.5,278.59 L295.3,278.6 L296.1,278.62 L296.9,278.64 L297.7,278.65 L298.5,278.67 L299.3,278.69 L300.1,278.7 L300.9,278.72 L301.7,278.74 L302.5,278.75 L303.3,278.77 L304.1,278.79 L304.9,278.81 L305.7,278.82 L306.5,278.84 L307.3,278.86 L308.1,278.87 L308.9,278.89 L309.7,278.91 L310.5,278.93 L311.3,278.94 L312.1,278.96 L312.9,278.98 L313.7,279 L314.5,279.01 L315.3,279.03 L316.1,279.05 L316.9,279.07 L317.7,279.08 L318.5,279.1 L319.3,279.12 L320.1,279.14 L320.9,279.15 L321.7,279.17 L322.5,279.19 L323.3,279.21 L324.1,279.22 L324.9,279.24 L325.7,279.26 L326.5,279.27 L327.3,279.29 L328.1,279.31 L328.9,279.33 L329.7,279.34 L330.5,279.36 L331.3,279.38 L332.1,279.39 L332.9,279.41 L333.7,279.43 L334.5,279.44 L335.3,279.46 L336.1,279.47 L336.9,279.49 L337.7,279.51 L338.5,279.52 L339.3,279.54 L340.1,279.55 L340.9,279.57 L341.7,279.59 L342.5,279.6 L343.3,279.62 L344.1,279.63 L344.9,279.65 L345.7,279.66 L346.5,279.68 L347.3,279.69 L348.1,279.7 L348.9,279.72 L349.7,279.73 L350.5,279.75 L351.3,279.76 L352.1,279.77 L352.9,279.79 L353.7,279.8 L354.5,279.81 L355.3,279.83 L356.1,279.84 L356.9,279.85 L357.7,279.87 L358.5,279.88 L359.3,279.89 L360.1,279.9 L360.9,279.91 L361.7,279.92 L362.5,279.94 L363.3,279.95 L364.1,279.96 L364.9,279.97 L365.7,279.98 L366.5,279.99 L367.3,280 L368.1,280.01 L368.9,280.03 L369.7,280.04 L370.5,280.05 L371.3,280.06 L372.1,280.07 L372.9,280.08 L373.7,280.09 L374.5,280.1 L375.3,280.11 L376.1,280.12 L376.9,280.13 L377.7,280.14 L378.5,280.15 L379.3,280.16 L380.1,280.17 L380.9,280.18 L381.7,280.19 L382.5,280.2 L383.3,280.21 L384.1,280.22 L384.9,280.23 L385.7,280.24 L386.5,280.25 L387.3,280.26 L388.1,280.27 L388.9,280.28 L389.7,280.28 L390.5,280.29 L391.3,280.3 L392.1,280.31 L392.9,280.32 L393.7,280.33 L394.5,280.34 L395.3,280.35 L396.1,280.36 L396.9,280.36 L397.7,280.37 L398.5,280.38 L399.3,280.39 L400.1,280.4 L400.9,280.41 L401.7,280.42 L402.5,280.42 L403.3,280.43 L404.1,280.44 L404.9,280.45 L405.7,280.46 L406.5,280.47 L407.3,280.47 L408.1,280.48 L408.9,280.49 L409.7,280.5 L410.5,280.51 L411.3,280.51 L412.1,280.52 L412.9,280.53 L413.7,280.54 L414.5,280.55 L415.3,280.55 L416.1,280.56 L416.9,280.57 L417.7,280.58 L418.5,280.59 L419.3,280.59 L420.1,280.6 L420.9,280.61 L421.7,280.62 L422.5,280.62 L423.3,280.63 L424.1,280.64 L424.9,280.65 L425.7,280.65 L426.5,280.66 L427.3,280.67 L428.1,280.68 L428.9,280.68 L429.7,280.69 L430.5,280.7 L431.3,280.71 L432.1,280.71 L432.9,280.72 L433.7,280.73 L434.5,280.74 L435.3,280.74 L436.1,280.75 L436.9,280.76 L437.7,280.76 L438.5,280.77 L439.3,280.78 L440.1,280.78 L440.9,280.79 L441.7,280.8 L442.5,280.81 L443.3,280.81 L444.1,280.82 L444.9,280.83 L445.7,280.83 L446.5,280.84 L447.3,280.85 L448.1,280.85 L448.9,280.86 L449.7,280.87 L450.5,280.87 L451.3,280.88 L452.1,280.88 L452.9,280.89 L453.7,280.9 L454.5,280.9 L455.3,280.91 L456.1,280.92 L456.9,280.92 L457.7,280.93 L458.5,280.93 L459.3,280.94 L460.1,280.95 L460.9,280.95 L461.7,280.96 L462.5,280.96 L463.3,280.97 L464.1,280.98 L464.9,280.98 L465.7,280.99 L466.5,280.99 L467.3,281 L467.6,281" fill="none" stroke="#e74c3c" stroke-width="1.35" stroke-dasharray="5,2.16"/>
<path d="M34.5,270 L35.3,269.89 L36.1,269.78 L36.9,269.68 L37.7,269.57 L38.5,269.47 L39.3,269.37 L40.1,269.28 L40.9,269.2 L41.7,269.12 L42.5,269.05 L43.3,269 L44.1,268.95 L44.9,268.91 L45.7,268.88 L46.5,268.86 L47.3,268.84 L48.1,268.83 L48.9,268.81 L49.7,268.8 L50.5,268.79 L51.3,268.78 L52.1,268.77 L52.9,268.76 L53.7,268.76 L54.5,268.75 L55.3,268.74 L56.1,268.73 L56.9,268.72 L57.7,268.71 L58.5,268.69 L59.3,268.68 L60.1,268.66 L60.9,268.64 L61.7,268.61 L62.5,268.57 L63.3,268.5 L64.1,268.4 L64.9,268.27 L65.7,268.11 L66.5,267.93 L67.3,267.74 L68.1,267.54 L68.9,267.34 L69.7,267.13 L70.5,266.93 L71.3,266.74 L72.1,266.56 L72.9,266.4 L73.7,266.24 L74.5,266.08 L75.3,265.93 L76.1,265.77 L76.9,265.62 L77.7,265.46 L78.5,265.3 L79.3,265.14 L80.1,264.98 L80.9,264.81 L81.7,264.64 L82.5,264.47 L83.3,264.29 L84.1,264.1 L84.9,263.9 L85.7,263.7 L86.5,263.49 L87.3,263.29 L88.1,263.07 L88.9,262.86 L89.7,262.66 L90.5,262.45 L91.3,262.25 L92.1,262.06 L92.9,261.87 L93.7,261.68 L94.5,261.48 L95.3,261.27 L96.1,261.05 L96.9,260.83 L97.7,260.63 L98.5,260.44 L99.3,260.28 L100.1,260.14 L100.9,260.05 L101.7,260 L102.5,260.01 L103.3,260.08 L104.1,260.19 L104.9,260.32 L105.7,260.46 L106.5,260.6 L107.3,260.71 L108.1,260.78 L108.9,260.79 L109.7,260.67 L110.5,260.4 L111.3,260.02 L112.1,259.53 L112.9,258.97 L113.7,258.36 L114.5,257.72 L115.3,257.08 L116.1,256.39 L116.9,255.58 L117.7,254.66 L118.5,253.63 L119.3,252.52 L120.1,251.33 L120.9,250.08 L121.7,248.61 L122.5,246.96 L123.3,245.22 L124.1,243.46 L124.9,241.63 L125.7,239.68 L126.5,237.56 L127.3,235.08 L128.1,232.09 L128.9,229.07 L129.7,226.51 L130.5,224.49 L131.3,222.61 L132.1,221.55 L132.9,221.64 L133.7,222.18 L134.5,222.99 L135.3,223.94 L136.1,224.88 L136.9,225.74 L137.7,226.67 L138.5,227.65 L139.3,228.65 L140.1,229.63 L140.9,230.56 L141.7,231.46 L142.5,232.35 L143.3,233.22 L144.1,234.09 L144.9,234.95 L145.7,235.81 L146.5,236.67 L147.3,237.53 L148.1,238.39 L148.9,239.28 L149.7,240.23 L150.5,241.2 L151.3,242.17 L152.1,243.1 L152.9,243.98 L153.7,244.77 L154.5,245.45 L155.3,245.99 L156.1,246.47 L156.9,246.9 L157.7,247.31 L158.5,247.68 L159.3,248.03 L160.1,248.35 L160.9,248.66 L161.7,248.96 L162.5,249.25 L163.3,249.54 L164.1,249.82 L164.9,250.08 L165.7,250.34 L166.5,250.59 L167.3,250.83 L168.1,251.06 L168.9,251.29 L169.7,251.51 L170.5,251.73 L171.3,251.94 L172.1,252.16 L172.9,252.37 L173.7,252.58 L174.5,252.79 L175.3,253 L176.1,253.22 L176.9,253.44 L177.7,253.67 L178.5,253.9 L179.3,254.14 L180.1,254.38 L180.9,254.62 L181.7,254.87 L182.5,255.12 L183.3,255.37 L184.1,255.63 L184.9,255.88 L185.7,256.14 L186.5,256.39 L187.3,256.65 L188.1,256.91 L188.9,257.17 L189.7,257.42 L190.5,257.68 L191.3,257.93 L192.1,258.18 L192.9,258.43 L193.7,258.68 L194.5,258.92 L195.3,259.17 L196.1,259.4 L196.9,259.64 L197.7,259.86 L198.5,260.09 L199.3,260.31 L200.1,260.52 L200.9,260.73 L201.7,260.93 L202.5,261.12 L203.3,261.32 L204.1,261.51 L204.9,261.7 L205.7,261.89 L206.5,262.07 L207.3,262.26 L208.1,262.44 L208.9,262.63 L209.7,262.81 L210.5,262.98 L211.3,263.16 L212.1,263.33 L212.9,263.5 L213.7,263.67 L214.5,263.83 L215.3,264 L216.1,264.16 L216.9,264.31 L217.7,264.46 L218.5,264.61 L219.3,264.76 L220.1,264.9 L220.9,265.04 L221.7,265.18 L222.5,265.31 L223.3,265.44 L224.1,265.56 L224.9,265.69 L225.7,265.8 L226.5,265.92 L227.3,266.03 L228.1,266.15 L228.9,266.26 L229.7,266.38 L230.5,266.49 L231.3,266.6 L232.1,266.71 L232.9,266.81 L233.7,266.92 L234.5,267.03 L235.3,267.13 L236.1,267.23 L236.9,267.34 L237.7,267.44 L238.5,267.54 L239.3,267.63 L240.1,267.73 L240.9,267.83 L241.7,267.92 L242.5,268.01 L243.3,268.1 L244.1,268.19 L244.9,268.28 L245.7,268.36 L246.5,268.45 L247.3,268.53 L248.1,268.61 L248.9,268.69 L249.7,268.77 L250.5,268.84 L251.3,268.92 L252.1,268.99 L252.9,269.06 L253.7,269.13 L254.5,269.2 L255.3,269.26 L256.1,269.32 L256.9,269.38 L257.7,269.44 L258.5,269.5 L259.3,269.55 L260.1,269.61 L260.9,269.66 L261.7,269.71 L262.5,269.76 L263.3,269.81 L264.1,269.85 L264.9,269.9 L265.7,269.95 L266.5,269.99 L267.3,270.04 L268.1,270.08 L268.9,270.13 L269.7,270.17 L270.5,270.21 L271.3,270.26 L272.1,270.3 L272.9,270.34 L273.7,270.38 L274.5,270.42 L275.3,270.45 L276.1,270.49 L276.9,270.53 L277.7,270.57 L278.5,270.6 L279.3,270.64 L280.1,270.67 L280.9,270.71 L281.7,270.74 L282.5,270.77 L283.3,270.81 L284.1,270.84 L284.9,270.87 L285.7,270.9 L286.5,270.93 L287.3,270.97 L288.1,271 L288.9,271.03 L289.7,271.05 L290.5,271.08 L291.3,271.11 L292.1,271.14 L292.9,271.17 L293.7,271.2 L294.5,271.22 L295.3,271.25 L296.1,271.28 L296.9,271.3 L297.7,271.33 L298.5,271.35 L299.3,271.38 L300.1,271.4 L300.9,271.43 L301.7,271.45 L302.5,271.48 L303.3,271.5 L304.1,271.53 L304.9,271.56 L305.7,271.58 L306.5,271.61 L307.3,271.63 L308.1,271.66 L308.9,271.69 L309.7,271.71 L310.5,271.74 L311.3,271.76 L312.1,271.79 L312.9,271.81 L313.7,271.84 L314.5,271.86 L315.3,271.89 L316.1,271.91 L316.9,271.94 L317.7,271.96 L318.5,271.99 L319.3,272.01 L320.1,272.04 L320.9,272.06 L321.7,272.08 L322.5,272.1 L323.3,272.13 L324.1,272.15 L324.9,272.17 L325.7,272.19 L326.5,272.21 L327.3,272.23 L328.1,272.25 L328.9,272.27 L329.7,272.29 L330.5,272.31 L331.3,272.32 L332.1,272.34 L332.9,272.35 L333.7,272.37 L334.5,272.38 L335.3,272.4 L336.1,272.41 L336.9,272.42 L337.7,272.43 L338.5,272.44 L339.3,272.45 L340.1,272.46 L340.9,272.47 L341.7,272.48 L342.5,272.48 L343.3,272.49 L344.1,272.49 L344.9,272.5 L345.7,272.5 L346.5,272.5 L347.3,272.49 L348.1,272.43 L348.9,272.31 L349.7,272.13 L350.5,271.9 L351.3,271.62 L352.1,271.32 L352.9,270.98 L353.7,270.63 L354.5,270.26 L355.3,269.89 L356.1,269.52 L356.9,269.16 L357.7,268.82 L358.5,268.5 L359.3,268.22 L360.1,267.97 L360.9,267.73 L361.7,267.47 L362.5,267.2 L363.3,266.94 L364.1,266.67 L364.9,266.42 L365.7,266.19 L366.5,265.97 L367.3,265.79 L368.1,265.65 L368.9,265.55 L369.7,265.5 L370.5,265.5 L371.3,265.51 L372.1,265.52 L372.9,265.53 L373.7,265.55 L374.5,265.57 L375.3,265.6 L376.1,265.63 L376.9,265.67 L377.7,265.71 L378.5,265.75 L379.3,265.8 L380.1,265.85 L380.9,265.91 L381.7,265.96 L382.5,266.02 L383.3,266.09 L384.1,266.15 L384.9,266.22 L385.7,266.29 L386.5,266.37 L387.3,266.44 L388.1,266.52 L388.9,266.6 L389.7,266.68 L390.5,266.77 L391.3,266.85 L392.1,266.94 L392.9,267.03 L393.7,267.12 L394.5,267.21 L395.3,267.3 L396.1,267.4 L396.9,267.49 L397.7,267.59 L398.5,267.68 L399.3,267.78 L400.1,267.87 L400.9,267.97 L401.7,268.07 L402.5,268.16 L403.3,268.26 L404.1,268.36 L404.9,268.45 L405.7,268.55 L406.5,268.64 L407.3,268.73 L408.1,268.83 L408.9,268.92 L409.7,269.01 L410.5,269.1 L411.3,269.18 L412.1,269.27 L412.9,269.35 L413.7,269.43 L414.5,269.51 L415.3,269.59 L416.1,269.67 L416.9,269.74 L417.7,269.81 L418.5,269.88 L419.3,269.95 L420.1,270.01 L420.9,270.07 L421.7,270.13 L422.5,270.19 L423.3,270.25 L424.1,270.31 L424.9,270.37 L425.7,270.43 L426.5,270.49 L427.3,270.55 L428.1,270.61 L428.9,270.67 L429.7,270.73 L430.5,270.79 L431.3,270.85 L432.1,270.9 L432.9,270.96 L433.7,271.02 L434.5,271.08 L435.3,271.13 L436.1,271.19 L436.9,271.25 L437.7,271.3 L438.5,271.36 L439.3,271.41 L440.1,271.47 L440.9,271.53 L441.7,271.58 L442.5,271.64 L443.3,271.69 L444.1,271.74 L444.9,271.8 L445.7,271.85 L446.5,271.9 L447.3,271.96 L448.1,272.01 L448.9,272.06 L449.7,272.11 L450.5,272.17 L451.3,272.22 L452.1,272.27 L452.9,272.32 L453.7,272.37 L454.5,272.42 L455.3,272.47 L456.1,272.52 L456.9,272.57 L457.7,272.62 L458.5,272.67 L459.3,272.72 L460.1,272.76 L460.9,272.81 L461.7,272.86 L462.5,272.91 L463.3,272.95 L464.1,273 L464.9,273.05 L465.7,273.09 L466.5,273.14 L467.3,273.18 L467.6,273.2" fill="none" stroke="#b03a2e" stroke-width="1.35" stroke-dasharray="1.35,2.23"/>
<path d="M34.5,268 L35.3,267.79 L36.1,267.57 L36.9,267.36 L37.7,267.15 L38.5,266.95 L39.3,266.76 L40.1,266.58 L40.9,266.42 L41.7,266.28 L42.5,266.17 L43.3,266.08 L44.1,266.02 L44.9,266 L45.7,266 L46.5,266 L47.3,266 L48.1,266 L48.9,266 L49.7,266 L50.5,266 L51.3,266 L52.1,266 L52.9,266 L53.7,266 L54.5,266 L55.3,266 L56.1,266 L56.9,266 L57.7,266 L58.5,266 L59.3,266 L60.1,266 L60.9,266 L61.7,266 L62.5,265.97 L63.3,265.78 L64.1,265.46 L64.9,265.02 L65.7,264.47 L66.5,263.85 L67.3,263.17 L68.1,262.45 L68.9,261.71 L69.7,260.98 L70.5,260.27 L71.3,259.61 L72.1,259.01 L72.9,258.51 L73.7,258.1 L74.5,257.83 L75.3,257.71 L76.1,257.71 L76.9,257.75 L77.7,257.81 L78.5,257.88 L79.3,257.97 L80.1,258.05 L80.9,258.12 L81.7,258.17 L82.5,258.2 L83.3,258.19 L84.1,258.13 L84.9,258.03 L85.7,257.89 L86.5,257.71 L87.3,257.51 L88.1,257.28 L88.9,257.03 L89.7,256.77 L90.5,256.5 L91.3,256.23 L92.1,255.96 L92.9,255.7 L93.7,255.42 L94.5,255.04 L95.3,254.62 L96.1,254.21 L96.9,253.89 L97.7,253.72 L98.5,253.7 L99.3,253.7 L100.1,253.7 L100.9,253.7 L101.7,253.7 L102.5,253.7 L103.3,253.7 L104.1,253.7 L104.9,253.7 L105.7,253.7 L106.5,253.7 L107.3,253.7 L108.1,253.7 L108.9,253.69 L109.7,253.58 L110.5,253.35 L111.3,253.04 L112.1,252.68 L112.9,252.3 L113.7,251.83 L114.5,251.23 L115.3,250.5 L116.1,249.58 L116.9,248.4 L117.7,246.98 L118.5,245.26 L119.3,243.02 L120.1,240.73 L120.9,238.62 L121.7,236.47 L122.5,234 L123.3,231.02 L124.1,227.59 L124.9,223.87 L125.7,219.99 L126.5,215.67 L127.3,210.93 L128.1,206.9 L128.9,203.85 L129.7,201.17 L130.5,199.36 L131.3,198.48 L132.1,197.84 L132.9,197.51 L133.7,197.79 L134.5,198.85 L135.3,200.27 L136.1,201.8 L136.9,203.84 L137.7,206.11 L138.5,208.22 L139.3,209.95 L140.1,211.55 L140.9,213.05 L141.7,214.44 L142.5,215.71 L143.3,216.86 L144.1,217.92 L144.9,218.91 L145.7,219.83 L146.5,220.69 L147.3,221.51 L148.1,222.28 L148.9,223 L149.7,223.67 L150.5,224.31 L151.3,224.91 L152.1,225.51 L152.9,226.1 L153.7,226.7 L154.5,227.32 L155.3,227.98 L156.1,228.68 L156.9,229.41 L157.7,230.16 L158.5,230.92 L159.3,231.71 L160.1,232.53 L160.9,233.37 L161.7,234.23 L162.5,235.13 L163.3,236.15 L164.1,237.24 L164.9,238.29 L165.7,239.2 L166.5,239.96 L167.3,240.69 L168.1,241.38 L168.9,242.03 L169.7,242.66 L170.5,243.27 L171.3,243.85 L172.1,244.41 L172.9,244.95 L173.7,245.48 L174.5,246 L175.3,246.51 L176.1,247.01 L176.9,247.5 L177.7,248 L178.5,248.5 L179.3,249 L180.1,249.5 L180.9,249.99 L181.7,250.48 L182.5,250.96 L183.3,251.43 L184.1,251.9 L184.9,252.36 L185.7,252.8 L186.5,253.24 L187.3,253.66 L188.1,254.07 L188.9,254.46 L189.7,254.84 L190.5,255.2 L191.3,255.54 L192.1,255.87 L192.9,256.19 L193.7,256.51 L194.5,256.81 L195.3,257.11 L196.1,257.4 L196.9,257.67 L197.7,257.94 L198.5,258.2 L199.3,258.44 L200.1,258.68 L200.9,258.91 L201.7,259.12 L202.5,259.33 L203.3,259.53 L204.1,259.72 L204.9,259.92 L205.7,260.1 L206.5,260.29 L207.3,260.47 L208.1,260.64 L208.9,260.81 L209.7,260.98 L210.5,261.14 L211.3,261.3 L212.1,261.46 L212.9,261.62 L213.7,261.77 L214.5,261.92 L215.3,262.07 L216.1,262.21 L216.9,262.35 L217.7,262.49 L218.5,262.63 L219.3,262.77 L220.1,262.9 L220.9,263.04 L221.7,263.17 L222.5,263.3 L223.3,263.43 L224.1,263.56 L224.9,263.68 L225.7,263.81 L226.5,263.94 L227.3,264.06 L228.1,264.19 L228.9,264.31 L229.7,264.44 L230.5,264.56 L231.3,264.69 L232.1,264.81 L232.9,264.93 L233.7,265.05 L234.5,265.17 L235.3,265.29 L236.1,265.4 L236.9,265.52 L237.7,265.64 L238.5,265.75 L239.3,265.86 L240.1,265.98 L240.9,266.09 L241.7,266.2 L242.5,266.3 L243.3,266.41 L244.1,266.52 L244.9,266.62 L245.7,266.73 L246.5,266.83 L247.3,266.93 L248.1,267.03 L248.9,267.12 L249.7,267.22 L250.5,267.31 L251.3,267.41 L252.1,267.5 L252.9,267.59 L253.7,267.67 L254.5,267.76 L255.3,267.84 L256.1,267.93 L256.9,268.01 L257.7,268.09 L258.5,268.16 L259.3,268.24 L260.1,268.31 L260.9,268.38 L261.7,268.45 L262.5,268.52 L263.3,268.59 L264.1,268.66 L264.9,268.73 L265.7,268.8 L266.5,268.87 L267.3,268.93 L268.1,269 L268.9,269.06 L269.7,269.13 L270.5,269.19 L271.3,269.26 L272.1,269.32 L272.9,269.38 L273.7,269.44 L274.5,269.5 L275.3,269.56 L276.1,269.62 L276.9,269.68 L277.7,269.74 L278.5,269.8 L279.3,269.85 L280.1,269.91 L280.9,269.96 L281.7,270.02 L282.5,270.07 L283.3,270.12 L284.1,270.17 L284.9,270.22 L285.7,270.27 L286.5,270.32 L287.3,270.37 L288.1,270.42 L288.9,270.46 L289.7,270.51 L290.5,270.55 L291.3,270.59 L292.1,270.64 L292.9,270.68 L293.7,270.72 L294.5,270.76 L295.3,270.8 L296.1,270.83 L296.9,270.87 L297.7,270.9 L298.5,270.94 L299.3,270.97 L300.1,271 L300.9,271.04 L301.7,271.07 L302.5,271.1 L303.3,271.13 L304.1,271.16 L304.9,271.2 L305.7,271.23 L306.5,271.26 L307.3,271.29 L308.1,271.32 L308.9,271.35 L309.7,271.39 L310.5,271.42 L311.3,271.45 L312.1,271.48 L312.9,271.51 L313.7,271.54 L314.5,271.57 L315.3,271.6 L316.1,271.63 L316.9,271.66 L317.7,271.69 L318.5,271.72 L319.3,271.74 L320.1,271.77 L320.9,271.8 L321.7,271.83 L322.5,271.85 L323.3,271.88 L324.1,271.9 L324.9,271.93 L325.7,271.95 L326.5,271.97 L327.3,272 L328.1,272.02 L328.9,272.04 L329.7,272.06 L330.5,272.08 L331.3,272.1 L332.1,272.12 L332.9,272.14 L333.7,272.15 L334.5,272.17 L335.3,272.19 L336.1,272.2 L336.9,272.21 L337.7,272.23 L338.5,272.24 L339.3,272.25 L340.1,272.26 L340.9,272.27 L341.7,272.28 L342.5,272.28 L343.3,272.29 L344.1,272.29 L344.9,272.3 L345.7,272.3 L346.5,272.3 L347.3,272.29 L348.1,272.23 L348.9,272.09 L349.7,271.9 L350.5,271.65 L351.3,271.35 L352.1,271.02 L352.9,270.66 L353.7,270.28 L354.5,269.89 L355.3,269.5 L356.1,269.1 L356.9,268.72 L357.7,268.36 L358.5,268.02 L359.3,267.73 L360.1,267.47 L360.9,267.22 L361.7,266.96 L362.5,266.69 L363.3,266.42 L364.1,266.16 L364.9,265.91 L365.7,265.68 L366.5,265.47 L367.3,265.29 L368.1,265.15 L368.9,265.05 L369.7,265 L370.5,265 L371.3,265.01 L372.1,265.02 L372.9,265.04 L373.7,265.06 L374.5,265.09 L375.3,265.12 L376.1,265.15 L376.9,265.2 L377.7,265.24 L378.5,265.29 L379.3,265.35 L380.1,265.4 L380.9,265.47 L381.7,265.53 L382.5,265.6 L383.3,265.67 L384.1,265.75 L384.9,265.83 L385.7,265.91 L386.5,265.99 L387.3,266.08 L388.1,266.17 L388.9,266.26 L389.7,266.35 L390.5,266.45 L391.3,266.55 L392.1,266.65 L392.9,266.75 L393.7,266.85 L394.5,266.95 L395.3,267.06 L396.1,267.16 L396.9,267.27 L397.7,267.38 L398.5,267.48 L399.3,267.59 L400.1,267.7 L400.9,267.81 L401.7,267.91 L402.5,268.02 L403.3,268.13 L404.1,268.23 L404.9,268.34 L405.7,268.44 L406.5,268.55 L407.3,268.65 L408.1,268.75 L408.9,268.85 L409.7,268.95 L410.5,269.05 L411.3,269.14 L412.1,269.23 L412.9,269.32 L413.7,269.41 L414.5,269.5 L415.3,269.58 L416.1,269.66 L416.9,269.73 L417.7,269.81 L418.5,269.88 L419.3,269.94 L420.1,270.01 L420.9,270.07 L421.7,270.13 L422.5,270.19 L423.3,270.25 L424.1,270.31 L424.9,270.37 L425.7,270.43 L426.5,270.49 L427.3,270.55 L428.1,270.61 L428.9,270.67 L429.7,270.73 L430.5,270.78 L431.3,270.84 L432.1,270.9 L432.9,270.96 L433.7,271.01 L434.5,271.07 L435.3,271.12 L436.1,271.18 L436.9,271.23 L437.7,271.29 L438.5,271.34 L439.3,271.4 L440.1,271.45 L440.9,271.5 L441.7,271.56 L442.5,271.61 L443.3,271.66 L444.1,271.71 L444.9,271.76 L445.7,271.81 L446.5,271.86 L447.3,271.91 L448.1,271.96 L448.9,272.01 L449.7,272.06 L450.5,272.1 L451.3,272.15 L452.1,272.2 L452.9,272.24 L453.7,272.29 L454.5,272.34 L455.3,272.38 L456.1,272.42 L456.9,272.47 L457.7,272.51 L458.5,272.55 L459.3,272.6 L460.1,272.64 L460.9,272.68 L461.7,272.72 L462.5,272.76 L463.3,272.8 L464.1,272.84 L464.9,272.88 L465.7,272.91 L466.5,272.95 L467.3,272.99 L467.6,273" fill="none" stroke="#7b241c" stroke-width="1.35" stroke-dasharray="8.64,2.16,1.35,2.16"/>
<path d="M34.5,281.3 L35.3,281.3 L36.1,281.3 L36.9,281.3 L37.7,281.3 L38.5,281.3 L39.3,281.29 L40.1,281.29 L40.9,281.29 L41.7,281.28 L42.5,281.28 L43.3,281.28 L44.1,281.27 L44.9,281.27 L45.7,281.26 L46.5,281.26 L47.3,281.25 L48.1,281.25 L48.9,281.24 L49.7,281.23 L50.5,281.23 L51.3,281.22 L52.1,281.21 L52.9,281.2 L53.7,281.19 L54.5,281.19 L55.3,281.18 L56.1,281.17 L56.9,281.16 L57.7,281.15 L58.5,281.14 L59.3,281.13 L60.1,281.12 L60.9,281.11 L61.7,281.09 L62.5,281.08 L63.3,281.07 L64.1,281.06 L64.9,281.05 L65.7,281.03 L66.5,281.02 L67.3,281.01 L68.1,280.99 L68.9,280.98 L69.7,280.97 L70.5,280.95 L71.3,280.94 L72.1,280.92 L72.9,280.91 L73.7,280.89 L74.5,280.88 L75.3,280.86 L76.1,280.84 L76.9,280.83 L77.7,280.81 L78.5,280.79 L79.3,280.78 L80.1,280.76 L80.9,280.74 L81.7,280.72 L82.5,280.71 L83.3,280.69 L84.1,280.67 L84.9,280.65 L85.7,280.63 L86.5,280.61 L87.3,280.59 L88.1,280.57 L88.9,280.55 L89.7,280.54 L90.5,280.52 L91.3,280.5 L92.1,280.47 L92.9,280.45 L93.7,280.43 L94.5,280.41 L95.3,280.39 L96.1,280.37 L96.9,280.34 L97.7,280.32 L98.5,280.29 L99.3,280.25 L100.1,280.22 L100.9,280.18 L101.7,280.14 L102.5,280.1 L103.3,280.06 L104.1,280.01 L104.9,279.97 L105.7,279.91 L106.5,279.86 L107.3,279.81 L108.1,279.75 L108.9,279.69 L109.7,279.62 L110.5,279.56 L111.3,279.48 L112.1,279.39 L112.9,279.28 L113.7,279.17 L114.5,279.05 L115.3,278.93 L116.1,278.79 L116.9,278.65 L117.7,278.51 L118.5,278.36 L119.3,278.2 L120.1,278.03 L120.9,277.85 L121.7,277.65 L122.5,277.44 L123.3,277.21 L124.1,276.97 L124.9,276.66 L125.7,276.29 L126.5,275.92 L127.3,275.58 L128.1,275.34 L128.9,275.2 L129.7,275.07 L130.5,274.95 L131.3,274.84 L132.1,274.75 L132.9,274.68 L133.7,274.63 L134.5,274.6 L135.3,274.6 L136.1,274.62 L136.9,274.65 L137.7,274.69 L138.5,274.75 L139.3,274.81 L140.1,274.88 L140.9,274.95 L141.7,275.03 L142.5,275.1 L143.3,275.17 L144.1,275.24 L144.9,275.3 L145.7,275.36 L146.5,275.42 L147.3,275.47 L148.1,275.53 L148.9,275.59 L149.7,275.65 L150.5,275.71 L151.3,275.77 L152.1,275.84 L152.9,275.9 L153.7,275.96 L154.5,276.02 L155.3,276.08 L156.1,276.13 L156.9,276.19 L157.7,276.25 L158.5,276.31 L159.3,276.36 L160.1,276.42 L160.9,276.47 L161.7,276.52 L162.5,276.57 L163.3,276.62 L164.1,276.67 L164.9,276.71 L165.7,276.76 L166.5,276.81 L167.3,276.85 L168.1,276.9 L168.9,276.94 L169.7,276.99 L170.5,277.03 L171.3,277.07 L172.1,277.12 L172.9,277.16 L173.7,277.2 L174.5,277.23 L175.3,277.27 L176.1,277.3 L176.9,277.34 L177.7,277.37 L178.5,277.4 L179.3,277.43 L180.1,277.46 L180.9,277.49 L181.7,277.51 L182.5,277.54 L183.3,277.57 L184.1,277.59 L184.9,277.62 L185.7,277.65 L186.5,277.67 L187.3,277.7 L188.1,277.72 L188.9,277.74 L189.7,277.77 L190.5,277.79 L191.3,277.82 L192.1,277.84 L192.9,277.86 L193.7,277.88 L194.5,277.91 L195.3,277.93 L196.1,277.95 L196.9,277.97 L197.7,277.99 L198.5,278.01 L199.3,278.03 L200.1,278.05 L200.9,278.07 L201.7,278.09 L202.5,278.11 L203.3,278.13 L204.1,278.15 L204.9,278.17 L205.7,278.19 L206.5,278.21 L207.3,278.22 L208.1,278.24 L208.9,278.26 L209.7,278.28 L210.5,278.3 L211.3,278.31 L212.1,278.33 L212.9,278.35 L213.7,278.37 L214.5,278.38 L215.3,278.4 L216.1,278.42 L216.9,278.43 L217.7,278.45 L218.5,278.47 L219.3,278.48 L220.1,278.5 L220.9,278.52 L221.7,278.53 L222.5,278.55 L223.3,278.57 L224.1,278.58 L224.9,278.6 L225.7,278.61 L226.5,278.63 L227.3,278.65 L228.1,278.66 L228.9,278.68 L229.7,278.69 L230.5,278.71 L231.3,278.73 L232.1,278.74 L232.9,278.76 L233.7,278.77 L234.5,278.79 L235.3,278.8 L236.1,278.82 L236.9,278.83 L237.7,278.85 L238.5,278.86 L239.3,278.88 L240.1,278.89 L240.9,278.91 L241.7,278.92 L242.5,278.93 L243.3,278.95 L244.1,278.96 L244.9,278.97 L245.7,278.99 L246.5,279 L247.3,279.01 L248.1,279.03 L248.9,279.04 L249.7,279.05 L250.5,279.07 L251.3,279.08 L252.1,279.09 L252.9,279.1 L253.7,279.11 L254.5,279.13 L255.3,279.14 L256.1,279.15 L256.9,279.16 L257.7,279.17 L258.5,279.18 L259.3,279.19 L260.1,279.2 L260.9,279.21 L261.7,279.22 L262.5,279.23 L263.3,279.24 L264.1,279.25 L264.9,279.26 L265.7,279.27 L266.5,279.28 L267.3,279.29 L268.1,279.3 L268.9,279.31 L269.7,279.32 L270.5,279.33 L271.3,279.34 L272.1,279.35 L272.9,279.36 L273.7,279.37 L274.5,279.38 L275.3,279.39 L276.1,279.4 L276.9,279.41 L277.7,279.42 L278.5,279.43 L279.3,279.44 L280.1,279.45 L280.9,279.46 L281.7,279.47 L282.5,279.48 L283.3,279.48 L284.1,279.49 L284.9,279.5 L285.7,279.51 L286.5,279.51 L287.3,279.52 L288.1,279.53 L288.9,279.54 L289.7,279.54 L290.5,279.55 L291.3,279.55 L292.1,279.56 L292.9,279.57 L293.7,279.57 L294.5,279.58 L295.3,279.58 L296.1,279.58 L296.9,279.59 L297.7,279.59 L298.5,279.59 L299.3,279.6 L300.1,279.6 L300.9,279.6 L301.7,279.6 L302.5,279.61 L303.3,279.61 L304.1,279.61 L304.9,279.61 L305.7,279.62 L306.5,279.62 L307.3,279.62 L308.1,279.62 L308.9,279.62 L309.7,279.62 L310.5,279.63 L311.3,279.63 L312.1,279.63 L312.9,279.63 L313.7,279.63 L314.5,279.63 L315.3,279.64 L316.1,279.64 L316.9,279.64 L317.7,279.64 L318.5,279.64 L319.3,279.64 L320.1,279.64 L320.9,279.64 L321.7,279.65 L322.5,279.65 L323.3,279.65 L324.1,279.65 L324.9,279.65 L325.7,279.65 L326.5,279.65 L327.3,279.65 L328.1,279.65 L328.9,279.65 L329.7,279.66 L330.5,279.66 L331.3,279.66 L332.1,279.66 L332.9,279.66 L333.7,279.66 L334.5,279.66 L335.3,279.66 L336.1,279.66 L336.9,279.66 L337.7,279.66 L338.5,279.67 L339.3,279.67 L340.1,279.67 L340.9,279.67 L341.7,279.67 L342.5,279.67 L343.3,279.67 L344.1,279.67 L344.9,279.67 L345.7,279.68 L346.5,279.68 L347.3,279.68 L348.1,279.68 L348.9,279.68 L349.7,279.68 L350.5,279.68 L351.3,279.68 L352.1,279.68 L352.9,279.69 L353.7,279.69 L354.5,279.69 L355.3,279.69 L356.1,279.69 L356.9,279.69 L357.7,279.7 L358.5,279.7 L359.3,279.7 L360.1,279.7 L360.9,279.7 L361.7,279.7 L362.5,279.71 L363.3,279.71 L364.1,279.71 L364.9,279.71 L365.7,279.71 L366.5,279.72 L367.3,279.72 L368.1,279.72 L368.9,279.72 L369.7,279.72 L370.5,279.73 L371.3,279.73 L372.1,279.73 L372.9,279.73 L373.7,279.74 L374.5,279.74 L375.3,279.74 L376.1,279.74 L376.9,279.75 L377.7,279.75 L378.5,279.75 L379.3,279.75 L380.1,279.76 L380.9,279.76 L381.7,279.76 L382.5,279.76 L383.3,279.77 L384.1,279.77 L384.9,279.77 L385.7,279.77 L386.5,279.78 L387.3,279.78 L388.1,279.78 L388.9,279.78 L389.7,279.79 L390.5,279.79 L391.3,279.79 L392.1,279.8 L392.9,279.8 L393.7,279.8 L394.5,279.8 L395.3,279.81 L396.1,279.81 L396.9,279.81 L397.7,279.82 L398.5,279.82 L399.3,279.82 L400.1,279.83 L400.9,279.83 L401.7,279.83 L402.5,279.83 L403.3,279.84 L404.1,279.84 L404.9,279.84 L405.7,279.85 L406.5,279.85 L407.3,279.85 L408.1,279.86 L408.9,279.86 L409.7,279.86 L410.5,279.86 L411.3,279.87 L412.1,279.87 L412.9,279.87 L413.7,279.88 L414.5,279.88 L415.3,279.88 L416.1,279.89 L416.9,279.89 L417.7,279.89 L418.5,279.89 L419.3,279.9 L420.1,279.9 L420.9,279.9 L421.7,279.91 L422.5,279.91 L423.3,279.91 L424.1,279.92 L424.9,279.92 L425.7,279.92 L426.5,279.92 L427.3,279.93 L428.1,279.93 L428.9,279.93 L429.7,279.94 L430.5,279.94 L431.3,279.94 L432.1,279.95 L432.9,279.95 L433.7,279.95 L434.5,279.96 L435.3,279.96 L436.1,279.96 L436.9,279.97 L437.7,279.97 L438.5,279.97 L439.3,279.98 L440.1,279.98 L440.9,279.98 L441.7,279.99 L442.5,279.99 L443.3,279.99 L444.1,280 L444.9,280 L445.7,280 L446.5,280.01 L447.3,280.01 L448.1,280.01 L448.9,280.02 L449.7,280.02 L450.5,280.02 L451.3,280.03 L452.1,280.03 L452.9,280.03 L453.7,280.04 L454.5,280.04 L455.3,280.04 L456.1,280.05 L456.9,280.05 L457.7,280.06 L458.5,280.06 L459.3,280.06 L460.1,280.07 L460.9,280.07 L461.7,280.07 L462.5,280.08 L463.3,280.08 L464.1,280.08 L464.9,280.09 L465.7,280.09 L466.5,280.09 L467.3,280.1 L467.6,280.1" fill="none" stroke="#2ecc71" stroke-width="1.35" stroke-dasharray="5,2.16"/>
<path d="M34.5,269.1 L35.3,268.9 L36.1,268.71 L36.9,268.53 L37.7,268.36 L38.5,268.2 L39.3,268.05 L40.1,267.92 L40.9,267.8 L41.7,267.7 L42.5,267.62 L43.3,267.55 L44.1,267.52 L44.9,267.5 L45.7,267.51 L46.5,267.53 L47.3,267.56 L48.1,267.6 L48.9,267.64 L49.7,267.7 L50.5,267.75 L51.3,267.8 L52.1,267.86 L52.9,267.9 L53.7,267.94 L54.5,267.97 L55.3,267.99 L56.1,268 L56.9,267.92 L57.7,267.72 L58.5,267.42 L59.3,267.03 L60.1,266.57 L60.9,266.05 L61.7,265.49 L62.5,264.91 L63.3,264.31 L64.1,263.72 L64.9,263.15 L65.7,262.61 L66.5,262.11 L67.3,261.49 L68.1,260.81 L68.9,260.21 L69.7,259.81 L70.5,259.7 L71.3,259.78 L72.1,259.92 L72.9,260.1 L73.7,260.28 L74.5,260.42 L75.3,260.5 L76.1,260.45 L76.9,260.23 L77.7,259.88 L78.5,259.42 L79.3,258.9 L80.1,258.33 L80.9,257.77 L81.7,257.23 L82.5,256.76 L83.3,256.35 L84.1,255.91 L84.9,255.46 L85.7,254.99 L86.5,254.5 L87.3,254.02 L88.1,253.55 L88.9,253.09 L89.7,252.66 L90.5,252.26 L91.3,251.9 L92.1,251.59 L92.9,251.34 L93.7,251.15 L94.5,251.03 L95.3,251 L96.1,251.16 L96.9,251.48 L97.7,251.86 L98.5,252.27 L99.3,252.82 L100.1,253.48 L100.9,254.15 L101.7,254.76 L102.5,255.24 L103.3,255.5 L104.1,255.62 L104.9,255.73 L105.7,255.83 L106.5,255.91 L107.3,255.96 L108.1,255.99 L108.9,256 L109.7,255.92 L110.5,255.75 L111.3,255.51 L112.1,255.23 L112.9,254.92 L113.7,254.46 L114.5,253.84 L115.3,253.1 L116.1,252.17 L116.9,250.96 L117.7,249.56 L118.5,247.99 L119.3,246.15 L120.1,244.07 L120.9,241.81 L121.7,239.18 L122.5,236.38 L123.3,233.73 L124.1,231.11 L124.9,228.25 L125.7,225.06 L126.5,221.64 L127.3,217.69 L128.1,213.39 L128.9,210 L129.7,207.75 L130.5,205.86 L131.3,204.85 L132.1,205.15 L132.9,206.37 L133.7,207.93 L134.5,210.4 L135.3,213.15 L136.1,215.23 L136.9,217.06 L137.7,218.75 L138.5,220.33 L139.3,221.83 L140.1,223.28 L140.9,224.71 L141.7,226.12 L142.5,227.5 L143.3,228.83 L144.1,230.1 L144.9,231.29 L145.7,232.38 L146.5,233.36 L147.3,234.29 L148.1,235.19 L148.9,236.05 L149.7,236.87 L150.5,237.66 L151.3,238.41 L152.1,239.11 L152.9,239.77 L153.7,240.39 L154.5,240.96 L155.3,241.49 L156.1,242 L156.9,242.49 L157.7,242.96 L158.5,243.41 L159.3,243.85 L160.1,244.28 L160.9,244.69 L161.7,245.09 L162.5,245.48 L163.3,245.86 L164.1,246.22 L164.9,246.58 L165.7,246.93 L166.5,247.28 L167.3,247.61 L168.1,247.94 L168.9,248.27 L169.7,248.59 L170.5,248.91 L171.3,249.22 L172.1,249.54 L172.9,249.85 L173.7,250.16 L174.5,250.48 L175.3,250.8 L176.1,251.12 L176.9,251.44 L177.7,251.77 L178.5,252.1 L179.3,252.44 L180.1,252.78 L180.9,253.12 L181.7,253.47 L182.5,253.81 L183.3,254.16 L184.1,254.51 L184.9,254.85 L185.7,255.2 L186.5,255.54 L187.3,255.88 L188.1,256.22 L188.9,256.56 L189.7,256.89 L190.5,257.22 L191.3,257.55 L192.1,257.87 L192.9,258.18 L193.7,258.49 L194.5,258.79 L195.3,259.09 L196.1,259.37 L196.9,259.65 L197.7,259.92 L198.5,260.18 L199.3,260.43 L200.1,260.67 L200.9,260.9 L201.7,261.12 L202.5,261.33 L203.3,261.53 L204.1,261.73 L204.9,261.93 L205.7,262.12 L206.5,262.31 L207.3,262.5 L208.1,262.68 L208.9,262.86 L209.7,263.04 L210.5,263.21 L211.3,263.38 L212.1,263.54 L212.9,263.7 L213.7,263.86 L214.5,264.01 L215.3,264.17 L216.1,264.31 L216.9,264.46 L217.7,264.59 L218.5,264.73 L219.3,264.86 L220.1,264.99 L220.9,265.12 L221.7,265.24 L222.5,265.36 L223.3,265.47 L224.1,265.58 L224.9,265.69 L225.7,265.79 L226.5,265.89 L227.3,265.99 L228.1,266.09 L228.9,266.19 L229.7,266.29 L230.5,266.38 L231.3,266.48 L232.1,266.57 L232.9,266.66 L233.7,266.75 L234.5,266.84 L235.3,266.93 L236.1,267.01 L236.9,267.1 L237.7,267.18 L238.5,267.26 L239.3,267.34 L240.1,267.42 L240.9,267.5 L241.7,267.58 L242.5,267.65 L243.3,267.73 L244.1,267.8 L244.9,267.87 L245.7,267.94 L246.5,268.01 L247.3,268.08 L248.1,268.14 L248.9,268.21 L249.7,268.27 L250.5,268.34 L251.3,268.4 L252.1,268.46 L252.9,268.52 L253.7,268.58 L254.5,268.64 L255.3,268.69 L256.1,268.75 L256.9,268.8 L257.7,268.85 L258.5,268.91 L259.3,268.96 L260.1,269.01 L260.9,269.06 L261.7,269.1 L262.5,269.15 L263.3,269.2 L264.1,269.25 L264.9,269.29 L265.7,269.34 L266.5,269.38 L267.3,269.43 L268.1,269.47 L268.9,269.52 L269.7,269.56 L270.5,269.61 L271.3,269.65 L272.1,269.69 L272.9,269.73 L273.7,269.77 L274.5,269.82 L275.3,269.86 L276.1,269.9 L276.9,269.93 L277.7,269.97 L278.5,270.01 L279.3,270.05 L280.1,270.09 L280.9,270.12 L281.7,270.16 L282.5,270.19 L283.3,270.23 L284.1,270.26 L284.9,270.29 L285.7,270.33 L286.5,270.36 L287.3,270.39 L288.1,270.42 L288.9,270.45 L289.7,270.48 L290.5,270.51 L291.3,270.54 L292.1,270.57 L292.9,270.59 L293.7,270.62 L294.5,270.64 L295.3,270.67 L296.1,270.69 L296.9,270.72 L297.7,270.74 L298.5,270.76 L299.3,270.78 L300.1,270.8 L300.9,270.82 L301.7,270.84 L302.5,270.86 L303.3,270.88 L304.1,270.9 L304.9,270.92 L305.7,270.94 L306.5,270.96 L307.3,270.98 L308.1,271 L308.9,271.02 L309.7,271.04 L310.5,271.06 L311.3,271.08 L312.1,271.1 L312.9,271.12 L313.7,271.14 L314.5,271.16 L315.3,271.18 L316.1,271.19 L316.9,271.21 L317.7,271.23 L318.5,271.25 L319.3,271.26 L320.1,271.28 L320.9,271.29 L321.7,271.31 L322.5,271.32 L323.3,271.34 L324.1,271.35 L324.9,271.37 L325.7,271.38 L326.5,271.39 L327.3,271.4 L328.1,271.41 L328.9,271.42 L329.7,271.43 L330.5,271.44 L331.3,271.45 L332.1,271.46 L332.9,271.47 L333.7,271.47 L334.5,271.48 L335.3,271.49 L336.1,271.49 L336.9,271.49 L337.7,271.5 L338.5,271.5 L339.3,271.5 L340.1,271.5 L340.9,271.39 L341.7,271.13 L342.5,270.73 L343.3,270.22 L344.1,269.62 L344.9,268.94 L345.7,268.2 L346.5,267.44 L347.3,266.66 L348.1,265.89 L348.9,265.14 L349.7,264.45 L350.5,263.82 L351.3,263.28 L352.1,262.86 L352.9,262.56 L353.7,262.41 L354.5,262.41 L355.3,262.44 L356.1,262.51 L356.9,262.6 L357.7,262.72 L358.5,262.85 L359.3,262.99 L360.1,263.14 L360.9,263.3 L361.7,263.45 L362.5,263.6 L363.3,263.75 L364.1,263.88 L364.9,263.99 L365.7,264.09 L366.5,264.19 L367.3,264.28 L368.1,264.38 L368.9,264.48 L369.7,264.58 L370.5,264.67 L371.3,264.77 L372.1,264.86 L372.9,264.96 L373.7,265.05 L374.5,265.14 L375.3,265.24 L376.1,265.33 L376.9,265.42 L377.7,265.51 L378.5,265.6 L379.3,265.69 L380.1,265.78 L380.9,265.87 L381.7,265.96 L382.5,266.05 L383.3,266.14 L384.1,266.22 L384.9,266.31 L385.7,266.39 L386.5,266.48 L387.3,266.56 L388.1,266.65 L388.9,266.73 L389.7,266.82 L390.5,266.9 L391.3,266.98 L392.1,267.06 L392.9,267.14 L393.7,267.22 L394.5,267.3 L395.3,267.38 L396.1,267.46 L396.9,267.54 L397.7,267.62 L398.5,267.7 L399.3,267.77 L400.1,267.85 L400.9,267.93 L401.7,268 L402.5,268.08 L403.3,268.15 L404.1,268.23 L404.9,268.3 L405.7,268.37 L406.5,268.45 L407.3,268.52 L408.1,268.59 L408.9,268.66 L409.7,268.73 L410.5,268.8 L411.3,268.87 L412.1,268.94 L412.9,269.01 L413.7,269.08 L414.5,269.15 L415.3,269.21 L416.1,269.28 L416.9,269.35 L417.7,269.41 L418.5,269.48 L419.3,269.54 L420.1,269.61 L420.9,269.67 L421.7,269.74 L422.5,269.8 L423.3,269.86 L424.1,269.93 L424.9,269.99 L425.7,270.05 L426.5,270.11 L427.3,270.18 L428.1,270.24 L428.9,270.3 L429.7,270.36 L430.5,270.42 L431.3,270.48 L432.1,270.54 L432.9,270.6 L433.7,270.66 L434.5,270.72 L435.3,270.78 L436.1,270.83 L436.9,270.89 L437.7,270.95 L438.5,271.01 L439.3,271.06 L440.1,271.12 L440.9,271.18 L441.7,271.23 L442.5,271.29 L443.3,271.34 L444.1,271.4 L444.9,271.45 L445.7,271.5 L446.5,271.56 L447.3,271.61 L448.1,271.66 L448.9,271.71 L449.7,271.76 L450.5,271.82 L451.3,271.87 L452.1,271.92 L452.9,271.97 L453.7,272.02 L454.5,272.06 L455.3,272.11 L456.1,272.16 L456.9,272.21 L457.7,272.26 L458.5,272.3 L459.3,272.35 L460.1,272.39 L460.9,272.44 L461.7,272.48 L462.5,272.53 L463.3,272.57 L464.1,272.62 L464.9,272.66 L465.7,272.7 L466.5,272.74 L467.3,272.78 L467.6,272.8" fill="none" stroke="#229954" stroke-width="1.35" stroke-dasharray="1.35,2.23"/>
<path d="M34.5,266.4 L35.3,266.14 L36.1,265.89 L36.9,265.65 L37.7,265.43 L38.5,265.22 L39.3,265.03 L40.1,264.86 L40.9,264.68 L41.7,264.49 L42.5,264.32 L43.3,264.17 L44.1,264.06 L44.9,264 L45.7,264.02 L46.5,264.14 L47.3,264.34 L48.1,264.59 L48.9,264.86 L49.7,265.13 L50.5,265.37 L51.3,265.6 L52.1,265.86 L52.9,266.13 L53.7,266.4 L54.5,266.64 L55.3,266.84 L56.1,266.96 L56.9,267 L57.7,267 L58.5,267 L59.3,267 L60.1,267 L60.9,267 L61.7,267 L62.5,266.87 L63.3,266.25 L64.1,265.27 L64.9,264.16 L65.7,263.13 L66.5,262.27 L67.3,261.34 L68.1,260.36 L68.9,259.38 L69.7,258.47 L70.5,257.67 L71.3,257.06 L72.1,256.67 L72.9,256.52 L73.7,256.4 L74.5,256.29 L75.3,256.21 L76.1,256.15 L76.9,256.11 L77.7,256.1 L78.5,256.18 L79.3,256.35 L80.1,256.57 L80.9,256.8 L81.7,256.98 L82.5,257.09 L83.3,257.08 L84.1,256.97 L84.9,256.78 L85.7,256.52 L86.5,256.23 L87.3,255.9 L88.1,255.56 L88.9,255.09 L89.7,254.47 L90.5,253.76 L91.3,253 L92.1,252.27 L92.9,251.61 L93.7,251.04 L94.5,250.43 L95.3,249.81 L96.1,249.26 L96.9,248.84 L97.7,248.62 L98.5,248.6 L99.3,248.63 L100.1,248.68 L100.9,248.74 L101.7,248.82 L102.5,248.9 L103.3,249 L104.1,249.19 L104.9,249.52 L105.7,249.93 L106.5,250.34 L107.3,250.7 L108.1,250.94 L108.9,251 L109.7,250.96 L110.5,250.87 L111.3,250.73 L112.1,250.56 L112.9,250.33 L113.7,249.79 L114.5,248.92 L115.3,247.84 L116.1,246.35 L116.9,244.23 L117.7,241.87 L118.5,239.58 L119.3,237.21 L120.1,234.5 L120.9,231.33 L121.7,227.73 L122.5,223.76 L123.3,219.5 L124.1,214.52 L124.9,208.98 L125.7,203.78 L126.5,199.13 L127.3,194.74 L128.1,191.32 L128.9,188.83 L129.7,186.63 L130.5,185.19 L131.3,184.99 L132.1,185.96 L132.9,187.63 L133.7,189.53 L134.5,191.38 L135.3,193.56 L136.1,195.86 L136.9,198.1 L137.7,200.41 L138.5,202.74 L139.3,205.01 L140.1,207.12 L140.9,209.04 L141.7,210.88 L142.5,212.62 L143.3,214.23 L144.1,215.67 L144.9,216.88 L145.7,217.93 L146.5,218.87 L147.3,219.75 L148.1,220.63 L148.9,221.55 L149.7,222.5 L150.5,223.44 L151.3,224.39 L152.1,225.32 L152.9,226.25 L153.7,227.16 L154.5,228.05 L155.3,228.93 L156.1,229.79 L156.9,230.66 L157.7,231.53 L158.5,232.38 L159.3,233.23 L160.1,234.07 L160.9,234.9 L161.7,235.71 L162.5,236.5 L163.3,237.27 L164.1,238.01 L164.9,238.73 L165.7,239.42 L166.5,240.08 L167.3,240.72 L168.1,241.35 L168.9,241.97 L169.7,242.57 L170.5,243.16 L171.3,243.73 L172.1,244.29 L172.9,244.85 L173.7,245.39 L174.5,245.92 L175.3,246.45 L176.1,246.97 L176.9,247.48 L177.7,247.99 L178.5,248.5 L179.3,249 L180.1,249.51 L180.9,250.01 L181.7,250.51 L182.5,251.01 L183.3,251.5 L184.1,251.98 L184.9,252.46 L185.7,252.92 L186.5,253.37 L187.3,253.81 L188.1,254.23 L188.9,254.64 L189.7,255.03 L190.5,255.39 L191.3,255.74 L192.1,256.08 L192.9,256.4 L193.7,256.71 L194.5,257.02 L195.3,257.32 L196.1,257.6 L196.9,257.88 L197.7,258.14 L198.5,258.4 L199.3,258.65 L200.1,258.88 L200.9,259.11 L201.7,259.32 L202.5,259.53 L203.3,259.73 L204.1,259.93 L204.9,260.12 L205.7,260.31 L206.5,260.49 L207.3,260.67 L208.1,260.85 L208.9,261.02 L209.7,261.19 L210.5,261.36 L211.3,261.52 L212.1,261.68 L212.9,261.83 L213.7,261.99 L214.5,262.14 L215.3,262.29 L216.1,262.43 L216.9,262.57 L217.7,262.71 L218.5,262.85 L219.3,262.99 L220.1,263.12 L220.9,263.25 L221.7,263.38 L222.5,263.51 L223.3,263.64 L224.1,263.76 L224.9,263.88 L225.7,264.01 L226.5,264.13 L227.3,264.25 L228.1,264.37 L228.9,264.49 L229.7,264.6 L230.5,264.72 L231.3,264.84 L232.1,264.95 L232.9,265.06 L233.7,265.18 L234.5,265.29 L235.3,265.4 L236.1,265.51 L236.9,265.61 L237.7,265.72 L238.5,265.83 L239.3,265.93 L240.1,266.03 L240.9,266.14 L241.7,266.24 L242.5,266.34 L243.3,266.44 L244.1,266.53 L244.9,266.63 L245.7,266.72 L246.5,266.82 L247.3,266.91 L248.1,267 L248.9,267.09 L249.7,267.18 L250.5,267.27 L251.3,267.35 L252.1,267.44 L252.9,267.52 L253.7,267.6 L254.5,267.68 L255.3,267.76 L256.1,267.84 L256.9,267.92 L257.7,267.99 L258.5,268.07 L259.3,268.14 L260.1,268.21 L260.9,268.28 L261.7,268.35 L262.5,268.42 L263.3,268.49 L264.1,268.55 L264.9,268.62 L265.7,268.69 L266.5,268.76 L267.3,268.82 L268.1,268.89 L268.9,268.95 L269.7,269.02 L270.5,269.08 L271.3,269.14 L272.1,269.21 L272.9,269.27 L273.7,269.33 L274.5,269.39 L275.3,269.45 L276.1,269.51 L276.9,269.57 L277.7,269.63 L278.5,269.68 L279.3,269.74 L280.1,269.8 L280.9,269.85 L281.7,269.91 L282.5,269.96 L283.3,270.01 L284.1,270.06 L284.9,270.12 L285.7,270.17 L286.5,270.21 L287.3,270.26 L288.1,270.31 L288.9,270.36 L289.7,270.4 L290.5,270.45 L291.3,270.49 L292.1,270.53 L292.9,270.58 L293.7,270.62 L294.5,270.66 L295.3,270.69 L296.1,270.73 L296.9,270.77 L297.7,270.8 L298.5,270.84 L299.3,270.87 L300.1,270.9 L300.9,270.94 L301.7,270.97 L302.5,271 L303.3,271.03 L304.1,271.06 L304.9,271.1 L305.7,271.13 L306.5,271.16 L307.3,271.19 L308.1,271.22 L308.9,271.25 L309.7,271.29 L310.5,271.32 L311.3,271.35 L312.1,271.38 L312.9,271.41 L313.7,271.44 L314.5,271.47 L315.3,271.5 L316.1,271.53 L316.9,271.56 L317.7,271.59 L318.5,271.62 L319.3,271.64 L320.1,271.67 L320.9,271.7 L321.7,271.73 L322.5,271.75 L323.3,271.78 L324.1,271.8 L324.9,271.83 L325.7,271.85 L326.5,271.87 L327.3,271.9 L328.1,271.92 L328.9,271.94 L329.7,271.96 L330.5,271.98 L331.3,272 L332.1,272.02 L332.9,272.04 L333.7,272.05 L334.5,272.07 L335.3,272.09 L336.1,272.1 L336.9,272.11 L337.7,272.13 L338.5,272.14 L339.3,272.15 L340.1,272.16 L340.9,272.17 L341.7,272.18 L342.5,272.18 L343.3,272.19 L344.1,272.19 L344.9,272.2 L345.7,272.2 L346.5,272.2 L347.3,272.19 L348.1,272.12 L348.9,271.97 L349.7,271.74 L350.5,271.47 L351.3,271.14 L352.1,270.77 L352.9,270.37 L353.7,269.95 L354.5,269.52 L355.3,269.08 L356.1,268.66 L356.9,268.25 L357.7,267.87 L358.5,267.52 L359.3,267.22 L360.1,266.97 L360.9,266.74 L361.7,266.5 L362.5,266.26 L363.3,266.02 L364.1,265.79 L364.9,265.58 L365.7,265.38 L366.5,265.2 L367.3,265.05 L368.1,264.93 L368.9,264.84 L369.7,264.8 L370.5,264.8 L371.3,264.81 L372.1,264.82 L372.9,264.84 L373.7,264.86 L374.5,264.88 L375.3,264.92 L376.1,264.95 L376.9,264.99 L377.7,265.04 L378.5,265.09 L379.3,265.14 L380.1,265.2 L380.9,265.26 L381.7,265.32 L382.5,265.39 L383.3,265.46 L384.1,265.54 L384.9,265.62 L385.7,265.7 L386.5,265.78 L387.3,265.87 L388.1,265.96 L388.9,266.05 L389.7,266.14 L390.5,266.23 L391.3,266.33 L392.1,266.43 L392.9,266.53 L393.7,266.63 L394.5,266.73 L395.3,266.84 L396.1,266.94 L396.9,267.05 L397.7,267.15 L398.5,267.26 L399.3,267.37 L400.1,267.48 L400.9,267.58 L401.7,267.69 L402.5,267.8 L403.3,267.9 L404.1,268.01 L404.9,268.12 L405.7,268.22 L406.5,268.33 L407.3,268.43 L408.1,268.53 L408.9,268.63 L409.7,268.73 L410.5,268.83 L411.3,268.92 L412.1,269.02 L412.9,269.11 L413.7,269.2 L414.5,269.28 L415.3,269.37 L416.1,269.45 L416.9,269.53 L417.7,269.6 L418.5,269.67 L419.3,269.74 L420.1,269.81 L420.9,269.87 L421.7,269.94 L422.5,270 L423.3,270.06 L424.1,270.13 L424.9,270.19 L425.7,270.25 L426.5,270.31 L427.3,270.37 L428.1,270.44 L428.9,270.5 L429.7,270.56 L430.5,270.62 L431.3,270.68 L432.1,270.74 L432.9,270.8 L433.7,270.86 L434.5,270.92 L435.3,270.97 L436.1,271.03 L436.9,271.09 L437.7,271.15 L438.5,271.2 L439.3,271.26 L440.1,271.32 L440.9,271.37 L441.7,271.43 L442.5,271.48 L443.3,271.54 L444.1,271.59 L444.9,271.65 L445.7,271.7 L446.5,271.75 L447.3,271.81 L448.1,271.86 L448.9,271.91 L449.7,271.96 L450.5,272.01 L451.3,272.06 L452.1,272.12 L452.9,272.16 L453.7,272.21 L454.5,272.26 L455.3,272.31 L456.1,272.36 L456.9,272.41 L457.7,272.45 L458.5,272.5 L459.3,272.55 L460.1,272.59 L460.9,272.64 L461.7,272.68 L462.5,272.73 L463.3,272.77 L464.1,272.82 L464.9,272.86 L465.7,272.9 L466.5,272.94 L467.3,272.98 L467.6,273" fill="none" stroke="#145a32" stroke-width="1.35" stroke-dasharray="8.64,2.16,1.35,2.16"/>
</g>
<rect x="31.3" y="182.3" width="440.1" height="101.4" fill="none" stroke="#cfcfcf" stroke-width="0.9"/>
<path d="M28.5,283.7H31.3M28.5,270.03H31.3M28.5,256.36H31.3M28.5,242.69H31.3M28.5,229.02H31.3M28.5,215.35H31.3M28.5,201.68H31.3M28.5,188.01H31.3" stroke="#3a3a3a" stroke-width="0.9"/>
<path d="M29.7,280.97H31.3M29.7,278.23H31.3M29.7,275.5H31.3M29.7,272.76H31.3M29.7,267.3H31.3M29.7,264.56H31.3M29.7,261.83H31.3M29.7,259.09H31.3M29.7,253.63H31.3M29.7,250.89H31.3M29.7,248.16H31.3M29.7,245.42H31.3M29.7,239.96H31.3M29.7,237.22H31.3M29.7,234.49H31.3M29.7,231.75H31.3M29.7,226.29H31.3M29.7,223.55H31.3M29.7,220.82H31.3M29.7,218.08H31.3M29.7,212.62H31.3M29.7,209.88H31.3M29.7,207.15H31.3M29.7,204.41H31.3M29.7,198.95H31.3M29.7,196.21H31.3M29.7,193.48H31.3M29.7,190.74H31.3M29.7,185.28H31.3M29.7,182.54H31.3" stroke="#3a3a3a" stroke-width="0.7"/>
<path d="M471.4,283.8H474.1M471.4,259.9H474.1M471.4,236H474.1M471.4,212.1H474.1M471.4,188.2H474.1" stroke="#888" stroke-width="0.8"/>
<text x="27.1" y="286.2" font-size="6.15" fill="#333" text-anchor="end" textLength="3.69" lengthAdjust="spacingAndGlyphs" xml:space="preserve">0</text>
<text x="27.1" y="272.53" font-size="6.15" fill="#333" text-anchor="end" textLength="7.38" lengthAdjust="spacingAndGlyphs" xml:space="preserve">50</text>
<text x="27.1" y="258.86" font-size="6.15" fill="#333" text-anchor="end" textLength="11.07" lengthAdjust="spacingAndGlyphs" xml:space="preserve">100</text>
<text x="27.1" y="245.19" font-size="6.15" fill="#333" text-anchor="end" textLength="11.07" lengthAdjust="spacingAndGlyphs" xml:space="preserve">150</text>
<text x="27.1" y="231.52" font-size="6.15" fill="#333" text-anchor="end" textLength="11.07" lengthAdjust="spacingAndGlyphs" xml:space="preserve">200</text>
<text x="27.1" y="217.85" font-size="6.15" fill="#333" text-anchor="end" textLength="11.07" lengthAdjust="spacingAndGlyphs" xml:space="preserve">250</text>
<text x="27.1" y="204.18" font-size="6.15" fill="#333" text-anchor="end" textLength="11.07" lengthAdjust="spacingAndGlyphs" xml:space="preserve">300</text>
<text x="27.1" y="190.51" font-size="6.15" fill="#333" text-anchor="end" textLength="11.07" lengthAdjust="spacingAndGlyphs" xml:space="preserve">350</text>
<text x="475.8" y="286.3" font-size="6.15" fill="#a0a0a0" text-anchor="start" textLength="3.69" lengthAdjust="spacingAndGlyphs" xml:space="preserve">0</text>
<text x="475.8" y="262.4" font-size="6.15" fill="#a0a0a0" text-anchor="start" textLength="3.69" lengthAdjust="spacingAndGlyphs" xml:space="preserve">1</text>
<text x="475.8" y="238.5" font-size="6.15" fill="#a0a0a0" text-anchor="start" textLength="3.69" lengthAdjust="spacingAndGlyphs" xml:space="preserve">2</text>
<text x="475.8" y="214.6" font-size="6.15" fill="#a0a0a0" text-anchor="start" textLength="3.69" lengthAdjust="spacingAndGlyphs" xml:space="preserve">3</text>
<text x="475.8" y="190.7" font-size="6.15" fill="#a0a0a0" text-anchor="start" textLength="3.69" lengthAdjust="spacingAndGlyphs" xml:space="preserve">4</text>
<text x="0" y="0" font-size="6.15" fill="#333" text-anchor="start" textLength="33.71" lengthAdjust="spacingAndGlyphs" transform="translate(48.29,301.7) rotate(-15)" xml:space="preserve">2021-01-31</text>
<text x="0" y="0" font-size="6.15" fill="#333" text-anchor="start" textLength="33.71" lengthAdjust="spacingAndGlyphs" transform="translate(79.28,301.7) rotate(-15)" xml:space="preserve">2021-02-01</text>
<text x="0" y="0" font-size="6.15" fill="#333" text-anchor="start" textLength="33.71" lengthAdjust="spacingAndGlyphs" transform="translate(141.26,301.7) rotate(-15)" xml:space="preserve">2021-02-03</text>
<text x="0" y="0" font-size="6.15" fill="#333" text-anchor="start" textLength="33.71" lengthAdjust="spacingAndGlyphs" transform="translate(203.24,301.7) rotate(-15)" xml:space="preserve">2021-02-05</text>
<text x="0" y="0" font-size="6.15" fill="#333" text-anchor="start" textLength="33.71" lengthAdjust="spacingAndGlyphs" transform="translate(265.22,301.7) rotate(-15)" xml:space="preserve">2021-02-07</text>
<text x="0" y="0" font-size="6.15" fill="#333" text-anchor="start" textLength="33.71" lengthAdjust="spacingAndGlyphs" transform="translate(327.2,301.7) rotate(-15)" xml:space="preserve">2021-02-09</text>
<text x="0" y="0" font-size="6.15" fill="#333" text-anchor="start" textLength="33.71" lengthAdjust="spacingAndGlyphs" transform="translate(389.18,301.7) rotate(-15)" xml:space="preserve">2021-02-11</text>
<text x="0" y="0" font-size="6.5" fill="#222" font-weight="bold" text-anchor="middle" textLength="64.63" lengthAdjust="spacingAndGlyphs" transform="translate(12.9,233.5) rotate(-90)" xml:space="preserve">Streamflow (m³/s)</text>
<text x="0" y="0" font-size="6.6" fill="#222" font-weight="bold" text-anchor="middle" textLength="68.48" lengthAdjust="spacingAndGlyphs" transform="translate(485,233.5) rotate(-90)" xml:space="preserve">Precipitation (mm)</text>
<text x="251.18" y="180" font-size="7.3" fill="#222" font-weight="bold" text-anchor="middle" textLength="230.09" lengthAdjust="spacingAndGlyphs" xml:space="preserve">Flood Simulation for Catchment Y1422010 (downstream)</text>
<rect x="58.1" y="303.3" width="386.2" height="27.5" fill="#fff" fill-opacity="0.85" stroke="#d6d6d6" stroke-width="0.8" rx="1"/>
<path d="M60.1,307.6H72.1" stroke="#3498db" stroke-width="1.35" stroke-dasharray="5,2.16" fill="none"/>
<text x="76.07" y="309.7" font-size="6.15" fill="#3a3a3a" text-anchor="start" textLength="60.46" lengthAdjust="spacingAndGlyphs" xml:space="preserve">GR.U  (RMSE=100.1)</text>
<path d="M60.1,316.8H72.1" stroke="#2874a6" stroke-width="1.35" stroke-dasharray="1.35,2.23" fill="none"/>
<text x="76.07" y="318.9" font-size="6.15" fill="#3a3a3a" text-anchor="start" textLength="67.95" lengthAdjust="spacingAndGlyphs" xml:space="preserve">GR.MLP  (RMSE=52.06)</text>
<path d="M60.1,325.6H72.1" stroke="#1b4f72" stroke-width="1.35" stroke-dasharray="8.64,2.16,1.35,2.16" fill="none"/>
<text x="76.07" y="327.7" font-size="6.15" fill="#3a3a3a" text-anchor="start" textLength="68.94" lengthAdjust="spacingAndGlyphs" xml:space="preserve">GR.CNN  (RMSE=28.97)</text>
<path d="M156.9,307.6H168.9" stroke="#e74c3c" stroke-width="1.35" stroke-dasharray="5,2.16" fill="none"/>
<text x="172.57" y="309.7" font-size="6.15" fill="#3a3a3a" text-anchor="start" textLength="64.84" lengthAdjust="spacingAndGlyphs" xml:space="preserve">ODE.U  (RMSE=93.39)</text>
<path d="M156.9,316.8H168.9" stroke="#b03a2e" stroke-width="1.35" stroke-dasharray="1.35,2.23" fill="none"/>
<text x="172.57" y="318.9" font-size="6.15" fill="#3a3a3a" text-anchor="start" textLength="72.33" lengthAdjust="spacingAndGlyphs" xml:space="preserve">ODE.MLP  (RMSE=43.67)</text>
<path d="M156.9,325.6H168.9" stroke="#7b241c" stroke-width="1.35" stroke-dasharray="8.64,2.16,1.35,2.16" fill="none"/>
<text x="172.57" y="327.7" font-size="6.15" fill="#3a3a3a" text-anchor="start" textLength="73.33" lengthAdjust="spacingAndGlyphs" xml:space="preserve">ODE.CNN  (RMSE=29.26)</text>
<path d="M261.7,307.6H273.7" stroke="#2ecc71" stroke-width="1.35" stroke-dasharray="5,2.16" fill="none"/>
<text x="278.3" y="309.7" font-size="6.15" fill="#3a3a3a" text-anchor="start" textLength="68.21" lengthAdjust="spacingAndGlyphs" xml:space="preserve">UDE.U  (RMSE=101.51)</text>
<path d="M261.7,316.8H273.7" stroke="#229954" stroke-width="1.35" stroke-dasharray="1.35,2.23" fill="none"/>
<text x="278.3" y="318.9" font-size="6.15" fill="#3a3a3a" text-anchor="start" textLength="72.01" lengthAdjust="spacingAndGlyphs" xml:space="preserve">UDE.MLP  (RMSE=40.76)</text>
<path d="M261.7,325.6H273.7" stroke="#145a32" stroke-width="1.35" stroke-dasharray="8.64,2.16,1.35,2.16" fill="none"/>
<text x="278.3" y="327.7" font-size="6.15" fill="#3a3a3a" text-anchor="start" textLength="73.01" lengthAdjust="spacingAndGlyphs" xml:space="preserve">UDE.CNN  (RMSE=33.37)</text>
<rect x="363.6" y="305.65" width="11.4" height="3.9" fill="#c4c4c4"/>
<text x="379.03" y="309.7" font-size="6.15" fill="#3a3a3a" text-anchor="start" textLength="36.25" lengthAdjust="spacingAndGlyphs" xml:space="preserve">Precipitation</text>
<path d="M363.6,316.8H375" stroke="#7a7a7a" stroke-width="1.9" stroke-linecap="square"/>
<text x="379.27" y="318.9" font-size="6.15" fill="#3a3a3a" text-anchor="start" textLength="62.68" lengthAdjust="spacingAndGlyphs" xml:space="preserve">Observed Streamflow</text></svg>
</body></html>
